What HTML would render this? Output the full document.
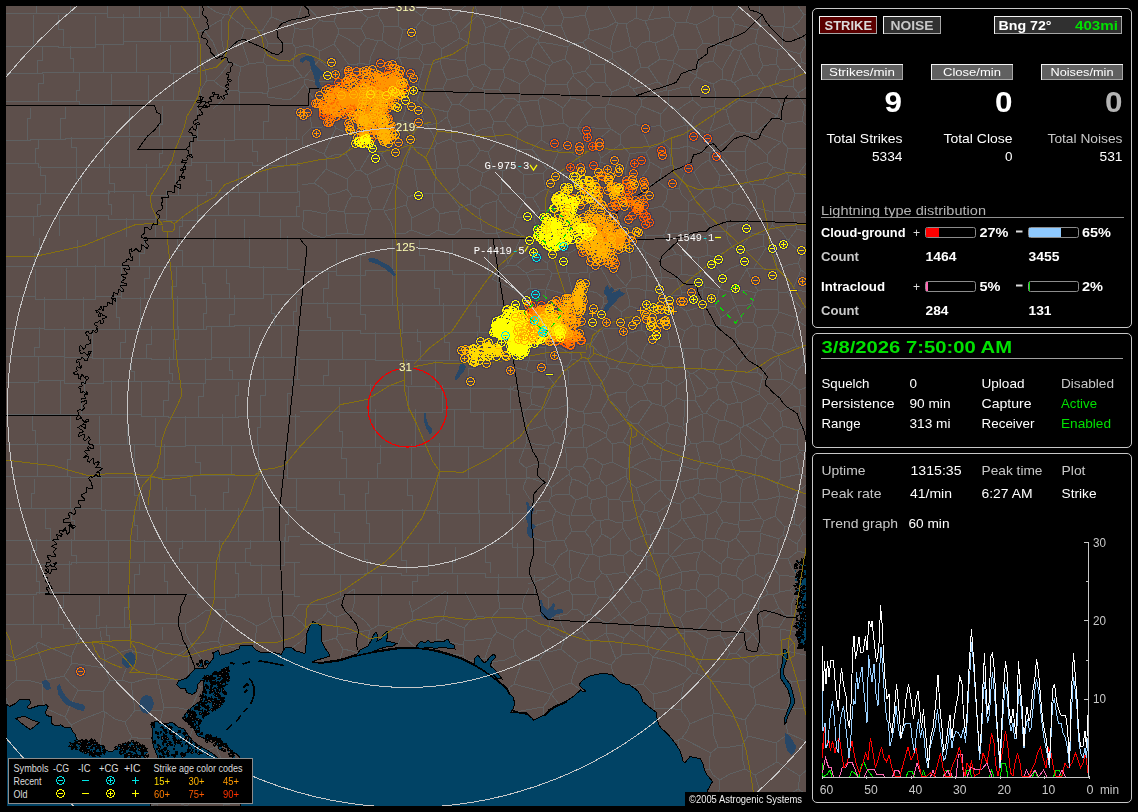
<!DOCTYPE html>
<html><head><meta charset="utf-8"><title>Lightning</title>
<style>html,body{margin:0;padding:0;background:#000;overflow:hidden}svg{display:block}text{font-family:"Liberation Sans",sans-serif}.sf{font-family:"Liberation Serif",serif}</style></head><body>
<svg width="1138" height="812" viewBox="0 0 1138 812">
<defs><clipPath id="mc"><rect x="6" y="6" width="800" height="800"/></clipPath>
<path id="n" d="M-1 -4h3v1h-3zM-3 -3h2v1h-2zM2 -3h2v1h-2zM-3 -2h1v1h-1zM3 -2h1v1h-1zM-4 -1h1v3h-1zM4 -1h1v3h-1zM-3 2h1v1h-1zM3 2h1v1h-1zM-3 3h2v1h-2zM2 3h2v1h-2zM-1 4h3v1h-3zM-2 0h5v1h-5z"/>
<path id="p" d="M-1 -4h3v1h-3zM-3 -3h2v1h-2zM2 -3h2v1h-2zM-3 -2h1v1h-1zM3 -2h1v1h-1zM-4 -1h1v3h-1zM4 -1h1v3h-1zM-3 2h1v1h-1zM3 2h1v1h-1zM-3 3h2v1h-2zM2 3h2v1h-2zM-1 4h3v1h-3zM-2 0h5v1h-5zM0 -2h1v5h-1z"/>
<path id="i" d="M-3 0h7v1h-7z"/>
<path id="j" d="M-3 0h7v1h-7zM0 -3h1v7h-1z"/>
<filter id="halo" filterUnits="userSpaceOnUse" x="0" y="0" width="812" height="812" color-interpolation-filters="sRGB"><feMorphology in="SourceAlpha" operator="dilate" radius="1" result="d"/><feFlood flood-color="#35325a" flood-opacity="0.6"/><feComposite in2="d" operator="in" result="h"/><feMerge><feMergeNode in="h"/><feMergeNode in="SourceGraphic"/></feMerge></filter>
</defs>
<rect width="1138" height="812" fill="#000"/>
<g clip-path="url(#mc)" shape-rendering="crispEdges">
<rect x="6" y="6" width="800" height="800" fill="#5d4f4b"/>
<path d="M33 -10L33 5L36 5L36 13M70 -9L70 13M107 -9L107 13M139 -10L139 17M171 -8L171 4L168 4L168 17M199 -10L199 17M6 13L33 13L70 13L107 13L107 17L139 17L171 17L171 17L199 17L199 14L200 14M33 15L33 46M58 15L58 29L63 29L63 46M95 16L95 47M123 14L123 44M160 12L160 41M187 14L187 41M6 46L33 46L58 46L58 47L95 47L95 44L123 44L123 41L160 41L187 41L200 41M42 46L42 60L37 60L37 73M70 46L70 58L73 58L73 72M103 45L103 72M136 44L136 72M170 45L170 72M197 43L197 73M6 73L42 73L42 72L70 72L103 72L136 72L170 72L170 73L197 73L197 71L200 71M43 74L43 83L38 83L38 101M79 72L79 90L76 90L76 101M111 74L111 104M148 75L148 100M173 74L173 100M6 101L43 101L79 101L79 104L111 104L111 100L148 100L173 100L200 100M30 108L30 118L27 118L27 140M65 107L65 118L60 118L60 139M104 105L104 138M129 105L129 136M162 106L162 124L159 124L159 136M197 104L197 136M234 105L234 140M268 105L268 121L263 121L263 139M296 108L296 139M6 140L30 140L30 139L65 139L65 138L104 138L104 136L129 136L162 136L197 136L197 140L234 140L234 139L268 139L296 139L300 139M38 139L38 148L35 148L35 163M71 137L71 147L76 147L76 167M104 140L104 167M129 138L129 167M162 136L162 153L159 153L159 167M191 139L191 165M224 138L224 162M252 140L252 151L257 151L257 162M286 137L286 165M6 163L38 163L38 167L71 167L104 167L129 167L162 167L162 165L191 165L191 162L224 162L252 162L252 165L286 165L300 165M40 166L40 175L45 175L45 193M76 162L76 178L81 178L81 193M109 164L109 183L114 183L114 193M146 164L146 191M175 163L175 182L178 182L178 195M206 164L206 180L211 180L211 195M238 163L238 192M267 165L267 192M297 162L297 192M6 193L40 193L76 193L109 193L109 191L146 191L146 195L175 195L206 195L206 192L238 192L267 192L297 192L297 191L300 191M40 194L40 204L37 204L37 216M78 193L78 215M108 190L108 204L111 204L111 215M133 194L133 219M166 190L166 219M197 193L197 220M228 194L228 215M259 192L259 215M299 192L299 206L296 206L296 216M6 216L40 216L40 215L78 215L108 215L108 219L133 219L166 219L166 220L197 220L197 215L228 215L259 215L259 216L299 216L300 216M33 217L33 236M59 216L59 236M96 216L96 237M126 218L126 237M155 216L155 237M182 217L182 226L179 226L179 240M215 219L215 240M244 219L244 240M280 219L280 240M39 238L39 253L34 253L34 266M77 240L77 266M104 239L104 266M144 239L144 253L139 253L139 266M177 238L177 250L182 250L182 266M213 238L213 266M249 237L249 266M287 236L287 267M6 266L39 266L77 266L104 266L144 266L177 266L213 266L213 266L249 266L249 267L287 267L287 269L300 269M35 269L35 296M66 268L66 299M95 265L95 299M121 267L121 296M149 266L149 278L144 278L144 298M176 267L176 286L171 286L171 298M202 266L202 283L205 283L205 298M226 269L226 283L229 283L229 298M263 266L263 298M6 296L35 296L35 299L66 299L95 299L95 296L121 296L121 298L149 298L176 298L202 298L226 298L263 298L263 294L300 294M44 297L44 328M83 297L83 329M116 296L116 317L119 317L119 329M140 297L140 329M177 296L177 329M206 296L206 313L203 313L203 329M234 295L234 314L229 314L229 326M271 295L271 313L274 313L274 325M296 297L296 311L293 311L293 325M6 328L44 328L44 329L83 329L116 329L116 329L140 329L177 329L177 329L206 329L206 326L234 326L234 325L271 325L271 325L296 325L296 329L300 329M39 327L39 347L34 347L34 356M64 327L64 356M92 329L92 357M125 329L125 342L120 342L120 358M151 326L151 344L146 344L146 358M178 326L178 339L173 339L173 359M211 326L211 359M249 327L249 357M281 326L281 357M6 356L39 356L64 356L64 357L92 357L92 358L125 358L151 358L151 359L178 359L211 359L211 357L249 357L281 357L300 357M38 356L38 382M64 356L64 380M103 359L103 383M131 359L131 371L134 371L134 381M169 357L169 373L172 373L172 381M205 358L205 383M229 358L229 370L232 370L232 379M263 356L263 379M297 356L297 379M6 382L38 382L38 380L64 380L64 383L103 383L103 381L131 381L169 381L169 383L205 383L205 379L229 379L263 379L297 379L300 379M34 383L34 414M60 380L60 414M84 380L84 398L81 398L81 414M111 380L111 414M141 382L141 414M168 380L168 400L163 400L163 416M203 383L203 396L198 396L198 417M238 382L238 395L235 395L235 417M265 379L265 395L260 395L260 416M292 381L292 393L287 393L287 416M6 414L34 414L60 414L84 414L111 414L111 414L141 414L141 416L168 416L168 417L203 417L238 417L238 416L265 416L292 416L300 416M32 415L32 430L35 430L35 444M70 414L70 444M99 416L99 444M127 415L127 444M155 418L155 444M185 416L185 446M222 414L222 445M260 414L260 427L257 427L257 445M295 414L295 445M6 444L32 444L70 444L99 444L127 444L155 444L155 446L185 446L185 445L222 445L260 445L295 445L300 445M37 443L37 476M70 444L70 459L67 459L67 476M100 446L100 477M134 444L134 477M164 444L164 477M195 445L195 462L200 462L200 475M231 446L231 475M258 444L258 475M287 445L287 475M6 476L37 476L37 476L70 476L70 477L100 477L134 477L164 477L164 475L195 475L231 475L258 475L287 475L287 478L300 478M34 479L34 493L31 493L31 508M70 477L70 508M101 476L101 508M134 478L134 495L139 495L139 510M162 479L162 510M190 477L190 495L195 495L195 510M228 478L228 492L223 492L223 510M262 477L262 510M296 478L296 507M6 508L34 508L70 508L101 508L101 510L134 510L134 510L162 510L190 510L190 510L228 510L262 510L262 507L296 507L296 510L300 510M45 509L45 528L50 528L50 540M71 509L71 520L74 520L74 540M105 509L105 540M134 509L134 525L137 525L137 540M166 507L166 541M205 508L205 541M238 508L238 541M263 507L263 541M288 509L288 524L285 524L285 541M6 540L45 540L71 540L105 540L105 540L134 540L134 541L166 541L205 541L238 541L263 541L288 541L288 536L300 536M36 539L36 550L31 550L31 564M71 539L71 555L76 555L76 564M108 540L108 562M144 540L144 562M182 540L182 548L179 548L179 562M219 540L219 562M250 540L250 548L245 548L245 562M284 537L284 565M6 564L36 564L71 564L71 562L108 562L108 562L144 562L144 562L182 562L219 562L250 562L250 565L284 565L284 562L300 562M36 564L36 581L39 581L39 594M69 561L69 592M108 563L108 594M139 564L139 574L134 574L134 594M164 564L164 581L167 581L167 594M197 564L197 594M235 563L235 573L238 573L238 597M261 564L261 594M294 562L294 594M6 594L36 594L36 592L69 592L69 594L108 594L139 594L164 594L197 594L197 597L235 597L235 594L261 594L294 594L294 596L300 596M336 238L336 271M365 239L365 255L360 255L360 275M392 238L392 270M419 240L419 255L424 255L424 270M452 240L452 252L449 252L449 270M488 238L488 274M300 271L336 271L336 275L365 275L365 270L392 270L419 270L452 270L452 274L488 274L516 274L516 274L545 274M328 273L328 288L323 288L323 303M360 272L360 303M392 271L392 305M434 270L434 288L439 288L439 305M464 272L464 305M497 272L497 305M300 303L328 303L328 303L360 303L360 305L392 305L434 305L464 305L497 305L526 305L545 305M327 302L327 317L330 317L330 330M360 305L360 314L365 314L365 330M402 303L402 333M443 303L443 332M476 302L476 316L479 316L479 332M300 330L327 330L327 330L360 330L360 333L402 333L402 332L443 332L476 332L506 332L545 332M342 332L342 359M375 332L375 359M417 329L417 341L420 341L420 360M444 332L444 342L449 342L449 360M477 331L477 360M300 359L342 359L375 359L375 360L417 360L444 360L444 360L477 360L477 356L512 356L512 360L545 360M328 360L328 375L323 375L323 385M365 361L365 385M406 359L406 371L411 371L411 385M435 360L435 386M473 357L473 368L468 368L468 388M300 385L328 385L365 385L406 385L406 386L435 386L435 388L473 388L513 388L513 386L545 386M339 387L339 411M370 384L370 412M408 386L408 412M442 385L442 412M470 384L470 409M510 386L510 412M300 411L339 411L339 412L370 412L370 412L408 412L442 412L442 409L470 409L470 412L510 412L510 409L541 409L541 407L545 407M339 408L339 431L342 431L342 447M375 409L375 447M415 409L415 447M454 410L454 446M483 411L483 446M513 409L513 448M300 447L339 447L339 447L375 447L415 447L415 446L454 446L483 446L483 448L513 448L513 448L545 448M341 447L341 458L346 458L346 478M380 445L380 463L377 463L377 478M411 444L411 478M439 443L439 478M468 447L468 478M505 447L505 478M300 478L341 478L380 478L411 478L439 478L468 478L505 478L542 478L545 478M339 481L339 494L344 494L344 510M368 481L368 493L365 493L365 510M407 479L407 495L412 495L412 510M437 480L437 510M478 478L478 513M506 479L506 494L509 494L509 513M300 510L339 510L368 510L368 510L407 510L407 510L437 510L437 513L478 513L506 513L536 513L536 510L545 510M334 513L334 532L339 532L339 544M366 510L366 523L369 523L369 543M402 509L402 543M439 511L439 543M479 510L479 543M512 511L512 543M300 544L334 544L334 543L366 543L402 543L439 543L479 543L512 543L512 547L544 547L545 547M334 545L334 574M364 543L364 559L367 559L367 574M401 546L401 560L406 560L406 573M428 543L428 575M455 547L455 562L452 562L452 573M485 546L485 562L490 562L490 573M517 543L517 577M300 574L334 574L364 574L364 573L401 573L401 575L428 575L428 573L455 573L485 573L485 577L517 577L517 577L543 577L543 577L545 577M340 574L340 596M381 576L381 596M417 574L417 581L412 581L412 596M457 575L457 595M498 574L498 596M534 575L534 596M33 596L33 624M63 595L63 607L58 607L58 624M99 596L99 615L96 615L96 628M129 597L129 607L124 607L124 627M154 595L154 624M6 624L33 624L63 624L63 628L99 628L99 627L129 627L129 624L154 624L154 623L186 623M41 624L41 638M79 625L79 633L76 633L76 638M106 625L106 635L109 635L109 641M131 626L131 639M162 627L162 640M684 683L667 691L653 694M684 683L681 696L681 710M653 694L655 708M655 708L669 708L681 710M696 673L709 679M696 673L693 673M693 673L684 683M681 710L687 718L690 724M709 679L711 681M711 681L710 695L714 713M690 724L699 720L712 715M714 713L712 715M546 834L542 831M542 831L524 831M524 831L502 880M188 828L179 831L168 837M188 828L192 830M224 835L219 828M219 828L204 828L192 830M248 832L239 834L224 835M224 804L223 814L219 828M224 804L218 798M218 798L209 799L192 800M188 828L187 806M187 806L192 800M224 804L230 804L240 803M248 832L252 829M241 806L246 815L252 829M252 829L265 829L275 828M837 269L836 256L833 249M753 688L756 704M753 688L749 685M749 685L731 683L711 681M714 713L731 716L745 720M756 704L745 720M742 745L730 747L718 747M742 745L748 736M718 747L714 736L712 715M748 736L745 720M742 745L742 757L745 769M745 769L755 775M777 762L755 775M777 762L776 743M748 736L776 743M678 740L682 738M678 740L680 751M682 738L711 753M704 770L710 769M711 753L709 760L710 769M655 708L654 710M690 724L687 731L682 738M673 740L678 740M718 747L711 753M745 769L730 774L720 780M720 780L713 775L710 769M720 780L718 800M755 775L761 795M761 795L759 797M718 800L759 797M820 803L809 796L798 789M820 803L852 788L896 764M896 764L870 760L823 755M823 755L800 776M800 776L798 789M777 762L800 776M761 795L776 797L784 801M784 801L790 794L798 789M771 832L776 825L786 818M786 818L800 829L814 838M732 832L743 827L750 824M750 824L763 830L771 832M784 801L784 811L786 818M750 824L754 814L759 797M821 830L820 803M821 830L814 838M271 17L271 6M271 17L293 25M271 6L282 -1M282 -1L302 5M293 25L298 18L302 5M241 -4L231 5M231 5L194 -41M524 831L514 824M502 880L492 858L488 840M514 824L502 830L488 840M458 841L465 837L473 830M488 840L473 830M614 897L621 880L630 851M614 897L572 834M630 851L610 815M572 834L576 824M576 824L583 819L593 809M593 809L610 815M546 834L572 834M593 806L593 809M618 806L610 815M91 870L93 852L93 836M91 870L72 849L61 836M61 836L71 824M93 836L71 824M168 837L167 836M164 798L172 801L187 806M164 798L157 804M167 836L157 804M167 836L133 835M93 836L99 830M99 830L116 830L130 828M133 835L130 828M157 671L156 678M157 671L174 658L188 648M188 648L189 660L188 676M184 679L158 680M158 680L156 678M164 708L175 707L188 710M164 708L158 680M191 708L201 687M201 687L198 685M194 762L194 766M158 760L155 771M190 772L162 779M190 772L194 766M155 771L162 779M193 728L190 737M220 742L216 747M216 747L207 750M220 778L194 766M220 778L227 771M227 771L222 761L216 747M164 798L162 787L162 779M192 800L189 787L190 772M218 798L220 787L220 778M163 710L160 722M163 710L152 710L135 710M152 738L143 739L132 737M132 737L128 730L125 722M135 710L130 717L125 722M164 708L163 710M131 683L135 710M131 683L146 679L156 678M204 686L201 687M696 673L704 654L708 639M708 639L720 635M709 679L723 664L730 653M720 635L723 639M730 653L723 639M720 635L722 623M723 639L734 636L748 631M748 631L742 626L736 616M722 623L736 616M708 639L696 632M696 632L706 621L711 613M722 623L716 619L711 613M446 591L412 612M409 601L412 612M275 828L277 826M275 806L277 807M277 826L277 818L277 807M299 829L333 830M339 850L333 830M384 880L377 858L369 827M369 827L358 836L339 850M277 826L290 830L298 830M314 806L304 821L299 829M14 658L24 652L36 645M14 658L16 666L17 680M36 645L42 662L47 680M47 680L43 684M43 684L27 680L17 680M6 654L14 658M6 689L12 683L17 680M131 683L122 680M152 656L133 651M152 656L157 671M122 680L128 663L133 651M132 737L127 743M125 722L115 719L105 712M105 712L100 745M105 750L114 750M838 146L834 144M834 144L835 136L833 128M833 128L853 109L863 97M805 106L824 103M805 106L802 121M809 128L802 121M809 128L823 122M823 122L827 104M824 103L827 104M798 93L798 95M798 93L807 87L814 82M798 95L805 106M814 82L816 83M816 83L822 95L824 103M834 144L823 146L813 146M833 128L823 122M813 146L809 128M863 97L827 104M833 234L832 240L832 248M824 187L825 178L825 171M824 187L846 187L864 183M825 171L832 167L838 163M864 183L838 163M831 211L828 199L822 189M822 189L824 187M838 146L838 163M795 194L791 185L788 180M795 194L789 211M789 211L774 212M774 212L774 202L776 189M788 180L776 189M773 212L757 208M763 184L776 189M763 184L752 185M757 208L756 196L752 185M777 290L777 270M777 290L765 289L758 291M758 291L750 277L747 269M747 269L754 268M754 268L777 270M779 292L777 290M779 292L787 292M801 270L798 263M801 270L793 289M798 263L788 265L777 270M787 292L793 289M718 588L706 598M718 588L718 577M718 577L710 574L700 575M700 575L697 582L696 589M706 598L700 592L696 589M706 608L711 613M706 608L706 598M711 613L729 598M729 598L725 592L718 588M706 608L698 609L686 612M686 612L685 591M685 591L696 589M625 572L630 578M625 572L624 566L623 556M633 578L630 578M633 578L646 569M646 569L647 557M647 557L637 555L630 550M623 556L630 550M735 -11L739 -2L744 1M744 1L756 3M759 6L756 3M759 6L772 2M790 -48L783 -30L772 2M804 15L810 14M804 15L798 6L792 2M810 14L819 4M792 2L793 -2M793 -2L815 -2M819 4L815 -2M785 27L792 27M785 27L784 13L783 6M792 27L798 23L804 15M783 6L792 2M849 6L817 30M849 6L819 4M817 30L810 14M790 -48L793 -19L793 -2M783 6L772 2M759 6L761 25M784 27L773 26L761 25M744 1L731 17M731 17L735 24M735 24L758 30M761 25L758 30M620 135L611 129M620 135L628 127L635 124M611 129L606 120L605 107M635 124L636 115M636 115L626 109L608 104M605 107L608 104M611 129L578 127M578 127L582 119L593 107M605 107L593 107M567 -12L588 7M598 2L588 7M601 2L598 2M601 2L610 -10L626 -28M535 -13L545 -10L560 -4M567 -12L560 -4M735 -11L722 -5L711 -2M710 -3L711 -2M661 114L641 106M661 114L669 105M641 106L641 100M669 105L668 91M641 100L655 93L667 90M641 106L636 115M608 104L612 92M641 100L633 89M633 89L628 85M628 85L612 92M263 -1L254 -4L241 -4M271 6L263 -1M482 -2L502 4M482 -2L475 2M475 2L477 16M486 28L482 19L477 16M486 28L495 24L500 21M500 21L500 13L502 4M510 1L502 4M620 135L621 144M611 129L594 143M621 144L601 158M601 158L594 143M577 127L582 135L588 141M594 143L588 141M787 710L787 712M787 718L786 724L788 733M791 709L817 707M788 733L816 746M816 746L819 729L819 711M819 711L817 707M756 704L773 708L787 710M776 743L784 737L788 733M784 676L792 682M779 672L753 688M792 682L791 686M789 695L789 702L787 710M792 682L805 680L814 676M826 688L814 676M826 688L817 707M823 755L816 746M651 830L650 806M651 830L630 851M716 836L727 830M716 836L686 839M727 830L722 816L717 801M686 839L681 834M681 834L687 816L691 806M707 802L717 801M732 832L727 830M651 830L663 832L681 834M667 443L679 446L686 447M667 443L666 435L670 424M682 427L670 424M682 427L691 443M691 443L686 447M806 636L812 641M820 619L818 636M820 619L810 614M812 641L818 636M806 616L810 614M839 632L835 642M835 642L837 651M837 651L867 667L897 684M833 616L820 619M833 616L839 632M818 636L825 640L835 642M835 614L833 616M815 663L825 658L837 651M815 663L810 656M810 656L810 647L812 641M826 688L866 685L897 684M814 676L815 663M860 587L840 594M840 594L834 599M835 614L833 606L834 599M798 638L792 644L786 651M799 633L792 631L780 629M780 629L782 652M810 656L800 654L787 651M779 672L777 666L778 656M778 656L782 652M791 615L801 617M791 615L786 616M786 616L779 628M293 25L295 28M302 5L305 4M295 28L303 30L312 28M312 28L320 20M320 20L305 4M412 218L411 230M412 218L406 205M406 205L397 208L384 211M384 211L391 223L394 233M411 230L404 234M394 233L404 234M369 827L371 822M336 806L333 818L333 830M363 806L371 822M542 831L542 806M514 824L507 806M576 824L569 816L566 806M498 806L490 816L473 829M473 829L468 820L463 808M464 806L463 808M448 592L447 602L443 619M412 619L412 612M412 619L436 624M436 624L443 619M643 684L653 694M643 684L631 686M3 777L6 773M71 657L80 637M71 657L38 642M36 645L38 642M154 650L160 643M152 656L154 650M131 649L133 651M188 648L189 646M189 646L160 643M189 646L191 644M207 667L191 644M272 617L268 597M257 626L267 621L272 617M257 626L241 617L227 614M227 614L225 609M225 609L226 599M218 641L201 643L191 644M218 641L220 644M220 655L220 644M686 612L680 618M664 592L679 588M664 592L665 601L664 613M685 591L679 588M680 618L672 614L664 613M696 632L685 631M680 618L685 631M693 673L686 667M686 667L684 633M684 633L685 631M749 664L736 653M749 664L756 658L765 652M736 653L753 634M765 652L753 634M749 685L749 664M730 653L736 653M778 656L765 652M748 631L753 634M753 634L762 626M762 626L779 628M729 598L735 600M735 600L734 609L736 616M100 631L105 660M131 649L121 652L105 660M370 630L338 635M370 630L368 639L368 645M358 653L352 651L343 649M343 649L336 638M338 635L336 638M660 588L664 592M660 588L643 591M643 591L640 601M661 614L664 613M661 614L649 613M649 613L645 606L640 601M643 591L633 578M630 578L622 588M640 601L632 603M622 588L627 596L632 603M292 648L300 642L307 635M343 649L340 660M322 642L336 638M322 659L324 662M370 630L372 629M336 617L338 635M336 617L352 611M372 629L365 621L352 611M374 651L376 651M402 629L391 627L379 625M402 629L403 633M403 633L399 642L397 648M372 629L379 625M227 771L240 768M110 681L107 673L104 668M110 681L103 692M104 668L72 663M103 692L78 690M78 690L70 683L64 676M64 676L72 663M122 680L110 681M105 660L104 668M104 711L105 712M104 711L103 692M71 657L72 663M104 711L83 719L71 725M65 717L71 725M65 717L72 702L78 690M47 680L64 676M43 684L42 696L44 705M47 709L65 717M99 830L98 819L96 806M71 824L69 807M69 807L70 806M136 806L137 808M137 808L131 814M131 814L124 811L118 806M155 771L150 772M157 804L150 806M148 806L137 808M130 828L131 814M730 292L736 305M730 292L734 290M734 290L744 290L756 293M736 305L745 306L752 303M752 303L756 293M758 291L756 293M747 269L734 290M779 292L778 309M756 310L778 309M756 310L752 303M825 274L814 279M825 274L834 276M834 276L838 283M814 279L811 285L809 292M838 283L837 287M837 287L822 290L811 296M809 292L811 296M801 270L814 279M798 263L802 254M802 254L810 251M810 251L820 265L825 274M837 269L834 276M832 248L821 250L811 250M793 289L802 291L809 292M839 305L838 296L837 287M815 305L839 305M815 305L812 303M812 303L811 296M802 309L787 292M802 309L812 303M802 254L788 241M788 241L797 229M811 250L810 240L812 231M797 229L804 231L812 231M773 212L772 225M789 211L793 213M797 229L794 219L793 213M788 241L782 232L772 225M777 270L776 262L774 252M788 241L782 247L774 252M754 268L766 248M774 252L766 248M736 131L749 134M736 131L730 123M730 123L726 110M726 110L733 104L740 100M751 103L740 100M751 103L751 132M751 132L749 134M772 225L768 232L763 235M766 248L764 246M763 235L764 246M757 208L751 212M752 233L763 235M752 233L745 222M751 212L745 222M642 387L634 384M642 387L648 400M626 392L634 384M626 392L626 400L630 408M630 408L640 401L648 400M705 539L715 538M705 539L703 541M729 542L720 540L715 538M729 542L728 548L727 557M727 557L721 564M721 564L712 558L702 550M703 541L702 550M696 570L700 575M696 570L697 561L700 552M718 577L722 573M721 564L722 573M702 550L700 552M681 571L677 564L672 557M681 572L659 579M672 557L671 556M671 556L664 564L659 577M659 579L659 577M696 570L689 571L681 571M679 588L682 582L681 572M700 552L686 554L672 557M660 588L659 579M646 569L653 572L659 577M841 556L839 547L836 541M836 541L872 523M815 305L816 315L818 326M839 305L837 317L836 324M818 326L833 326M836 324L833 326M818 326L814 328M833 326L830 337L829 349M829 349L810 347M814 328L810 339L810 347M533 387L530 394M533 387L544 388L552 388M530 394L532 404M532 404L544 408M544 408L550 396L552 388M547 425L529 430M547 425L544 416L545 409M532 404L523 413M529 430L526 422L523 413M504 388L530 394M612 462L626 469M612 462L603 465M603 465L599 478M626 469L626 476M626 476L617 481L606 486M599 478L606 486M608 396L608 399M608 396L618 392L626 392M630 408L626 418M608 399L618 408L626 418M586 448L588 458M586 448L606 437M588 458L594 459L603 465M612 462L613 451L612 444M612 444L606 437M586 448L584 447M584 424L582 427M584 424L598 429L606 434M584 447L583 437L582 427M606 437L606 434M584 414L584 424M584 414L601 412M601 412L606 421L609 426M606 434L609 426M608 399L601 412M609 426L616 424L626 419M677 398L664 407M677 398L676 386M676 386L667 380M662 406L664 407M662 406L661 395L662 383M662 383L667 380M642 387L647 383M647 383L656 383L662 383M652 403L648 400M652 403L662 406M667 422L667 414L664 407M667 422L670 424M677 398L685 401M683 426L684 417L685 401M295 28L292 43M312 28L313 38L313 47M313 47L306 45L296 48M292 43L296 48M571 332L565 320L562 312M571 332L549 335M549 335L548 323L548 311M562 312L548 311M647 383L650 374L653 365M666 369L667 380M666 369L661 363M661 363L653 365M533 387L532 373M532 373L526 370M506 367L517 368L526 370M522 316L520 318M522 316L523 308L522 294M510 318L520 318M492 279L522 294M454 235L448 234L438 230M428 236L438 230M411 230L428 236M485 233L482 231M482 231L470 229L462 228M462 228L454 235M462 228L458 211M440 214L438 230M440 214L449 212L458 211M434 207L440 214M434 207L420 214L412 218M822 39L817 64M817 30L817 36M822 39L817 36M792 27L800 37L806 41M817 36L806 41M814 82L811 66M811 66L817 64M731 81L736 65L741 53M731 81L734 83M734 83L742 78L753 75M741 53L753 75M593 107L586 101M586 101L587 89M605 83L612 92M605 83L595 82M595 82L587 89M571 98L586 101M571 98L567 84M567 84L573 76M587 89L573 76M560 -4L557 2M588 7L585 15M585 15L574 17L564 18M557 2L564 18M530 74L539 78L545 82M530 74L525 62M525 62L531 57M545 82L545 76L550 66M550 66L543 63L531 57M550 66L553 63M531 57L534 47L538 42M553 63L538 42M669 105L678 110M668 91L680 88L689 87M689 87L693 100M678 110L686 104L693 100M731 17L718 17M711 -2L712 5L714 15M718 17L714 15M633 89L658 82M667 90L666 88M666 88L658 82M641 67L631 76M641 67L636 49M631 76L620 66L612 58M636 49L631 46M631 46L623 50L613 53M613 53L612 58M628 85L631 76M658 82L648 67M648 67L641 67M649 41L655 43M649 41L642 43L636 49M655 43L658 53L660 59M648 67L660 59M605 83L605 73L604 65M604 65L612 58M661 114L660 125M635 124L640 126M660 125L647 128L640 126M678 110L686 125M686 125L665 132M660 125L665 132M475 2L470 2M470 2L461 -6M601 158L600 162M600 162L599 163M588 141L578 157M578 157L583 168M599 163L590 167L583 168M564 174L562 193M564 174L581 171M562 193L573 196M573 196L585 190M585 190L583 179L581 171M623 181L632 193L638 202M623 181L615 185L608 191M638 202L627 206M627 206L618 197L608 191M532 149L541 140M532 149L541 161L547 169M552 167L547 169M552 167L556 158L559 151M541 140L548 144L559 151M577 127L570 128M578 157L564 148M570 128L564 148M564 174L552 167M581 171L583 168M564 148L559 151M517 150L514 166M517 150L532 149M547 169L543 173M543 173L524 175M514 166L524 175M305 4L310 -6M367 198L372 209M367 198L352 196M372 209L369 213M369 213L361 213L345 214M345 214L344 212M344 212L348 201L352 196M344 212L330 210M352 196L347 189M347 189L340 192L328 195M328 195L328 204L330 210M347 179L326 169M347 179L347 189M326 169L321 175L314 183M328 195L323 189L314 183M303 145L324 154M326 169L327 158M327 158L324 154M314 183L302 185M326 236L326 214M326 236L340 233L348 233M345 214L346 224L348 233M326 214L330 210M320 51L313 47M320 51L319 60M319 60L304 78M293 65L295 54L296 48M293 65L302 77M302 77L304 78M312 127L302 137M312 127L308 108M308 108L294 110M268 97L289 100M314 100L309 91L305 84M314 100L308 108M289 100L296 95L305 84M369 213L364 234M348 233L352 234M352 234L364 234M326 236L324 238M372 209L383 210M464 628L464 641M464 628L470 621L477 616M464 641L476 640L492 638M477 616L491 618M491 618L497 632M497 632L492 638M443 619L464 628M465 592L477 616M497 590L500 608M500 608L491 618M585 690L582 691M543 707L548 701L551 694M543 707L532 709L515 712M515 712L514 707M510 694L509 688M509 688L514 684M514 684L551 694M544 715L543 707M551 694L559 704M61 836L42 842M69 807L64 806M42 842L38 821L38 806M33 893L36 873L42 842M185 624L196 618L205 611M227 614L222 624L218 641M225 609L215 609L205 611M191 644L186 634L185 624M257 626L254 648M272 617L286 648M220 644L239 649M669 639L658 627M669 639L653 657M658 627L647 642M647 642L649 653M649 653L653 657M684 633L677 634L669 639M661 614L658 627M686 667L675 662L653 657M643 684L649 673L653 657M762 626L762 620M786 616L779 608M762 620L771 612L779 608M736 616L758 608M762 620L758 608M328 611L322 618L315 622M309 627L307 629M328 611L326 604M326 604L310 605L299 604M307 629L302 623L292 615M299 604L292 615M336 617L328 611M308 631L307 629M352 611L355 601L354 589M354 589L341 598L326 604M272 617L292 615M649 613L646 616M647 642L644 639M644 639L646 616M611 665L614 676M611 665L616 659M649 653L632 654L622 655M616 659L622 655M625 572L606 575M622 588L614 591M614 591L611 583L606 575M600 557L610 554M600 557L599 568L602 573M623 556L610 554M602 573L606 575M600 557L592 554M578 577L581 569L589 555M578 577L586 581L594 582M594 582L602 573M592 554L589 555M578 577L572 580M572 580L570 568L569 550M589 555L580 553L569 550M610 554L611 539M630 550L631 541M631 541L627 536L623 528M611 539L616 535L623 528M552 431L555 442M552 431L561 426L564 421M564 421L572 429M572 429L562 444M555 442L562 444M584 447L574 448L565 447M572 429L582 427M562 444L565 447M545 562L553 566M557 574L553 566M557 574L528 584M572 580L569 582M560 577L569 582M560 577L557 574M568 550L560 555L553 566M534 503L529 498L523 488M534 503L523 522M379 625L378 596M402 629L412 619M71 728L71 725M6 689L5 696L9 706M76 736L79 740M813 230L804 212M813 230L826 225M828 215L818 212L806 211M828 215L826 225M806 211L804 212M793 213L804 212M833 234L826 225M831 211L828 215M822 189L820 189M812 194L820 189M812 194L808 200L806 211M812 194L805 193L795 194M751 103L755 102M751 132L755 132M755 102L777 116M755 132L777 116M798 95L793 100L781 105M802 121L786 124M781 105L777 116M786 124L777 116M755 132L781 142M786 124L783 133L782 141M749 140L749 134M749 140L761 149L767 155M781 142L772 149L767 155M763 184L773 167M752 185L748 182M745 171L748 182M745 171L756 165L767 162M773 167L767 162M736 306L721 318M730 292L720 289M715 306L721 318M715 306L719 290M711 190L715 206M711 190L718 185M718 185L733 193M715 206L724 210M724 210L732 203M733 193L732 203M726 231L712 231M726 231L728 227M728 227L724 210M702 215L712 231M702 215L715 206M751 212L745 206L732 203M745 222L739 223L728 227M748 182L733 193M671 212L670 222L665 234M671 212L679 211L688 212M665 234L679 233L687 230M687 230L689 213M702 215L689 213M712 231L705 237M690 236L699 236L705 237M690 236L687 230M729 542L736 538M715 538L718 530L723 522M723 522L738 525M736 538L740 531M738 525L740 531M647 534L644 523L640 516M647 534L631 541M622 523L623 528M622 523L624 521M624 521L631 520L640 516M647 534L650 535M647 557L654 553M654 553L650 535M657 513L644 510M657 513L660 522L664 528M644 510L640 516M650 535L664 528M680 504L682 518M680 504L672 502M682 518L677 524L668 529M657 513L672 502M664 528L668 529M780 496L768 499L759 499M780 496L777 484M759 499L754 475M777 484L767 479L755 475M860 587L834 570M840 594L833 582L831 573M831 573L834 570M834 495L831 487L831 480M834 495L817 498M831 480L811 483M817 498L814 489L811 483M814 511L795 503M814 511L817 498M811 482L801 489L792 499M792 499L795 503M867 449L887 446L899 444M867 449L846 461L833 470M833 470L833 477M837 447L854 450L867 449M837 447L832 455L829 464M829 464L833 470M836 498L834 495M831 480L833 477M841 556L837 559M834 570L837 559M832 352L868 341M832 352L832 364M832 364L838 372M836 324L852 331L868 341M829 349L832 352M802 309L797 318M778 309L779 312M779 312L797 318M814 328L804 325L797 320M797 318L797 320M832 364L820 367M810 347L820 367M564 421L568 412L568 407M584 414L583 412M583 412L577 411L568 407M552 431L547 425M545 409L559 408L566 405M568 407L566 405M527 442L526 438M527 442L524 449L519 462M529 430L526 438M555 442L549 446M549 446L535 444L527 442M526 468L533 465L544 463M526 468L519 462M544 463L546 456L549 446M526 468L527 477M523 488L527 477M588 458L583 466M599 478L591 481M583 466L589 474L591 481M571 515L582 515L593 516M571 515L576 500M576 500L587 496M593 516L590 507L592 500M587 496L592 500M606 486L606 496M591 481L587 486M587 486L587 496M606 496L600 498L592 500M628 468L628 460L632 448M628 468L626 469M612 444L623 442M632 448L623 442M626 419L632 423M623 442L627 435L632 423M667 422L646 432M652 403L646 412L638 424M646 432L638 424M638 424L632 423M567 367L558 364L546 364M567 367L569 374L568 385M556 386L567 386M556 386L547 375L542 369M542 369L546 364M568 385L567 386M552 388L556 386M566 405L567 386M532 373L542 369M572 359L584 362M572 359L567 367M568 385L578 384L591 385M584 362L587 372L591 385M608 396L600 385M616 368L628 373M616 368L610 368M628 373L634 384M610 368L606 377L600 385M583 412L590 399L593 386M600 385L593 386M593 386L591 385M736 306L743 322M756 310L753 322M743 322L753 322M772 326L779 312M772 326L766 325L758 328M753 322L758 328M200 91L206 108M588 272L586 256L581 246M588 272L579 273L568 273M569 253L573 251L581 246M569 253L566 261L566 272M566 272L568 273M616 368L623 358L628 348M628 373L640 358M628 348L640 358M653 365L641 358M524 328L521 343M524 328L538 332L547 337M521 343L530 349M530 349L536 347L545 348M547 337L546 345M545 348L546 345M520 318L524 328M501 355L510 351L521 343M549 335L547 337M522 316L546 310M548 311L546 310M526 370L529 360L530 349M546 364L546 358L545 348M571 354L575 344M571 354L560 348L546 345M571 332L575 344M571 354L572 359M546 189L540 192L533 198M546 189L556 195M556 195L552 211M533 198L540 210M540 210L552 211M543 173L544 180L546 189M526 197L523 193M526 197L533 198M524 175L523 193M562 193L556 195M573 196L572 206L572 212M559 221L572 212M559 221L552 211M551 234L558 228M551 234L542 235M542 235L536 226L534 217M534 217L540 210M558 228L559 221M533 240L522 235M533 240L533 253M522 235L515 251L508 264M533 253L522 260L516 265M516 265L508 265M547 263L533 253M547 263L552 258L555 249M551 234L553 239L555 249M542 235L533 240M734 83L739 90L740 100M753 75L757 76M755 102L765 86M757 76L765 86M781 105L770 86M770 86L765 86M585 190L598 197M574 213L594 210M594 210L598 197M599 163L604 179L608 191M608 191L601 196M601 196L598 197M627 206L618 220M601 196L609 208L618 220M585 71L573 74M585 71L591 64M573 74L571 66L565 59M591 64L588 51L583 42M565 59L568 47M583 42L570 45M570 45L568 47M595 82L585 71M573 76L573 74M604 65L591 64M567 84L546 84M546 84L545 82M553 63L565 59M610 49L613 53M610 49L588 38M588 38L583 42M539 42L553 44L568 47M590 31L585 15M590 31L588 38M564 18L561 25M561 25L566 37L570 45M538 40L539 42M538 40L542 33L545 26M545 26L561 25M548 6L541 18M548 6L532 -3M541 18L524 12M532 -3L522 5M524 12L522 5M557 2L548 6M545 26L541 18M535 -13L532 -3M538 40L529 36M529 36L520 27M520 27L520 21L524 12M510 1L522 5M500 21L510 30M520 27L510 30M654 -3L653 9L648 20M654 -3L667 -2M648 20L661 18L670 17M667 -2L670 17M673 34L665 39L655 43M673 34L676 23M648 20L645 21M645 21L649 31L649 41M670 17L676 23M636 18L637 9L635 -2M636 18L626 24M608 6L616 22M608 6L619 2L630 -8M630 -8L635 -2M626 24L618 23M618 23L616 22M654 -3L650 -4M650 -4L641 -5L635 -2M645 21L636 18M631 46L626 24M601 2L608 6M590 31L607 27L616 22M626 -28L628 -15L630 -8M610 49L613 36L618 23M735 24L730 46M758 30L755 43M755 43L749 45L740 51M740 51L734 49M730 46L734 49M718 17L718 28L720 44M730 46L720 44M696 25L700 35L703 43M696 25L708 19L714 15M703 43L717 45M720 44L717 45M734 49L726 62L722 70M717 45L713 61M713 61L722 70M731 81L722 79M741 53L740 51M722 79L722 70M679 49L673 61M679 49L696 50M696 50L698 58L698 68M674 63L673 61M674 63L696 75M696 75L698 68M673 34L679 49M660 59L673 61M696 25L686 22M703 43L696 50M686 22L676 23M713 61L704 63L698 68M666 88L669 75L674 63M689 87L696 77M696 77L696 75M696 77L713 84M713 84L722 79M709 132L713 123L716 108M709 132L708 134M708 134L701 130L691 125M691 125L694 116L702 108M702 108L714 106M714 106L716 108M730 123L709 132M726 110L716 108M736 131L728 140L715 150M714 150L708 134M686 125L688 126M693 100L702 108M688 126L691 125M713 84L716 95L714 106M671 212L662 206M688 212L689 202M662 206L666 200L668 190M668 190L679 188M679 188L682 195L689 202M711 190L705 189M689 202L697 196L705 189M720 176L716 170L709 160M720 176L718 185M705 189L700 184L694 172M709 160L702 164L694 172M679 188L682 180L685 172M694 172L685 172M621 144L630 154M600 162L625 171M630 154L625 171M623 181L626 176M625 171L626 176M461 -6L447 -5M447 -5L431 -27L419 -45M486 28L484 36L483 42M483 42L485 43M510 30L506 40L504 47M485 43L504 47M529 36L518 43L508 53M504 47L508 53M525 62L510 58M510 58L508 53M401 1L422 16M401 1L410 -18L418 -41M418 -41L430 4M422 16L427 9L430 4M447 -5L441 4M418 -41L419 -45M430 4L441 4M470 2L462 9L451 19M441 4L449 12L451 19M400 2L398 12L399 27M400 2L383 4M383 4L382 5M382 5L378 15M378 15L384 26M399 27L394 26L384 26M358 -3L382 5M358 -3L352 5M378 15L368 18M352 5L368 18M352 5L339 9M310 -6L339 9M320 20L325 22L334 21M339 9L334 21M314 100L336 104M312 127L322 127L333 124M336 104L333 124M303 145L302 137M324 154L336 128M336 128L333 124M497 142L488 152M497 142L492 127M492 127L482 129L476 132M488 152L480 150M480 150L473 140M476 132L473 140M467 165L476 157L480 150M467 165L460 165M473 140L456 143M460 165L456 143M571 98L563 108M570 128L564 123M563 108L562 114L564 123M546 84L542 97M563 108L554 102L542 97M534 217L516 218M522 235L513 227M513 227L516 218M508 264L504 249L497 233M513 227L497 233M526 197L516 216M516 218L516 216M485 233L496 233M492 279L498 272L508 265M496 233L497 233M467 165L483 173M488 152L493 168M493 168L483 173M516 148L517 150M516 148L505 145L497 142M514 166L503 171M493 168L503 171M523 193L512 193L501 193M503 171L502 182L501 193M781 478L800 474M781 478L777 484M811 482L809 478M780 496L792 499M809 478L800 474M781 478L780 462M780 462L796 456M800 474L798 463L796 456M837 447L830 442M834 421L827 431M834 421L899 444M830 442L827 431M834 421L832 413M837 405L832 413M837 405L837 391M838 372L833 387M837 391L833 387M691 443L696 444M683 426L689 420L702 414M702 414L704 441M696 444L704 441M755 475L756 466L757 459M757 459L761 455M779 461L772 460L761 455M693 497L698 493M693 497L705 514M698 493L706 496L721 499M716 511L708 515M716 511L722 501M722 501L721 499M705 514L708 515M680 504L686 499M683 519L682 518M683 519L705 514M686 499L693 497M705 539L708 515M723 522L716 511M683 519L695 537M695 537L703 541M302 228L304 217L303 210M324 238L313 235L302 228M326 214L312 211L303 210M403 633L406 639L415 647M522 608L524 598L529 588M522 608L527 617M527 617L551 614M541 592L548 598M551 614L549 608L548 598M500 608L522 608M497 632L513 640M513 640L519 633L526 629M526 629L527 617M560 577L541 592M569 590L548 598M569 590L569 582M548 629L550 621L553 616M548 629L555 634L565 638M567 635L565 638M567 635L562 626L559 616M559 616L553 616M526 629L531 633L540 637M540 637L548 629M551 614L553 616M571 683L562 686L554 690M571 683L573 675L578 663M554 690L539 660M578 663L561 649M561 649L553 651L546 651M546 651L539 660M582 691L571 683M551 694L554 690M611 665L590 658M590 658L578 663M514 684L522 661M522 661L539 660M540 637L542 645L546 651M565 638L561 649M516 655L513 646L513 640M516 655L522 661M6 827L19 806M6 827L-3 833M42 842L24 836L6 827M33 893L9 857L-3 833M3 777L6 785M644 639L631 630M646 616L630 624M631 630L630 624M622 655L621 646L624 638M631 630L624 638M632 603L620 615M630 624L620 615M594 582L596 594M569 590L572 595M596 594L572 595M559 616L567 614L572 609M572 609L572 595M592 547L590 538L585 532M592 547L602 534M585 532L590 525L596 520M602 534L600 521M596 520L600 521M592 554L592 547M572 531L585 532M572 531L564 541M564 541L568 550M611 539L602 534M570 516L569 522L572 531M593 516L596 520M622 523L615 522L608 519M608 519L600 521M606 496L609 499M609 499L608 519M544 463L550 467M565 447L567 459L566 468M550 467L556 467L566 468M527 477L548 484M550 467L548 475L548 484M583 466L574 467L569 471M566 468L569 471M529 528L534 538M529 528L552 520M534 538L545 542M552 520L554 532L557 540M557 540L545 542M556 511L549 501M556 511L552 520M549 501L534 503M545 562L546 555L545 542M556 511L562 514L570 516M564 541L557 540M788 148L786 158L784 170M788 148L811 149M811 157L811 149M811 157L799 173M799 173L789 176M789 176L784 170M782 141L788 148M773 167L784 170M767 162L767 155M813 146L811 149M825 171L811 157M820 189L810 181L799 173M788 180L789 176M745 151L735 152L718 151M745 151L745 170M718 151L729 164L738 170M745 170L738 170M749 140L745 151M715 150L718 151M720 176L732 174L738 170M714 150L710 153M709 160L710 153M747 269L742 264M720 289L723 281L722 274M722 274L731 268L742 264M764 246L739 253M742 264L739 253M726 231L728 240L732 247M752 233L738 251M732 247L738 251M739 253L738 251M708 255L698 258M708 255L713 257M713 257L715 265M715 265L708 272L702 278M698 258L699 270L701 277M684 255L687 248L690 236M684 255L691 256L698 258M705 237L707 244L708 255M732 247L725 252L713 257M722 274L715 265M705 287L702 278M705 287L719 290M660 460L651 458M660 460L663 447M651 458L642 443M663 447L652 438L646 432M646 432L642 443M628 468L632 467M632 467L643 461L651 458M632 448L642 443M667 443L663 447M686 447L684 452L679 460M660 460L662 462M662 462L679 460M739 521L750 520L761 518M739 521L740 514L739 502M740 502L752 503M752 503L761 518M738 525L739 521M740 531L752 531L760 532M760 532L764 521M764 521L761 518M722 501L732 503L739 502M720 483L721 493L721 499M720 483L728 479L737 475M737 475L743 480M743 480L740 490L740 502M743 480L754 475M759 499L752 503M764 521L775 516M780 496L777 506L775 516M736 538L750 555M760 533L760 542L758 553M758 553L754 556M750 555L754 556M727 557L736 560L744 559M750 555L744 559M722 573L736 576M744 559L738 568L736 576M672 502L666 497L661 490M644 510L644 505M644 505L654 495L661 490M686 499L681 489L680 482M680 482L678 480M678 480L668 480L660 481M661 490L660 481M632 467L646 473L657 480M662 462L660 480M657 480L660 480M679 460L683 466M683 466L678 480M670 556L685 540M670 556L668 554M668 554L668 531M685 540L678 536L668 531M695 537L685 540M654 553L668 554M668 529L668 531M824 518L819 536M824 518L831 516M831 516L840 521M840 521L840 528L835 540M835 540L827 539L819 536M836 498L834 510L831 516M814 511L815 513M815 513L824 518M872 523L854 521L840 521M816 552L830 556L837 559M816 552L819 536M815 513L805 518L799 526M819 536L811 535L803 534M803 534L799 526M795 503L794 524M775 516L785 527M785 527L794 524M794 524L799 526M666 369L673 368L684 366M684 366L690 374M676 386L683 382L689 375M689 375L690 374M582 325L571 332M582 325L589 328L599 332M575 344L585 343L591 344M591 344L599 332M319 60L339 76M304 79L318 82L337 81M337 81L339 76M305 84L304 79M336 104L338 98L338 88M337 81L338 88M320 51L334 44M334 44L349 65M339 76L341 70L349 65M293 65L275 65L266 65M302 77L287 83L269 89M266 65L267 77L269 89M268 97L267 94M267 94L269 89M239 111L240 93M267 94L258 92L240 93M231 5L228 14M204 4L216 12L225 15M228 14L225 15M562 312L564 310M582 325L584 315M564 310L571 312L582 312M584 315L582 312M564 310L564 302L569 295M571 294L569 295M571 294L584 295M582 312L582 304L584 295M548 269L534 270L526 273M548 269L552 273M552 273L550 280L546 289M530 288L530 281L526 273M530 288L537 289L545 290M547 263L548 269M516 265L526 273M555 249L569 253M566 272L558 273L552 273M568 273L571 286L571 294M569 295L546 289M522 294L530 288M546 310L545 290M584 295L590 291M590 273L589 284L590 291M642 248L646 236M642 248L629 254M629 254L616 253M616 253L617 234L620 223M620 223L635 228L643 230M643 230L646 236M638 202L644 203M644 203L648 208M648 208L643 230M618 220L618 222M618 222L620 223M665 234L663 235M662 206L654 208L648 208M663 235L646 236M663 235L676 254M682 256L676 254M701 277L681 274M682 256L681 274M606 248L606 236L603 227M606 248L581 244M581 244L580 239M580 239L587 229M587 229L595 224M595 224L603 227M618 222L611 226L603 227M612 254L616 253M612 254L606 248M581 246L581 244M590 273L601 268M601 268L608 262M612 254L608 262M558 228L580 239M574 213L587 229M594 210L595 224M798 93L793 87M770 86L775 84M793 87L783 86L775 84M755 43L758 45M757 76L763 66M758 45L760 58L763 66M676 -22L674 -14M676 -22L705 -3M674 -14L692 4M705 -3L699 2L692 4M667 -2L673 -8L674 -14M710 -3L705 -3M686 22L692 4M710 153L698 150L687 146M685 172L684 171M684 171L688 157L687 146M688 126L687 137L687 146M665 132L663 142M640 126L650 148M650 148L656 146L663 142M630 154L636 153L646 152M650 148L646 152M687 146L680 148L669 148M663 142L669 148M684 171L671 165M669 148L670 154L671 165M659 182L648 185M659 182L662 169M662 169L650 162M650 162L648 169L641 178M648 185L641 178M668 190L659 182M644 203L645 196L648 185M671 165L662 169M646 152L650 162M626 176L635 175L641 178M382 40L384 26M382 40L388 45L398 50M399 27L403 30M398 50L403 30M516 148L518 133M518 133L512 129L505 121M492 127L494 122M505 121L494 122M361 28L338 29M361 28L366 38M359 47L366 38M359 47L348 39L338 34M338 34L338 29M334 21L338 29M368 18L361 28M382 40L378 41M378 41L366 38M334 44L338 34M406 205L408 197M383 210L394 184M394 184L401 190L408 197M367 198L372 188M372 188L394 183M541 140L542 127M564 123L552 125L544 126M542 127L544 126M518 133L528 125M542 127L528 125M542 97L538 100M544 126L541 115L538 100M505 121L512 109L519 104M528 125L524 115L519 104M471 191L470 204M471 191L480 185M480 185L491 190L498 196M479 209L470 204M479 209L485 204L496 201M496 201L498 199M498 199L498 196M460 208L470 204M460 208L449 193M449 193L456 187L460 182M460 182L471 191M460 182L457 169M460 165L457 169M483 173L480 185M501 193L498 196M482 231L479 209M460 208L458 211M496 233L496 216L496 201M516 216L507 210L498 199M829 464L821 461M809 478L814 466M821 461L814 466M830 442L822 446L818 451M821 461L818 451M796 456L800 452M814 466L800 452M767 439L773 436M767 439L761 452M779 461L781 445M761 455L761 452M781 445L773 436M832 413L824 412L817 409M833 387L819 387M819 387L817 409M716 479L709 478L700 480M716 479L717 473L717 464M717 464L711 462L701 464M701 464L697 470M697 470L698 478M700 480L698 478M720 483L716 479M698 493L700 480M696 444L698 452L701 464M683 466L689 468L697 470M680 482L698 478M719 445L722 458M719 445L729 441L739 433M739 433L742 455M742 455L731 461M731 461L722 458M713 442L704 441M713 442L719 445M717 464L722 458M757 459L742 455M740 432L739 433M740 432L752 444L761 452M737 475L731 461M740 432L741 428M767 439L746 425M746 425L744 426M741 428L744 426M438 807L434 817L432 827M432 827L420 834M402 806L400 827M420 834L413 835L406 834M406 834L400 827M463 808L453 808L438 807M458 841L441 833L432 827M371 822L387 825L400 827M384 880L406 834M463 645L449 642M445 641L437 639M463 645L464 656M464 656L454 654L448 654M437 639L436 641M433 648L432 650M436 624L437 639M464 641L463 645M467 661L475 660M481 659L485 658M488 660L485 658M492 662L494 669M464 656L466 660M492 638L485 658M516 655L505 660L492 662M509 688L507 688M616 659L612 649L606 633M624 638L614 634L606 633M590 658L591 642M606 633L591 642M567 635L576 634L582 631M572 609L578 610L585 616M585 616L582 625L582 631M591 642L582 631M551 497L551 488M551 497L557 494L569 494M551 488L569 474M569 494L570 486L572 479M572 479L569 474M549 501L551 497M548 484L551 488M576 500L569 494M569 471L569 474M587 486L579 481L572 479M703 308L704 316L706 324M703 308L701 307M701 307L686 311M686 311L693 325M693 325L698 327M698 327L706 324M715 306L703 308M705 287L702 290M702 290L703 296L701 307M683 349L692 348L698 348M683 349L680 346M698 348L699 338L698 327M680 346L685 331M685 331L693 325M661 363L664 355L666 348M641 358L645 347L650 341M650 341L660 345L666 348M683 349L684 356L684 366M680 346L670 346M666 348L670 346M735 600L743 593M758 608L760 599M743 593L760 599M736 576L742 581M743 593L742 581M754 556L756 574M742 581L756 574M640 500L636 488M640 500L622 502M619 499L623 491L628 481M619 499L622 502M628 481L636 488M644 505L640 500M657 480L636 488M624 521L622 502M626 476L628 481M609 499L619 499M760 533L779 539M758 553L777 556M777 556L777 547L779 539M785 527L783 535M779 539L783 535M803 534L797 544M783 535L797 544M834 599L818 591M831 573L817 580M817 580L818 591M791 615L791 606L795 595M810 614L810 600M795 595L800 597M806 599L810 600M818 591L810 600M772 326L776 332M797 320L792 336M792 336L784 333L776 332M810 347L803 349M803 349L797 346M792 336L797 346M753 348L757 340L758 328M776 332L772 350M754 349L764 348L772 350M797 346L790 349L778 354M772 350L778 354M685 401L695 400M695 400L703 413M689 375L692 384L696 397M695 400L696 397M690 374L693 373M693 373L703 382L708 389M696 397L703 395L708 389M743 322L735 329M753 348L739 343M739 343L736 338L735 329M721 318L720 325M735 329L720 325M706 324L717 327M720 325L717 327M588 361L606 361M588 361L590 354L591 344M591 344L599 353L606 358M606 361L606 358M584 362L588 361M610 368L606 361M609 352L602 331M609 352L619 347L626 341M619 328L605 328M619 328L626 334M605 328L602 331M626 341L626 334M599 332L602 331M606 358L609 352M628 348L626 341M600 312L591 313L584 315M600 312L605 328M263 62L249 64M263 62L268 43M249 64L241 40M268 43L262 31M262 31L245 28M245 28L241 40M292 43L268 43M266 65L263 62M271 17L262 31M228 14L235 20L245 28M240 93L238 90M249 64L241 67M241 67L238 81L238 90M213 109L223 100L230 91M230 91L238 90M225 15L221 20M241 40L224 52M224 52L221 36L221 20M197 32L204 30M204 30L212 25L221 20M600 312L604 303M590 291L597 293L603 298M604 303L603 298M619 328L621 322L622 312M604 303L614 306L622 312M601 268L613 290M603 298L613 290M702 290L682 293M681 274L677 279M677 279L682 293M780 69L788 70L795 68M780 69L776 64M776 64L778 50M795 68L802 62M782 48L778 50M782 48L790 51L800 54M802 62L800 54M793 87L794 78L795 68M775 84L777 76L780 69M763 66L776 64M758 45L768 47L778 50M811 66L802 62M784 27L782 37L782 48M806 41L805 46L800 54M477 16L459 33M451 19L451 21M459 33L456 25L451 21M422 16L422 20M451 21L433 26M422 20L433 26M403 30L416 27M422 20L416 27M505 77L499 89M505 77L520 84M499 89L505 98M505 98L513 98L520 103M520 84L519 92L520 102M530 74L520 84M510 58L503 69M503 69L505 77M494 122L489 112M489 112L505 98M538 100L520 102M485 43L484 64M503 69L491 69M484 64L491 69M437 144L445 141L451 139M437 144L434 148M457 169L447 168L437 169M456 143L451 139M434 148L436 161L437 169M396 170L406 165M396 170L388 165M388 165L381 154M381 154L388 149L400 142M406 165L407 158L411 147M400 142L410 146M372 188L367 175M367 175L388 165M394 183L396 170M427 125L424 124M427 125L432 133L437 144M434 148L422 148L411 147M410 146L415 130M424 124L415 130M389 128L402 120M389 128L381 127M381 127L379 120L375 111M375 111L391 107L400 103M402 120L405 112L405 105M400 103L405 105M400 142L395 137L389 128M415 130L409 123L402 120M421 106L424 124M421 106L417 100M417 100L405 105M347 179L356 170M327 158L336 154L346 154M346 154L356 170M367 175L360 170M356 170L360 170M818 451L812 449M800 451L812 449M781 445L797 444M800 451L797 444M827 431L815 430M812 449L812 438L815 430M820 367L815 372M803 349L804 359L802 365M815 372L802 365M815 372L817 386M753 348L736 366M754 349L756 360L758 373M758 373L746 372L737 371M736 366L737 371M590 614L607 623M590 614L593 607L599 597M609 598L599 597M609 598L615 607L620 614M620 614L612 620L607 623M606 633L607 623M585 616L590 614M596 594L599 597M614 591L609 598M685 331L677 327L666 320M670 346L668 333L666 321M650 341L645 332M666 321L654 328L645 332M626 334L641 330M641 330L645 332M756 574L764 579M760 599L768 594M764 579L766 589L768 594M779 608L773 595M768 594L773 595M795 595L790 590M790 590L780 592M773 595L780 592M777 556L778 558M764 579L767 574L774 569M778 558L774 569M780 592L779 575M774 569L779 575M790 590L795 585L797 577M779 575L789 576L797 577M778 354L778 358M758 373L762 376M778 358L766 369L762 376M737 371L732 381M759 392L749 387L732 381M759 392L762 379M762 379L762 376M713 442L716 428L719 420M703 413L706 413M706 413L711 416L719 420M741 428L734 424L724 420M719 420L724 420M440 61L442 69L447 80M440 61L430 65L424 64M424 64L418 85M443 88L447 80M443 88L433 89L421 90M421 90L418 85M416 27L417 40M433 26L434 36L435 42M435 42L422 45M422 45L417 40M417 40L405 46L398 50M408 80L399 57M408 80L400 84L390 86M380 71L382 78L387 84M380 71L388 64L399 57M390 86L387 84M424 64L419 59M418 85L408 80M419 59L407 58L399 57M417 100L421 90M400 103L390 86M419 59L422 51L422 45M398 50L399 57M371 107L383 94L387 84M371 107L375 111M379 71L370 81L363 91M379 71L369 65M369 65L360 63M359 88L357 74L357 64M359 88L363 91M357 64L360 63M371 107L367 106M367 106L363 91M378 41L371 56L369 65M359 47L359 53L360 63M338 88L348 89L359 88M349 65L357 64M336 104L349 105L362 108M362 108L367 106M230 62L221 74L214 81M230 62L224 54M224 54L218 54M218 54L212 58L201 62M201 62L205 69L207 80M207 80L214 81M241 67L230 62M230 91L220 86L214 81M224 52L224 54M204 30L213 42L218 54M200 91L207 80M622 312L630 306M641 330L641 310M630 306L641 310M679 306L681 295M679 306L667 314M681 295L672 296L658 292M667 314L658 307M658 292L658 307M686 311L679 306M682 293L681 295M666 320L667 314M677 279L669 278L662 277M662 277L657 292M641 310L643 309M643 309L650 308L658 307M441 58L465 61M441 58L442 49M442 49L450 44L460 38M465 61L466 52L468 43M468 43L460 38M468 70L467 75M468 70L465 61M467 75L447 80M440 61L441 58M435 42L442 49M459 33L460 38M483 42L474 45L468 43M484 64L468 70M476 132L469 123M451 139L452 128M469 123L461 126L452 128M421 106L448 112M443 88L447 96L452 104M452 104L448 112M427 125L439 123L447 117M448 112L447 117M447 117L452 128M474 86L482 89M474 86L459 104M485 109L484 101L484 90M485 109L470 111M484 90L482 89M470 111L459 104M491 69L482 89M467 75L474 86M452 104L459 104M489 112L485 109M499 89L484 90M469 123L470 111M436 170L414 169M436 170L434 193M414 169L418 193M418 193L432 194M432 194L434 193M406 165L414 169M449 193L434 193M408 197L418 193M434 207L432 194M378 131L368 131L353 130M378 131L374 149M374 149L372 150M372 150L360 147L352 144M352 144L349 134M349 134L353 130M362 108L353 130M381 127L378 131M381 154L374 149M360 170L372 150M346 154L352 144M336 128L349 134M800 405L816 409M799 406L801 418L801 428M816 409L810 428M810 428L801 428M817 386L810 386L799 390M799 390L801 397L800 405M815 430L810 428M797 444L797 430M797 430L801 428M774 433L783 426M774 433L760 418M783 426L780 412M780 412L772 404M760 418L768 403M772 404L768 403M773 436L774 433M797 430L790 428L783 426M746 425L751 423L760 418M799 406L788 408L780 412M799 390L792 384M792 384L772 404M744 426L743 416L741 403M741 403L759 394M759 394L768 403M702 368L714 374M702 368L701 359L705 351M714 374L724 355M705 351L715 348M715 348L723 353M723 353L724 355M698 348L705 351M693 373L702 368M717 327L715 335L715 348M739 343L723 353M736 366L732 362L724 355M798 551L788 559M798 551L812 555M788 559L793 570L798 576M812 555L811 575M811 575L806 576M804 576L798 576M797 544L798 551M778 558L788 559M816 552L812 555M817 580L811 575M797 371L792 384M797 371L787 366L779 358M779 358L782 379M792 384L782 379M802 365L797 371M762 379L782 379M759 394L759 392M719 399L728 405M719 399L716 387M731 382L738 402M731 382L719 383M738 402L728 405M716 387L719 383M706 413L712 404L719 399M724 420L728 405M708 389L716 387M741 403L738 402M732 381L731 382M714 374L719 383M676 254L667 257L661 260M662 277L660 268L661 260M642 248L645 252M645 252L661 260M632 278L626 286M632 278L646 275M646 275L647 290M645 291L638 288L626 288M645 291L647 290M626 286L626 287M608 262L618 277L626 286M629 254L632 278M645 252L647 264L646 275M662 277L656 278L646 275M657 292L647 290M630 306L629 299L626 288M643 309L645 302L645 291M613 290L626 287" stroke="#5f6162" fill="none"/>
<polygon points="6.0,704.0 9.6,706.5 16.0,703.3 19.2,700.0 24.0,699.3 29.6,699.3 30.4,703.3 27.2,707.3 28.8,708.9 38.4,705.7 46.4,704.9 48.0,706.5 45.6,712.0 46.4,715.3 51.2,716.9 51.2,723.3 55.3,725.7 60.9,724.9 65.7,728.0 70.5,727.3 72.9,732.0 75.3,734.5 76.9,739.3 83.3,742.5 89.7,740.9 96.0,744.0 102.5,745.7 105.7,750.5 112.0,752.0 115.3,748.9 125.0,744.0 128.0,742.5 133.0,741.7 137.7,745.7 144.0,747.3 147.3,752.0 144.0,757.0 150.0,760.0 150.0,806.0 6.0,806.0" fill="#014365" stroke="#000" stroke-width="1" />
<polygon points="151.0,723.0 158.0,721.0 166.0,724.0 172.0,722.0 178.0,727.0 184.0,729.0 188.0,735.0 193.0,741.0 198.0,745.0 205.0,749.0 212.0,753.0 218.0,758.0 218.0,762.0 158.0,762.0 157.0,755.0 154.0,748.0 152.0,740.0 153.0,732.0" fill="#014365" stroke="#000" stroke-width="1" />
<polygon points="240.0,760.0 239.3,757.0 236.0,753.7 229.7,750.5 226.5,744.0 220.0,742.5 216.9,737.7 207.3,739.3 197.7,736.0 194.5,729.7 188.0,723.3 183.2,716.9 188.0,710.5 196.0,704.0 200.9,700.9 203.0,692.0 204.0,680.0 200.8,680.8 197.6,684.8 196.8,691.2 192.8,694.4 187.2,692.8 184.8,688.0 180.0,688.0 176.8,684.8 178.4,680.8 186.4,678.4 191.2,672.8 196.0,668.0 205.7,668.8 208.9,664.0 213.7,657.6 212.9,652.8 218.5,650.4 220.0,655.2 229.7,652.8 239.3,648.8 240.0,645.6 252.0,645.6 255.3,649.6 261.7,652.8 273.0,652.0 281.0,654.4 284.0,649.6 285.7,647.2 292.0,648.0 296.0,651.0 300.0,652.0 305.0,653.5 306.0,645.0 306.6,634.0 309.0,628.0 311.0,624.0 313.0,621.5 316.0,623.0 321.0,626.0 321.5,634.0 322.0,642.0 325.0,648.0 328.0,652.0 330.0,656.0 324.0,658.0 317.0,660.0 312.0,662.0 318.0,663.0 330.0,661.0 340.0,659.5 351.0,656.0 357.4,654.0 360.0,650.0 364.0,648.0 368.0,646.0 371.0,641.0 373.0,636.0 376.0,632.0 378.0,636.0 377.0,641.0 381.0,639.0 384.0,634.0 387.0,631.0 388.0,636.0 386.0,641.0 391.0,642.0 397.0,643.5 393.0,646.0 386.0,647.0 379.0,649.0 372.0,652.0 385.0,649.5 398.0,647.5 406.0,647.0 416.0,647.0 418.0,644.0 421.0,641.0 425.0,643.0 428.0,640.0 431.0,643.0 437.0,641.0 443.0,642.0 448.0,639.0 450.0,643.0 454.0,645.0 455.0,649.0 449.0,648.5 442.0,647.0 436.0,648.5 430.0,647.5 424.0,648.0 439.7,651.0 450.0,654.0 460.5,657.4 468.0,661.0 474.0,664.0 475.0,658.0 478.0,655.0 481.0,659.0 484.0,663.0 487.0,661.0 490.0,657.0 494.0,654.0 496.0,657.0 492.0,661.0 490.0,666.0 494.0,669.0 497.0,672.0 500.0,676.0 502.0,679.0 497.0,678.0 493.0,675.0 499.0,681.0 507.5,688.8 510.0,694.0 513.0,697.0 514.0,700.5 514.0,706.0 512.8,709.7 510.5,712.5 516.0,712.0 523.0,712.0 527.0,713.0 530.0,716.0 533.5,720.0 538.0,718.0 544.0,715.0 549.0,709.7 555.0,706.0 562.0,703.0 567.4,700.5 574.0,696.0 580.5,690.0 583.0,692.0 585.7,691.0 582.0,688.0 579.0,685.0 582.0,681.0 585.7,678.0 590.0,676.0 596.0,674.4 604.0,673.5 611.8,674.4 616.0,678.0 619.7,682.0 625.0,684.0 630.0,685.0 634.0,688.0 638.0,691.0 641.0,696.0 643.0,701.8 649.0,707.0 656.0,712.0 657.0,718.0 658.8,725.0 662.0,729.0 666.7,733.0 672.0,739.0 677.0,746.0 680.0,751.0 682.0,756.7 683.0,761.0 685.0,763.0 687.0,760.0 690.0,756.7 695.0,757.5 700.6,759.0 703.0,764.0 704.5,770.0 707.0,775.0 712.7,781.5 710.0,786.0 707.4,790.6 708.0,797.0 706.0,806.0 240.0,806.0" fill="#014365" stroke="#000" stroke-width="1" />
<polygon points="806.0,560.0 803.0,566.0 804.0,575.0 801.0,582.0 803.0,590.0 800.0,597.0 802.0,604.0 799.0,611.0 801.0,618.0 798.0,624.0 800.0,630.0 797.0,636.0 799.0,643.0 806.0,650.0" fill="#014365" stroke="#000" stroke-width="1" />
<polygon points="786.0,649.6 788.0,655.0 786.0,662.0 784.0,668.0 783.0,673.0 786.0,679.0 790.0,684.0 792.0,690.0 794.0,698.0 794.0,704.0 791.0,710.0 788.0,716.0 786.0,722.7 784.0,725.0 784.0,720.0 787.0,712.0 790.0,704.0 790.0,697.0 788.0,690.0 785.0,685.0 781.0,679.0 780.0,672.0 782.0,664.0 783.0,656.0 783.0,650.0" fill="#014365" stroke="#000" stroke-width="1" />
<polygon points="16.0,718.5 24.0,716.0 32.0,720.0 39.2,722.5 34.4,726.5 30.4,729.7 22.4,724.0" fill="#5d4f4b" stroke="#000" stroke-width="1" />
<polyline points="318.0,663.5 330.0,662.0 340.0,660.5 351.0,657.0 360.0,655.0 369.0,653.0 385.0,650.5 398.0,648.5 406.0,648.0 416.0,648.0 428.0,649.5 439.7,652.0 450.0,655.0 460.5,658.4 468.0,662.0 476.0,666.0 484.0,671.0 492.0,676.7 499.0,682.0 507.5,689.8 510.0,695.0" fill="none" stroke="#000" stroke-width="1.6" />
<polyline points="512.8,710.7 520.0,713.0 527.0,714.0 531.0,717.5" fill="none" stroke="#000" stroke-width="1.6" />
<polyline points="544.0,716.0 549.0,711.0 555.0,707.0 562.0,704.0 567.4,701.5" fill="none" stroke="#000" stroke-width="1.6" />
<polyline points="248.9,678.4 252.0,682.0 253.7,686.4 254.2,691.0 253.7,696.0 252.5,700.0 250.5,704.0" fill="none" stroke="#000" stroke-width="1.6" />
<polyline points="247.0,708.0 244.0,712.0" fill="none" stroke="#000" stroke-width="1.6" />
<polyline points="241.0,715.5 236.0,721.7" fill="none" stroke="#000" stroke-width="1.6" />
<polyline points="232.0,725.0 226.5,729.7" fill="none" stroke="#000" stroke-width="1.6" />
<polyline points="229.7,662.4 234.5,664.0" fill="none" stroke="#000" stroke-width="1.6" />
<polyline points="242.5,664.0 250.5,661.6" fill="none" stroke="#000" stroke-width="1.6" />
<polyline points="258.5,660.8 266.0,662.0 274.0,663.5 284.0,665.6" fill="none" stroke="#000" stroke-width="1.6" />
<polyline points="243.0,688.0 247.0,684.0 249.0,686.0" fill="none" stroke="#000" stroke-width="1.6" />
<polyline points="244.0,693.0 247.0,690.0" fill="none" stroke="#000" stroke-width="1.6" />
<polygon points="223.8,676.3 223.1,675.2 224.5,674.2 225.4,675.5 224.6,676.8" fill="#000" stroke="#000" stroke-width="1" />
<polygon points="228.5,666.9 229.1,669.1 227.6,670.4 226.0,668.7 226.8,667.3" fill="#000" stroke="#000" stroke-width="1" />
<polygon points="196.7,709.2 196.2,709.5 195.7,709.3 195.7,708.7 196.1,708.5 196.6,708.6" fill="#000" stroke="#000" stroke-width="1" />
<polygon points="222.3,700.0 221.0,700.1 219.7,698.7 221.3,697.3 223.1,698.2" fill="#000" stroke="#000" stroke-width="1" />
<polygon points="206.8,692.4 206.7,693.0 206.1,693.2 205.3,693.2 205.6,692.4 206.2,691.8" fill="#000" stroke="#000" stroke-width="1" />
<polygon points="203.6,696.2 204.4,696.9 203.3,697.6 202.8,696.5" fill="#000" stroke="#000" stroke-width="1" />
<polygon points="207.7,681.7 206.0,681.6 206.0,680.0 206.4,678.6 207.5,679.1 208.7,680.4" fill="#000" stroke="#000" stroke-width="1" />
<polygon points="222.7,685.7 222.8,687.2 220.7,687.4 220.0,686.4 220.0,684.6 221.6,684.7" fill="#000" stroke="#000" stroke-width="1" />
<polygon points="199.1,730.6 199.6,732.2 198.1,732.5 196.9,732.0 197.7,730.7" fill="#000" stroke="#000" stroke-width="1" />
<polygon points="189.6,722.6 189.1,721.7 189.3,720.4 189.9,720.2 191.2,720.4 191.6,721.3 191.0,721.8" fill="#000" stroke="#000" stroke-width="1" />
<polygon points="224.3,677.1 223.1,677.1 222.1,675.7 222.3,674.9 224.1,674.2 225.2,674.9 226.0,676.0" fill="#000" stroke="#000" stroke-width="1" />
<polygon points="196.1,708.4 196.9,706.7 198.7,705.9 200.3,707.8 198.3,708.9" fill="#000" stroke="#000" stroke-width="1" />
<polygon points="209.2,678.1 209.8,676.9 210.7,675.9 211.5,676.5 212.5,677.6 211.5,678.2 210.5,678.6" fill="#000" stroke="#000" stroke-width="1" />
<polygon points="225.7,678.2 225.2,678.2 225.0,677.6 225.4,677.4 226.0,677.0 226.4,677.6 226.2,678.3" fill="#000" stroke="#000" stroke-width="1" />
<polygon points="194.2,716.5 195.0,715.4 196.3,715.9 195.7,717.8" fill="#000" stroke="#000" stroke-width="1" />
<polygon points="219.6,696.1 220.0,697.1 219.6,698.0 218.2,698.1 218.0,697.8 217.4,696.5 218.3,696.1" fill="#000" stroke="#000" stroke-width="1" />
<polygon points="188.3,714.9 189.5,713.4 190.6,714.5 190.7,715.8 190.2,716.7 189.1,716.3" fill="#000" stroke="#000" stroke-width="1" />
<polygon points="220.3,674.5 221.5,674.1 221.7,675.8 221.2,677.3 219.4,676.5 219.1,675.3" fill="#000" stroke="#000" stroke-width="1" />
<polygon points="200.5,711.0 199.9,710.2 200.9,709.7 201.1,710.7" fill="#000" stroke="#000" stroke-width="1" />
<polygon points="208.1,711.1 207.5,710.4 207.6,709.3 208.5,709.4 209.1,710.4" fill="#000" stroke="#000" stroke-width="1" />
<polygon points="213.5,674.9 212.9,674.9 213.0,674.1 213.2,673.7 213.8,673.4 213.9,674.1 214.3,674.7" fill="#000" stroke="#000" stroke-width="1" />
<polygon points="221.1,676.0 222.1,677.5 221.1,678.9 220.0,678.4 219.1,677.5 220.0,676.8" fill="#000" stroke="#000" stroke-width="1" />
<polygon points="195.1,731.8 195.4,730.5 196.6,729.5 197.2,731.3 197.0,732.4 195.7,732.7" fill="#000" stroke="#000" stroke-width="1" />
<polygon points="224.7,691.1 226.4,692.2 226.1,694.8 223.7,693.6" fill="#000" stroke="#000" stroke-width="1" />
<polygon points="201.2,734.8 200.0,735.0 199.6,734.1 200.5,733.6 201.5,733.2 201.7,734.3" fill="#000" stroke="#000" stroke-width="1" />
<polygon points="202.2,714.1 203.5,713.8 203.8,714.7 203.1,715.4" fill="#000" stroke="#000" stroke-width="1" />
<polygon points="228.0,681.7 226.9,680.9 226.0,680.3 227.1,679.2 227.7,679.1 228.5,679.6 229.1,680.5" fill="#000" stroke="#000" stroke-width="1" />
<polygon points="208.5,676.7 208.8,677.4 208.5,678.3 207.5,678.2 207.4,677.6 207.7,676.7" fill="#000" stroke="#000" stroke-width="1" />
<polygon points="195.9,718.1 197.3,717.7 198.2,719.0 197.6,720.4 196.3,720.6 195.7,719.2" fill="#000" stroke="#000" stroke-width="1" />
<polygon points="193.2,713.8 194.5,712.7 195.5,714.2 194.1,715.2" fill="#000" stroke="#000" stroke-width="1" />
<polygon points="209.9,678.7 210.6,676.9 212.5,678.2 212.5,679.5 211.6,680.6 210.1,680.7" fill="#000" stroke="#000" stroke-width="1" />
<polygon points="227.7,669.1 228.5,668.9 229.0,670.2 229.0,671.4 227.8,671.8 226.6,670.9 226.4,669.9" fill="#000" stroke="#000" stroke-width="1" />
<polygon points="204.8,691.8 205.0,690.9 206.1,691.4 206.1,692.1 205.0,692.7" fill="#000" stroke="#000" stroke-width="1" />
<polygon points="207.0,708.0 206.5,708.6 205.7,708.8 205.3,708.2 205.3,707.3 206.0,707.4 206.5,707.4" fill="#000" stroke="#000" stroke-width="1" />
<polygon points="226.8,670.3 225.8,669.5 226.3,667.8 227.9,668.0 228.1,670.2" fill="#000" stroke="#000" stroke-width="1" />
<polygon points="186.6,718.2 186.9,719.8 185.5,720.6 183.9,719.9 183.6,718.7 185.2,718.5" fill="#000" stroke="#000" stroke-width="1" />
<polygon points="214.4,706.8 212.8,706.5 213.6,704.7 214.4,704.3 215.2,704.8 215.7,706.4" fill="#000" stroke="#000" stroke-width="1" />
<polygon points="211.1,705.8 211.5,704.5 212.6,703.8 212.8,705.2 212.2,706.2" fill="#000" stroke="#000" stroke-width="1" />
<polygon points="209.8,679.7 210.8,680.0 211.0,681.4 209.8,681.2" fill="#000" stroke="#000" stroke-width="1" />
<polygon points="193.2,713.9 193.8,715.2 193.7,716.7 192.6,716.8 191.7,716.4 191.7,714.7 192.2,713.8" fill="#000" stroke="#000" stroke-width="1" />
<polygon points="198.6,724.1 198.2,723.2 199.0,722.5 199.7,723.0 200.1,723.6 199.4,724.2" fill="#000" stroke="#000" stroke-width="1" />
<polygon points="187.2,719.9 186.1,720.6 184.7,720.4 183.5,719.5 184.7,718.9 185.9,718.6" fill="#000" stroke="#000" stroke-width="1" />
<polygon points="225.6,672.9 225.8,671.7 226.6,671.3 227.9,672.4 226.5,673.8" fill="#000" stroke="#000" stroke-width="1" />
<polygon points="217.2,692.2 217.9,691.6 218.4,692.0 218.3,692.8 218.1,693.2 217.3,692.9" fill="#000" stroke="#000" stroke-width="1" />
<polygon points="218.5,703.8 216.3,702.4 217.9,700.0 219.1,701.6" fill="#000" stroke="#000" stroke-width="1" />
<polygon points="220.5,673.7 220.4,672.8 221.0,672.5 221.8,672.7 222.1,673.2 222.1,673.8 221.1,674.5" fill="#000" stroke="#000" stroke-width="1" />
<polygon points="216.9,695.3 215.9,693.4 217.1,692.1 218.4,692.1 218.7,694.1" fill="#000" stroke="#000" stroke-width="1" />
<polygon points="193.2,712.5 193.9,713.3 193.1,713.9 192.8,713.1" fill="#000" stroke="#000" stroke-width="1" />
<polygon points="200.6,704.0 200.7,704.7 199.2,705.7 198.2,704.7 197.6,703.6 199.0,702.3 199.9,703.0" fill="#000" stroke="#000" stroke-width="1" />
<polygon points="206.2,706.6 205.7,707.2 204.9,707.4 204.4,706.6 204.8,706.0 205.3,705.8 205.7,705.8" fill="#000" stroke="#000" stroke-width="1" />
<polygon points="213.6,707.1 215.4,707.2 216.5,708.2 215.6,710.0 213.6,708.8" fill="#000" stroke="#000" stroke-width="1" />
<polygon points="200.6,695.0 201.4,695.3 202.5,695.6 202.1,696.3 201.9,697.5 200.7,696.7 200.0,696.4" fill="#000" stroke="#000" stroke-width="1" />
<polygon points="187.3,720.0 186.7,719.5 187.1,718.5 188.0,718.6 188.6,719.1 188.1,720.3" fill="#000" stroke="#000" stroke-width="1" />
<polygon points="212.4,698.8 211.5,698.8 210.8,698.2 211.4,697.2 212.0,696.5 213.3,697.0 213.4,698.0" fill="#000" stroke="#000" stroke-width="1" />
<polygon points="224.6,685.5 224.1,686.8 222.4,686.5 223.4,685.2" fill="#000" stroke="#000" stroke-width="1" />
<polygon points="185.8,717.0 185.4,718.0 184.2,717.6 184.3,716.8 184.5,716.3 185.2,715.9 185.6,716.2" fill="#000" stroke="#000" stroke-width="1" />
<polygon points="217.3,674.9 218.8,675.2 218.8,677.1 217.5,676.7" fill="#000" stroke="#000" stroke-width="1" />
<polygon points="229.1,676.3 229.1,677.7 227.8,678.8 226.8,676.9 227.8,675.7" fill="#000" stroke="#000" stroke-width="1" />
<polygon points="204.2,687.8 204.8,686.2 205.8,685.4 207.2,687.0 206.3,688.1 205.1,689.0" fill="#000" stroke="#000" stroke-width="1" />
<polygon points="204.1,686.7 205.4,687.6 206.3,688.6 205.3,690.3 203.6,689.6 202.9,688.1" fill="#000" stroke="#000" stroke-width="1" />
<polygon points="219.5,687.7 218.3,688.7 217.6,687.7 218.3,687.0" fill="#000" stroke="#000" stroke-width="1" />
<polygon points="217.1,703.0 214.9,703.3 215.4,701.7 217.6,701.6" fill="#000" stroke="#000" stroke-width="1" />
<polygon points="191.7,725.1 191.5,724.0 192.9,723.6 194.2,723.4 194.6,724.3 193.8,725.4 193.0,726.1" fill="#000" stroke="#000" stroke-width="1" />
<polygon points="203.0,681.2 203.3,680.2 204.1,680.1 204.8,681.2 203.7,681.8" fill="#000" stroke="#000" stroke-width="1" />
<polygon points="217.0,694.1 216.7,695.0 215.7,694.7 215.8,693.6" fill="#000" stroke="#000" stroke-width="1" />
<polygon points="219.2,694.9 220.4,695.0 220.1,696.5 220.3,697.1 218.8,697.8 218.1,696.9 218.0,695.8" fill="#000" stroke="#000" stroke-width="1" />
<polygon points="214.6,698.2 216.0,698.4 216.6,700.2 215.3,700.9 213.7,701.0 213.7,698.9" fill="#000" stroke="#000" stroke-width="1" />
<polygon points="219.2,701.3 218.5,701.9 217.7,701.2 217.8,700.6 218.5,700.5 219.2,700.5" fill="#000" stroke="#000" stroke-width="1" />
<polygon points="205.0,700.5 205.0,699.1 206.8,698.6 207.3,700.0 206.3,700.9" fill="#000" stroke="#000" stroke-width="1" />
<polygon points="190.2,710.0 190.4,710.9 189.8,711.2 188.5,711.5 188.0,710.3 189.1,709.7" fill="#000" stroke="#000" stroke-width="1" />
<polygon points="206.3,703.4 205.8,702.7 206.6,702.3 207.0,702.1 207.4,702.8 207.1,703.2 206.7,703.5" fill="#000" stroke="#000" stroke-width="1" />
<polygon points="209.5,708.7 208.2,709.5 207.9,707.6 209.1,707.0" fill="#000" stroke="#000" stroke-width="1" />
<polygon points="213.1,701.9 214.7,701.4 216.0,702.1 216.6,703.1 215.3,704.7 213.5,703.9 212.6,703.0" fill="#000" stroke="#000" stroke-width="1" />
<polygon points="187.5,720.4 187.3,718.8 187.4,718.0 188.3,716.9 189.4,718.4 189.3,719.3 188.3,720.1" fill="#000" stroke="#000" stroke-width="1" />
<polygon points="197.8,725.6 198.2,725.1 199.1,725.1 198.7,726.0 198.2,726.0" fill="#000" stroke="#000" stroke-width="1" />
<polygon points="218.5,685.9 217.7,685.5 218.1,684.7 219.0,684.9 219.8,685.2 219.5,685.8" fill="#000" stroke="#000" stroke-width="1" />
<polygon points="214.1,674.6 214.0,675.4 212.8,675.7 212.6,674.6 213.0,673.2 213.9,673.7" fill="#000" stroke="#000" stroke-width="1" />
<polygon points="203.4,715.7 202.4,715.0 202.3,713.6 203.8,713.3 204.2,714.9" fill="#000" stroke="#000" stroke-width="1" />
<polygon points="203.0,704.6 203.8,704.7 204.3,704.8 204.7,705.3 204.0,706.0 203.2,705.4" fill="#000" stroke="#000" stroke-width="1" />
<polygon points="224.8,681.4 223.3,680.4 224.4,679.0 225.9,679.8 225.8,680.7" fill="#000" stroke="#000" stroke-width="1" />
<polygon points="223.0,698.6 222.9,697.8 223.5,697.6 224.6,697.3 225.0,697.9 224.9,698.5 224.1,698.7" fill="#000" stroke="#000" stroke-width="1" />
<polygon points="212.6,678.6 213.9,677.6 214.8,678.8 214.5,679.7 212.9,679.8" fill="#000" stroke="#000" stroke-width="1" />
<polygon points="204.6,712.0 204.5,710.8 204.9,710.0 206.0,710.4 205.5,711.5" fill="#000" stroke="#000" stroke-width="1" />
<polygon points="222.2,672.1 221.8,673.3 220.2,673.4 219.6,672.0 220.9,671.3" fill="#000" stroke="#000" stroke-width="1" />
<polygon points="205.4,712.0 207.0,712.8 205.0,713.7 203.5,712.6" fill="#000" stroke="#000" stroke-width="1" />
<polygon points="214.0,697.8 214.0,698.3 213.6,698.6 213.2,698.7 212.6,698.4 213.0,697.8 213.5,697.4" fill="#000" stroke="#000" stroke-width="1" />
<polygon points="207.1,686.6 206.0,686.8 206.1,686.0 207.1,685.6" fill="#000" stroke="#000" stroke-width="1" />
<polygon points="221.4,702.9 222.2,704.3 220.7,704.4 219.8,703.3" fill="#000" stroke="#000" stroke-width="1" />
<polygon points="201.9,702.7 203.0,703.0 203.5,703.7 202.1,704.7 201.1,704.0 201.3,702.8" fill="#000" stroke="#000" stroke-width="1" />
<polygon points="205.2,703.5 204.1,704.2 203.4,703.3 204.4,702.8" fill="#000" stroke="#000" stroke-width="1" />
<polygon points="202.0,712.8 203.6,713.0 202.8,714.4 201.7,714.3" fill="#000" stroke="#000" stroke-width="1" />
<polygon points="224.1,701.6 222.8,702.6 220.8,701.5 221.2,700.0 222.6,699.5 224.0,699.7" fill="#000" stroke="#000" stroke-width="1" />
<polygon points="198.1,721.3 198.7,719.6 200.0,719.6 201.5,721.1 201.2,721.9 199.6,723.3 198.1,722.6" fill="#000" stroke="#000" stroke-width="1" />
<polygon points="218.8,701.0 219.5,701.5 218.7,702.0 218.0,701.4" fill="#000" stroke="#000" stroke-width="1" />
<polygon points="217.0,679.7 217.1,678.8 217.8,678.3 218.3,678.7 218.5,679.3 218.5,679.9 217.7,679.8" fill="#000" stroke="#000" stroke-width="1" />
<polygon points="214.1,681.6 216.5,682.1 216.2,683.5 214.5,684.5 212.5,683.0" fill="#000" stroke="#000" stroke-width="1" />
<polygon points="204.4,716.7 203.5,717.9 202.6,716.9 203.3,715.8" fill="#000" stroke="#000" stroke-width="1" />
<polygon points="202.9,700.8 201.5,701.1 200.7,700.3 201.3,699.6 202.1,699.2 202.5,699.7" fill="#000" stroke="#000" stroke-width="1" />
<polygon points="217.6,684.1 216.0,682.4 218.0,681.6 219.3,682.8" fill="#000" stroke="#000" stroke-width="1" />
<polygon points="208.3,688.0 209.3,687.6 210.0,688.0 210.0,688.8 209.6,689.0 209.0,689.2 208.3,688.8" fill="#000" stroke="#000" stroke-width="1" />
<polygon points="190.4,724.1 189.4,722.7 190.9,722.1 192.3,722.6 192.2,723.5" fill="#000" stroke="#000" stroke-width="1" />
<polygon points="194.8,719.9 193.4,718.5 193.3,717.6 193.9,717.0 194.9,716.5 196.0,717.3 196.0,718.5" fill="#000" stroke="#000" stroke-width="1" />
<polygon points="196.1,706.4 197.5,707.0 197.9,708.7 196.4,708.6" fill="#000" stroke="#000" stroke-width="1" />
<polygon points="214.8,693.0 215.6,693.3 215.1,694.1 213.9,693.9" fill="#000" stroke="#000" stroke-width="1" />
<polygon points="217.3,694.0 216.8,695.1 216.2,695.1 215.4,694.9 215.6,693.6 216.4,693.4" fill="#000" stroke="#000" stroke-width="1" />
<polygon points="191.9,713.0 190.9,713.1 190.6,712.1 191.0,711.3 192.0,711.6 192.2,712.4" fill="#000" stroke="#000" stroke-width="1" />
<polygon points="195.2,720.3 195.1,721.0 194.2,721.4 193.3,721.0 192.9,720.4 193.3,719.6 194.3,720.0" fill="#000" stroke="#000" stroke-width="1" />
<polygon points="199.3,707.1 199.9,707.0 199.8,707.7 199.8,708.3 199.2,708.4 199.0,707.9 198.7,707.3" fill="#000" stroke="#000" stroke-width="1" />
<polygon points="221.4,682.3 221.5,683.4 220.5,683.3 220.1,682.7 220.2,682.0 221.1,681.7" fill="#000" stroke="#000" stroke-width="1" />
<polygon points="189.7,709.5 190.4,709.7 190.5,710.5 190.0,711.1 189.2,710.5 189.3,709.9" fill="#000" stroke="#000" stroke-width="1" />
<polygon points="219.5,684.8 218.8,684.4 218.1,684.0 218.5,683.3 219.0,682.8 219.8,683.2 220.3,684.0" fill="#000" stroke="#000" stroke-width="1" />
<polygon points="213.1,702.2 213.2,702.6 213.2,703.1 212.7,703.3 212.1,703.2 212.2,702.5 212.5,702.0" fill="#000" stroke="#000" stroke-width="1" />
<polygon points="224.0,678.7 223.7,677.2 225.4,676.1 226.2,677.1 226.6,678.3 225.3,679.8" fill="#000" stroke="#000" stroke-width="1" />
<polygon points="195.6,724.8 195.7,726.2 194.5,727.1 193.1,726.7 191.8,725.3 193.3,724.5 194.4,723.4" fill="#000" stroke="#000" stroke-width="1" />
<polygon points="225.3,678.3 225.2,677.5 226.0,677.4 226.6,677.8 226.6,678.4 225.9,679.1" fill="#000" stroke="#000" stroke-width="1" />
<polygon points="218.7,678.8 218.8,677.1 219.1,676.0 220.5,675.7 221.2,677.3 220.1,678.7" fill="#000" stroke="#000" stroke-width="1" />
<polygon points="204.1,712.1 205.5,712.6 207.1,713.6 206.1,715.7 204.5,715.0 204.1,714.0" fill="#000" stroke="#000" stroke-width="1" />
<polygon points="214.7,707.4 213.9,708.6 211.7,708.0 212.3,706.5 214.0,705.3" fill="#000" stroke="#000" stroke-width="1" />
<polygon points="205.3,695.7 206.9,696.3 206.5,698.6 204.4,697.9" fill="#000" stroke="#000" stroke-width="1" />
<polygon points="216.6,691.6 216.3,690.9 217.3,690.8 218.0,691.0 217.8,691.6 217.5,692.1" fill="#000" stroke="#000" stroke-width="1" />
<polygon points="195.4,707.0 195.8,708.6 194.6,709.1 194.6,708.0" fill="#000" stroke="#000" stroke-width="1" />
<polygon points="195.3,718.8 195.0,720.7 194.6,721.6 193.6,722.1 192.9,720.3 193.4,718.9" fill="#000" stroke="#000" stroke-width="1" />
<polygon points="193.7,710.2 194.2,710.9 195.0,712.4 193.5,713.2 192.3,712.9 192.3,711.6 192.3,710.6" fill="#000" stroke="#000" stroke-width="1" />
<polygon points="222.3,680.5 222.7,679.3 224.3,678.9 225.1,680.3 224.3,681.2 222.9,681.3" fill="#000" stroke="#000" stroke-width="1" />
<polygon points="191.6,723.7 192.0,722.4 192.8,722.0 194.0,722.7 194.5,723.9 193.5,725.4 192.2,724.5" fill="#000" stroke="#000" stroke-width="1" />
<polygon points="213.7,681.4 215.9,680.5 215.8,682.9 214.9,683.9 213.0,683.0" fill="#000" stroke="#000" stroke-width="1" />
<polygon points="215.5,705.7 217.3,705.0 217.8,706.2 216.7,707.8" fill="#000" stroke="#000" stroke-width="1" />
<polygon points="225.4,683.2 224.9,682.8 224.7,682.3 225.8,682.1 225.8,682.8" fill="#000" stroke="#000" stroke-width="1" />
<polygon points="197.2,715.5 197.0,717.5 195.2,718.2 195.0,716.1 195.8,714.3" fill="#000" stroke="#000" stroke-width="1" />
<polygon points="207.4,685.3 207.1,686.2 206.0,686.7 205.3,685.9 205.1,685.1 205.8,684.5 206.8,684.4" fill="#000" stroke="#000" stroke-width="1" />
<polygon points="213.8,702.0 214.5,700.8 215.8,701.2 216.0,702.4 215.0,703.0 214.0,703.3" fill="#000" stroke="#000" stroke-width="1" />
<polygon points="208.8,689.5 209.0,688.7 209.9,688.5 210.2,689.4 209.7,690.0" fill="#000" stroke="#000" stroke-width="1" />
<polygon points="213.9,694.4 215.9,694.1 216.3,695.3 214.8,695.9" fill="#000" stroke="#000" stroke-width="1" />
<polygon points="221.9,674.3 222.6,673.2 224.2,674.1 223.6,675.5 222.3,676.0" fill="#000" stroke="#000" stroke-width="1" />
<polygon points="225.3,669.9 225.9,670.0 225.7,670.5 225.4,670.8 224.8,670.9 224.4,670.5 224.8,669.8" fill="#000" stroke="#000" stroke-width="1" />
<polygon points="215.5,671.6 217.3,672.4 215.9,673.6 214.2,672.9" fill="#000" stroke="#000" stroke-width="1" />
<polygon points="183.2,716.7 184.8,717.6 183.5,719.1 182.4,717.9" fill="#000" stroke="#000" stroke-width="1" />
<polygon points="207.3,689.2 206.5,687.6 206.9,686.4 207.8,686.1 208.9,686.7 209.3,687.5 208.7,688.5" fill="#000" stroke="#000" stroke-width="1" />
<polygon points="190.4,715.9 191.3,716.6 190.5,717.3 189.5,717.7 188.8,716.6 189.3,715.9 189.9,715.8" fill="#000" stroke="#000" stroke-width="1" />
<polygon points="191.2,721.3 189.4,721.6 189.2,719.7 190.6,719.3" fill="#000" stroke="#000" stroke-width="1" />
<polygon points="217.4,672.0 218.6,672.0 220.1,672.7 218.9,673.6 217.2,673.8" fill="#000" stroke="#000" stroke-width="1" />
<polygon points="221.9,682.1 222.6,680.8 224.4,681.3 224.4,682.6 222.8,683.1" fill="#000" stroke="#000" stroke-width="1" />
<polygon points="219.6,681.3 218.7,681.8 218.4,680.8 219.1,679.7" fill="#000" stroke="#000" stroke-width="1" />
<polygon points="222.5,672.4 223.0,671.5 224.2,672.1 223.8,673.2 223.4,674.1 222.2,673.7" fill="#000" stroke="#000" stroke-width="1" />
<polygon points="214.9,684.6 213.2,684.3 213.2,682.5 214.1,681.8 215.8,681.8 215.6,683.2" fill="#000" stroke="#000" stroke-width="1" />
<polygon points="219.3,691.6 218.8,690.5 218.9,689.9 220.0,689.1 220.5,690.4 220.4,691.3" fill="#000" stroke="#000" stroke-width="1" />
<polygon points="206.1,676.9 206.7,678.7 204.8,679.4 203.1,678.3 204.7,676.0" fill="#000" stroke="#000" stroke-width="1" />
<polygon points="225.1,685.2 226.0,683.9 227.3,684.6 227.7,686.1 225.7,687.0" fill="#000" stroke="#000" stroke-width="1" />
<polygon points="188.6,715.0 189.2,712.9 191.1,713.6 191.8,715.2 189.8,715.9" fill="#000" stroke="#000" stroke-width="1" />
<polygon points="191.2,726.1 192.2,725.6 192.7,727.4 191.0,727.5" fill="#000" stroke="#000" stroke-width="1" />
<polygon points="233.2,754.0 233.0,754.9 232.0,754.2 231.6,753.6 232.2,752.4 233.3,753.3" fill="#000" stroke="#000" stroke-width="1" />
<polygon points="224.9,750.1 225.6,751.7 223.6,751.4 223.5,750.0" fill="#000" stroke="#000" stroke-width="1" />
<polygon points="221.9,748.6 223.3,748.9 223.3,750.5 221.9,750.3" fill="#000" stroke="#000" stroke-width="1" />
<polygon points="218.0,740.5 216.6,739.8 217.2,738.4 218.7,739.0" fill="#000" stroke="#000" stroke-width="1" />
<polygon points="217.8,745.7 218.4,744.8 219.4,744.9 220.5,745.1 220.4,746.0 219.5,747.2 218.4,746.3" fill="#000" stroke="#000" stroke-width="1" />
<polygon points="224.9,749.8 225.8,750.3 225.1,751.3 224.3,751.3 223.7,750.6 223.8,750.1 224.3,749.4" fill="#000" stroke="#000" stroke-width="1" />
<polygon points="207.4,735.9 208.3,735.6 209.1,736.6 208.2,737.3 207.1,737.8 206.4,736.8 206.4,735.8" fill="#000" stroke="#000" stroke-width="1" />
<polygon points="221.1,743.2 222.2,743.9 222.8,744.5 222.2,745.2 220.9,745.5 219.9,744.8 220.6,744.0" fill="#000" stroke="#000" stroke-width="1" />
<polygon points="226.8,747.6 226.2,746.7 226.9,746.2 227.8,746.7 227.5,747.3" fill="#000" stroke="#000" stroke-width="1" />
<polygon points="232.0,757.2 232.0,755.8 233.3,755.5 233.5,756.8 232.9,757.8" fill="#000" stroke="#000" stroke-width="1" />
<polygon points="223.7,750.7 222.5,750.2 223.2,749.5 224.0,749.2 225.1,749.4 224.9,750.7" fill="#000" stroke="#000" stroke-width="1" />
<polygon points="206.7,740.0 206.1,740.7 205.3,740.0 205.2,739.0 206.2,738.8 207.3,738.8" fill="#000" stroke="#000" stroke-width="1" />
<polygon points="213.1,740.9 211.7,739.8 212.4,738.0 214.0,738.7 214.4,740.2" fill="#000" stroke="#000" stroke-width="1" />
<polygon points="221.5,746.0 220.9,745.7 220.3,744.8 221.4,744.0 222.4,744.7 222.1,745.3" fill="#000" stroke="#000" stroke-width="1" />
<polygon points="209.4,736.5 210.5,734.8 211.8,736.7 210.2,737.9" fill="#000" stroke="#000" stroke-width="1" />
<polygon points="235.0,755.1 234.9,755.6 234.7,756.4 234.1,756.0 233.7,755.8 233.6,755.1 234.2,755.1" fill="#000" stroke="#000" stroke-width="1" />
<polygon points="222.7,741.4 222.5,742.8 222.1,744.0 221.1,743.7 220.2,743.1 220.1,741.9 221.4,740.7" fill="#000" stroke="#000" stroke-width="1" />
<polygon points="230.3,756.8 229.3,756.4 229.6,755.6 230.7,755.5 230.9,756.1" fill="#000" stroke="#000" stroke-width="1" />
<polygon points="216.7,740.6 215.7,740.9 215.6,740.0 216.1,739.4" fill="#000" stroke="#000" stroke-width="1" />
<polygon points="232.4,752.3 230.8,753.5 230.0,751.8 231.2,751.0 232.7,750.9" fill="#000" stroke="#000" stroke-width="1" />
<polygon points="219.4,740.9 218.7,740.5 218.8,739.4 220.0,738.7 221.2,739.9 220.7,740.9" fill="#000" stroke="#000" stroke-width="1" />
<polygon points="214.2,741.5 213.6,741.3 213.3,740.3 213.9,739.4 214.5,740.0 214.9,740.8" fill="#000" stroke="#000" stroke-width="1" />
<polygon points="219.3,749.6 218.5,748.7 218.1,747.7 219.2,746.5 220.0,747.1 220.5,747.9 220.3,749.1" fill="#000" stroke="#000" stroke-width="1" />
<polygon points="210.5,740.0 211.2,740.6 210.5,741.3 209.3,741.6 209.1,740.8 209.3,739.8" fill="#000" stroke="#000" stroke-width="1" />
<polygon points="229.2,754.8 228.4,753.9 229.4,753.6 230.0,754.2" fill="#000" stroke="#000" stroke-width="1" />
<polygon points="214.5,737.6 214.7,738.8 213.5,738.8 213.4,737.6" fill="#000" stroke="#000" stroke-width="1" />
<polygon points="224.0,744.7 225.2,743.7 226.2,744.7 226.3,745.6 225.1,746.9 224.2,745.7" fill="#000" stroke="#000" stroke-width="1" />
<polygon points="216.9,742.0 217.6,741.7 218.8,742.2 218.6,743.3 217.6,743.8 216.1,743.4" fill="#000" stroke="#000" stroke-width="1" />
<polygon points="207.1,734.5 208.7,735.0 208.5,736.6 207.2,735.9" fill="#000" stroke="#000" stroke-width="1" />
<polygon points="226.6,745.5 226.8,746.9 226.6,748.0 225.3,747.5 224.7,746.9 225.2,745.4" fill="#000" stroke="#000" stroke-width="1" />
<polygon points="219.5,742.7 218.3,742.4 217.5,741.1 219.4,740.7 220.1,741.9" fill="#000" stroke="#000" stroke-width="1" />
<polygon points="223.8,745.6 225.2,745.6 224.4,746.5 223.4,746.5" fill="#000" stroke="#000" stroke-width="1" />
<polygon points="221.7,743.5 220.8,742.6 220.1,741.9 220.9,741.2 221.6,740.4 222.5,741.3 222.5,742.4" fill="#000" stroke="#000" stroke-width="1" />
<polygon points="231.8,756.0 231.6,756.6 230.7,756.7 230.7,756.0 231.0,755.6" fill="#000" stroke="#000" stroke-width="1" />
<polygon points="216.1,743.4 217.1,743.0 217.5,743.8 217.1,744.4 216.3,744.3" fill="#000" stroke="#000" stroke-width="1" />
<polygon points="171.1,726.2 172.3,727.8 170.4,728.5 169.9,726.9" fill="#000" stroke="#000" stroke-width="1" />
<polygon points="153.3,741.3 155.0,740.5 155.7,742.9 154.1,743.5" fill="#000" stroke="#000" stroke-width="1" />
<polygon points="185.5,744.6 186.9,743.9 187.4,745.5 186.1,745.7" fill="#000" stroke="#000" stroke-width="1" />
<polygon points="161.0,749.9 161.8,749.1 162.3,749.6 162.8,750.2 162.2,750.5 161.5,750.8" fill="#000" stroke="#000" stroke-width="1" />
<polygon points="185.1,753.0 186.0,752.2 186.8,753.0 186.4,754.1 185.9,754.9 184.9,753.9" fill="#000" stroke="#000" stroke-width="1" />
<polygon points="174.1,746.6 174.0,746.1 174.0,745.6 174.7,745.4 174.9,745.8 175.0,746.3 174.7,746.7" fill="#000" stroke="#000" stroke-width="1" />
<polygon points="166.1,725.0 165.2,725.5 164.4,725.4 164.6,724.7 165.5,724.0" fill="#000" stroke="#000" stroke-width="1" />
<polygon points="190.2,749.3 190.0,748.4 190.3,747.7 191.3,747.6 191.6,748.4 191.8,749.6 190.9,749.3" fill="#000" stroke="#000" stroke-width="1" />
<polygon points="162.7,735.0 163.8,733.8 164.8,735.1 164.4,736.5 163.5,736.8 162.3,736.0" fill="#000" stroke="#000" stroke-width="1" />
<polygon points="163.6,755.2 164.1,756.3 163.5,757.6 162.7,756.2" fill="#000" stroke="#000" stroke-width="1" />
<polygon points="184.6,738.7 185.0,740.1 184.3,740.8 183.4,740.7 183.3,739.2" fill="#000" stroke="#000" stroke-width="1" />
<polygon points="163.3,730.3 164.3,729.1 165.0,729.5 165.4,730.4 164.3,731.1" fill="#000" stroke="#000" stroke-width="1" />
<polygon points="164.4,754.7 163.1,755.3 162.6,754.4 161.9,753.7 163.2,753.0 164.2,753.4" fill="#000" stroke="#000" stroke-width="1" />
<polygon points="186.3,738.8 187.3,737.3 188.9,738.4 188.2,740.7 186.2,740.0" fill="#000" stroke="#000" stroke-width="1" />
<polygon points="166.3,733.1 165.3,732.9 165.7,732.0 166.4,731.7 167.4,732.2 167.1,733.0" fill="#000" stroke="#000" stroke-width="1" />
<polygon points="152.2,737.3 153.0,737.9 152.1,738.8 151.3,737.7" fill="#000" stroke="#000" stroke-width="1" />
<polygon points="198.2,754.5 197.6,753.9 197.9,753.2 198.9,753.3 199.0,754.2" fill="#000" stroke="#000" stroke-width="1" />
<polygon points="178.1,739.7 179.3,740.5 179.8,742.0 178.4,741.9 177.5,741.2" fill="#000" stroke="#000" stroke-width="1" />
<polygon points="166.4,723.7 166.6,725.3 164.3,725.7 165.1,723.2" fill="#000" stroke="#000" stroke-width="1" />
<polygon points="176.1,740.9 174.4,740.4 174.0,738.8 175.4,737.9 176.8,739.3" fill="#000" stroke="#000" stroke-width="1" />
<polygon points="172.4,745.0 170.2,745.0 170.5,743.5 171.8,743.4" fill="#000" stroke="#000" stroke-width="1" />
<polygon points="199.9,753.3 199.8,752.1 200.9,750.9 201.8,751.6 201.9,752.9 201.1,753.6" fill="#000" stroke="#000" stroke-width="1" />
<polygon points="167.6,726.2 167.7,726.6 167.2,726.8 166.9,726.8 166.6,726.4 166.6,726.0 167.3,725.9" fill="#000" stroke="#000" stroke-width="1" />
<polygon points="161.6,737.6 163.9,737.9 163.8,740.2 161.6,739.7" fill="#000" stroke="#000" stroke-width="1" />
<polygon points="162.2,754.2 162.4,753.2 163.7,752.8 164.1,753.8 163.6,755.5" fill="#000" stroke="#000" stroke-width="1" />
<polygon points="165.7,733.5 164.9,732.9 165.3,732.0 166.8,732.0 166.5,732.9" fill="#000" stroke="#000" stroke-width="1" />
<polygon points="155.4,732.0 155.9,730.9 156.7,731.6 157.0,732.6 155.7,733.3" fill="#000" stroke="#000" stroke-width="1" />
<polygon points="196.9,744.3 197.7,744.9 197.7,746.2 197.3,746.9 196.1,747.0 195.5,745.9 195.6,744.7" fill="#000" stroke="#000" stroke-width="1" />
<polygon points="193.6,751.5 192.5,751.9 191.6,750.8 192.6,749.5 193.6,750.0" fill="#000" stroke="#000" stroke-width="1" />
<polygon points="207.9,753.4 208.8,754.3 207.9,754.9 207.1,754.3" fill="#000" stroke="#000" stroke-width="1" />
<polygon points="162.6,742.9 163.3,742.3 163.7,743.4 163.8,744.4 162.9,744.5 162.0,744.0" fill="#000" stroke="#000" stroke-width="1" />
<polygon points="185.2,733.3 185.0,733.8 184.3,733.7 183.6,733.4 183.8,733.0 184.4,732.2 184.8,732.6" fill="#000" stroke="#000" stroke-width="1" />
<polygon points="180.3,753.9 181.7,752.2 183.3,753.2 183.3,754.6 181.7,754.8" fill="#000" stroke="#000" stroke-width="1" />
<polygon points="172.2,734.5 171.1,734.5 170.5,734.2 169.9,733.4 170.9,732.8 171.6,733.2 171.8,733.5" fill="#000" stroke="#000" stroke-width="1" />
<polygon points="167.7,756.1 167.5,755.2 168.5,754.6 169.2,755.2 169.2,756.1 168.4,756.9" fill="#000" stroke="#000" stroke-width="1" />
<polygon points="175.0,744.2 175.8,743.6 176.3,743.6 177.0,744.1 176.5,744.6 175.7,744.9" fill="#000" stroke="#000" stroke-width="1" />
<polygon points="157.7,745.0 158.0,744.5 158.7,744.7 158.8,745.1 158.7,745.6 158.2,745.7 158.0,745.7" fill="#000" stroke="#000" stroke-width="1" />
<polygon points="174.1,749.4 173.2,748.8 174.0,748.0 174.9,748.3 175.0,748.9 174.7,749.6" fill="#000" stroke="#000" stroke-width="1" />
<polygon points="176.0,755.2 175.6,756.3 174.8,757.4 173.5,756.3 173.2,755.0 174.3,754.6 175.7,754.4" fill="#000" stroke="#000" stroke-width="1" />
<polygon points="169.3,726.1 170.0,725.8 170.3,726.5 170.2,727.0 169.4,727.4 168.5,727.1 168.4,726.3" fill="#000" stroke="#000" stroke-width="1" />
<polygon points="166.4,731.6 165.6,731.9 164.4,731.8 164.0,730.4 165.0,729.0 166.4,730.0" fill="#000" stroke="#000" stroke-width="1" />
<polygon points="180.8,731.2 179.7,732.9 177.7,732.2 179.1,730.2" fill="#000" stroke="#000" stroke-width="1" />
<polygon points="163.9,756.4 164.9,756.9 164.1,757.5 163.5,757.2" fill="#000" stroke="#000" stroke-width="1" />
<polygon points="190.3,740.1 191.3,740.2 191.4,740.9 191.3,742.2 190.4,742.2 190.0,740.9" fill="#000" stroke="#000" stroke-width="1" />
<polygon points="200.9,750.5 202.1,751.3 201.5,752.6 200.0,751.8" fill="#000" stroke="#000" stroke-width="1" />
<polygon points="173.8,740.6 172.7,738.7 174.0,737.1 175.0,738.8" fill="#000" stroke="#000" stroke-width="1" />
<polygon points="170.8,732.0 170.2,732.8 169.7,731.8 170.4,731.3" fill="#000" stroke="#000" stroke-width="1" />
<polygon points="199.0,747.8 200.4,746.9 200.9,748.6 200.4,749.7 199.2,749.1" fill="#000" stroke="#000" stroke-width="1" />
<polygon points="186.0,733.6 184.8,735.3 182.8,733.8 184.6,732.2" fill="#000" stroke="#000" stroke-width="1" />
<polygon points="189.0,745.2 189.9,746.5 188.6,747.5 187.9,746.1" fill="#000" stroke="#000" stroke-width="1" />
<polygon points="167.2,755.2 167.8,753.8 168.9,754.0 168.5,755.3" fill="#000" stroke="#000" stroke-width="1" />
<polygon points="201.8,751.6 202.1,753.7 200.2,752.9 199.9,751.5" fill="#000" stroke="#000" stroke-width="1" />
<polygon points="188.9,750.8 187.2,750.8 187.1,749.3 188.4,748.8" fill="#000" stroke="#000" stroke-width="1" />
<polygon points="170.9,729.8 170.4,730.9 169.5,730.1 168.4,729.4 169.3,728.4 170.4,728.2 171.4,728.7" fill="#000" stroke="#000" stroke-width="1" />
<polygon points="175.5,751.9 177.2,751.7 177.5,753.0 177.0,754.5 175.9,755.0 175.3,753.3" fill="#000" stroke="#000" stroke-width="1" />
<polygon points="159.6,750.2 160.3,750.6 160.3,751.4 159.8,752.3 158.6,751.5 158.5,750.8" fill="#000" stroke="#000" stroke-width="1" />
<polygon points="187.5,744.3 188.5,744.5 188.7,745.1 188.1,745.9 187.6,745.1" fill="#000" stroke="#000" stroke-width="1" />
<polygon points="161.6,757.4 160.2,758.8 159.2,757.5 159.2,755.7 160.8,755.8" fill="#000" stroke="#000" stroke-width="1" />
<polygon points="185.6,737.3 185.4,736.3 186.8,736.0 188.0,736.6 188.0,737.9 186.7,738.4 185.8,738.6" fill="#000" stroke="#000" stroke-width="1" />
<polygon points="182.5,746.1 181.6,746.1 181.1,745.7 181.4,745.2 182.4,745.0" fill="#000" stroke="#000" stroke-width="1" />
<polygon points="195.4,752.3 194.8,751.8 195.1,750.9 195.5,750.7 196.1,750.6 196.8,751.3 196.1,752.3" fill="#000" stroke="#000" stroke-width="1" />
<polygon points="180.0,744.1 179.4,743.1 180.0,741.7 181.1,742.6 180.9,744.2" fill="#000" stroke="#000" stroke-width="1" />
<polygon points="186.3,753.1 186.9,753.4 187.0,753.8 186.7,754.5 186.0,754.3 185.7,754.0 185.5,753.2" fill="#000" stroke="#000" stroke-width="1" />
<polygon points="207.8,755.7 206.4,754.5 207.5,752.9 209.1,754.1" fill="#000" stroke="#000" stroke-width="1" />
<polygon points="153.5,742.3 154.1,741.6 155.1,741.9 154.8,742.7 154.7,743.3 153.9,742.9" fill="#000" stroke="#000" stroke-width="1" />
<polygon points="186.3,744.3 185.4,744.3 185.4,743.5 185.7,743.1 186.8,742.2 187.0,743.5 187.3,744.4" fill="#000" stroke="#000" stroke-width="1" />
<polygon points="191.0,751.7 190.3,752.1 189.5,751.7 189.4,750.9 190.1,750.4 190.6,750.6" fill="#000" stroke="#000" stroke-width="1" />
<polygon points="166.8,744.4 167.5,744.5 167.7,745.3 167.2,746.2 166.5,745.9 166.5,745.0" fill="#000" stroke="#000" stroke-width="1" />
<polygon points="165.9,750.4 164.5,750.4 163.3,748.4 164.7,747.3 166.4,747.5 166.3,748.9" fill="#000" stroke="#000" stroke-width="1" />
<polygon points="175.3,743.7 174.0,743.9 174.1,742.9 174.9,741.7 176.1,742.6" fill="#000" stroke="#000" stroke-width="1" />
<polygon points="84.1,746.4 84.0,745.2 85.0,744.9 85.0,746.3" fill="#000" stroke="#000" stroke-width="1" />
<polygon points="104.7,747.3 103.5,747.4 103.5,746.0 104.4,746.1" fill="#000" stroke="#000" stroke-width="1" />
<polygon points="93.2,751.1 93.9,752.1 92.8,752.6 92.0,751.9" fill="#000" stroke="#000" stroke-width="1" />
<polygon points="100.4,756.1 100.4,756.7 99.9,756.7 99.4,756.4 99.8,755.8" fill="#000" stroke="#000" stroke-width="1" />
<polygon points="92.9,740.4 92.2,741.8 90.7,741.9 90.1,740.4 91.5,739.1" fill="#000" stroke="#000" stroke-width="1" />
<polygon points="73.1,746.7 73.4,748.8 71.8,749.5 71.2,747.3" fill="#000" stroke="#000" stroke-width="1" />
<polygon points="70.2,743.8 70.0,742.7 70.8,742.2 71.2,743.4" fill="#000" stroke="#000" stroke-width="1" />
<polygon points="93.3,740.5 92.7,741.8 91.5,741.5 90.1,741.2 91.1,740.1 92.1,739.8" fill="#000" stroke="#000" stroke-width="1" />
<polygon points="97.3,744.8 96.6,744.5 97.1,744.0 97.6,743.9 98.1,744.1 98.0,744.8" fill="#000" stroke="#000" stroke-width="1" />
<polygon points="91.6,744.7 91.7,744.0 91.5,743.3 92.8,742.3 93.3,743.4 93.7,744.4 92.7,745.2" fill="#000" stroke="#000" stroke-width="1" />
<polygon points="89.1,743.4 90.0,743.1 90.4,744.2 89.3,744.4" fill="#000" stroke="#000" stroke-width="1" />
<polygon points="74.3,741.7 74.6,741.0 74.9,740.5 75.4,740.8 75.8,741.6 75.5,741.8 74.7,742.2" fill="#000" stroke="#000" stroke-width="1" />
<polygon points="94.0,746.4 93.2,747.1 92.5,746.6 92.6,746.0 93.3,745.8" fill="#000" stroke="#000" stroke-width="1" />
<polygon points="85.6,747.0 85.0,747.5 84.4,747.6 84.1,747.3 84.1,746.7 84.2,746.4 85.1,746.5" fill="#000" stroke="#000" stroke-width="1" />
<polygon points="88.4,745.7 87.1,746.6 85.7,746.6 85.9,744.9 87.5,744.5" fill="#000" stroke="#000" stroke-width="1" />
<polygon points="91.9,750.4 92.5,751.6 91.2,752.3 90.5,751.1" fill="#000" stroke="#000" stroke-width="1" />
<polygon points="77.2,742.8 78.4,742.7 79.3,742.5 80.4,743.4 79.4,744.2 78.6,744.2 77.8,743.8" fill="#000" stroke="#000" stroke-width="1" />
<polygon points="73.7,747.0 72.8,744.5 75.4,744.6 75.8,746.2" fill="#000" stroke="#000" stroke-width="1" />
<polygon points="87.4,740.3 88.2,741.3 86.6,741.9 85.2,741.5 85.1,740.2 86.6,739.6" fill="#000" stroke="#000" stroke-width="1" />
<polygon points="85.7,746.5 84.6,745.2 86.0,744.6 87.9,745.0 87.5,746.9" fill="#000" stroke="#000" stroke-width="1" />
<polygon points="92.8,756.7 91.2,755.6 92.4,754.3 93.4,754.5 94.1,755.0 94.2,756.3" fill="#000" stroke="#000" stroke-width="1" />
<polygon points="104.3,754.1 103.4,753.3 102.8,752.4 103.7,751.2 105.1,751.8 105.1,752.9" fill="#000" stroke="#000" stroke-width="1" />
<polygon points="96.9,745.6 98.3,745.2 99.7,745.8 99.2,746.8 97.6,747.4" fill="#000" stroke="#000" stroke-width="1" />
<polygon points="89.5,751.4 87.9,752.9 86.4,751.9 86.7,750.0 88.1,749.3" fill="#000" stroke="#000" stroke-width="1" />
<polygon points="76.2,748.6 75.3,748.6 74.5,747.3 75.0,745.9 76.8,746.6 77.0,747.4" fill="#000" stroke="#000" stroke-width="1" />
<polygon points="82.5,743.1 83.0,744.4 82.0,745.1 80.6,744.7 81.1,742.9" fill="#000" stroke="#000" stroke-width="1" />
<polygon points="95.7,751.7 94.8,750.9 95.3,749.9 96.7,750.2" fill="#000" stroke="#000" stroke-width="1" />
<polygon points="80.3,750.1 80.8,749.9 81.3,750.1 81.5,751.2 80.2,751.4" fill="#000" stroke="#000" stroke-width="1" />
<polygon points="93.5,755.9 94.1,755.1 94.8,755.6 95.1,756.2 94.0,756.5" fill="#000" stroke="#000" stroke-width="1" />
<polygon points="84.3,742.3 85.7,743.1 85.3,744.4 84.9,745.0 83.5,745.4 82.4,744.4 83.0,743.1" fill="#000" stroke="#000" stroke-width="1" />
<polygon points="92.2,746.8 91.9,747.5 91.4,747.2 91.3,746.6 91.4,746.0 91.9,746.0 92.2,746.4" fill="#000" stroke="#000" stroke-width="1" />
<polygon points="91.8,754.8 94.0,752.9 94.8,755.2 93.3,756.5" fill="#000" stroke="#000" stroke-width="1" />
<polygon points="97.0,751.0 96.4,751.2 95.4,751.6 95.3,750.7 95.6,749.6 96.2,749.3 96.9,750.2" fill="#000" stroke="#000" stroke-width="1" />
<polygon points="84.8,741.7 84.9,740.5 86.0,740.2 87.2,740.7 87.0,742.0 85.7,742.7" fill="#000" stroke="#000" stroke-width="1" />
<polygon points="78.6,740.9 80.1,741.3 80.5,742.5 79.6,743.1 77.9,743.3 77.3,742.0" fill="#000" stroke="#000" stroke-width="1" />
<polygon points="80.5,747.1 81.6,746.3 82.8,746.2 84.0,746.4 83.2,748.1 82.8,748.5 81.8,748.5" fill="#000" stroke="#000" stroke-width="1" />
<polygon points="75.0,742.7 75.8,741.6 77.2,741.6 77.3,743.6 76.0,743.5" fill="#000" stroke="#000" stroke-width="1" />
<polygon points="90.6,754.5 89.7,754.9 89.4,753.7 89.4,752.8 90.3,752.8 91.0,753.3" fill="#000" stroke="#000" stroke-width="1" />
<polygon points="103.8,751.2 103.2,750.8 102.4,750.3 103.1,749.8 104.0,749.4 104.1,750.2" fill="#000" stroke="#000" stroke-width="1" />
<polygon points="95.3,751.8 94.8,752.2 93.8,751.9 92.9,751.4 93.8,750.6 94.8,750.5 95.7,750.9" fill="#000" stroke="#000" stroke-width="1" />
<polygon points="132.3,748.1 132.6,747.3 134.2,747.3 135.0,748.4 133.3,749.0" fill="#000" stroke="#000" stroke-width="1" />
<polygon points="117.5,747.0 118.2,745.8 119.1,745.2 119.8,746.5 119.1,747.2 118.4,747.5" fill="#000" stroke="#000" stroke-width="1" />
<polygon points="125.9,755.8 125.4,755.1 126.3,754.5 126.8,754.7 127.7,755.4 127.0,756.4 126.3,756.3" fill="#000" stroke="#000" stroke-width="1" />
<polygon points="125.7,750.8 126.5,749.6 127.4,750.3 126.9,751.3" fill="#000" stroke="#000" stroke-width="1" />
<polygon points="124.5,750.2 125.7,751.4 125.1,752.8 123.3,752.3 123.0,750.8" fill="#000" stroke="#000" stroke-width="1" />
<polygon points="127.1,753.9 128.5,754.4 127.9,756.0 126.4,755.7 126.0,754.7" fill="#000" stroke="#000" stroke-width="1" />
<polygon points="128.3,752.1 127.3,753.4 126.5,752.4 127.0,751.1" fill="#000" stroke="#000" stroke-width="1" />
<polygon points="129.1,749.2 128.5,748.1 128.8,747.2 129.8,747.0 130.2,747.6 131.0,748.4 130.0,748.6" fill="#000" stroke="#000" stroke-width="1" />
<polygon points="135.6,749.6 134.4,751.5 132.1,750.0 134.1,748.8" fill="#000" stroke="#000" stroke-width="1" />
<polygon points="142.6,748.7 142.9,747.9 144.0,747.7 145.1,747.5 145.4,748.6 144.7,749.9 143.6,750.1" fill="#000" stroke="#000" stroke-width="1" />
<polygon points="125.2,745.9 126.3,745.8 126.6,746.9 126.0,748.0 124.9,747.2" fill="#000" stroke="#000" stroke-width="1" />
<polygon points="130.6,747.1 132.0,748.3 131.3,749.3 129.7,750.3 129.5,748.9 129.5,747.5" fill="#000" stroke="#000" stroke-width="1" />
<polygon points="134.4,746.5 134.3,745.5 134.6,744.8 135.5,744.9 135.6,746.2" fill="#000" stroke="#000" stroke-width="1" />
<polygon points="133.0,747.1 133.9,746.5 134.7,746.8 134.6,748.0 133.6,748.1" fill="#000" stroke="#000" stroke-width="1" />
<polygon points="134.9,743.7 134.8,744.3 134.1,744.5 133.8,743.7 133.9,742.9 134.9,742.9" fill="#000" stroke="#000" stroke-width="1" />
<polygon points="141.5,754.9 141.5,753.9 141.5,753.5 142.4,752.9 143.3,753.9 143.1,754.8 142.0,755.5" fill="#000" stroke="#000" stroke-width="1" />
<polygon points="121.9,749.5 122.3,750.3 121.8,751.1 121.2,750.7 120.7,750.3 121.1,749.7" fill="#000" stroke="#000" stroke-width="1" />
<polygon points="120.7,752.1 120.4,752.8 120.0,753.2 119.3,752.9 119.5,752.0 119.7,751.6 120.3,751.7" fill="#000" stroke="#000" stroke-width="1" />
<polygon points="137.5,757.0 136.3,757.3 135.9,756.4 136.1,755.7 137.7,755.8" fill="#000" stroke="#000" stroke-width="1" />
<polygon points="124.9,757.2 124.7,755.7 124.5,754.9 126.3,754.6 126.9,755.6 126.5,757.1" fill="#000" stroke="#000" stroke-width="1" />
<polygon points="143.4,752.5 141.9,753.4 141.0,751.7 142.3,751.1 143.6,751.4" fill="#000" stroke="#000" stroke-width="1" />
<polygon points="134.9,747.9 135.8,748.2 136.4,748.8 135.9,750.2 134.7,749.8 133.9,748.8" fill="#000" stroke="#000" stroke-width="1" />
<polygon points="145.3,747.7 147.2,748.5 146.6,750.1 145.1,750.6 143.8,749.2" fill="#000" stroke="#000" stroke-width="1" />
<polygon points="137.2,743.3 136.3,743.7 135.5,743.1 135.8,742.4 136.7,742.2 137.5,742.3 137.6,743.0" fill="#000" stroke="#000" stroke-width="1" />
<polygon points="122.0,750.2 120.7,750.1 120.1,749.9 119.6,748.7 121.0,747.8 122.2,748.0 122.7,749.4" fill="#000" stroke="#000" stroke-width="1" />
<polygon points="148.4,754.8 148.4,755.8 148.4,756.6 147.6,757.2 146.6,756.4 146.5,755.7 147.2,755.1" fill="#000" stroke="#000" stroke-width="1" />
<polygon points="118.6,745.9 120.3,745.2 120.8,746.8 120.8,748.2 119.3,748.8 118.2,748.3 118.3,746.9" fill="#000" stroke="#000" stroke-width="1" />
<polygon points="127.6,745.0 126.8,745.3 126.1,744.4 126.3,743.8 127.6,743.5 128.3,744.3" fill="#000" stroke="#000" stroke-width="1" />
<polygon points="143.0,748.7 142.3,748.8 141.8,748.2 142.0,747.5 142.4,747.2 142.9,747.4 143.2,747.9" fill="#000" stroke="#000" stroke-width="1" />
<polygon points="144.2,746.9 145.0,747.4 145.6,748.0 145.1,749.0 144.3,749.3 144.0,748.7 143.3,747.7" fill="#000" stroke="#000" stroke-width="1" />
<polygon points="123.0,744.6 124.2,743.4 124.9,744.4 125.2,745.3 124.0,745.4" fill="#000" stroke="#000" stroke-width="1" />
<polygon points="124.4,748.5 125.1,748.5 125.1,749.3 124.6,749.8 123.9,749.1" fill="#000" stroke="#000" stroke-width="1" />
<polygon points="130.8,757.6 130.2,756.4 131.2,755.9 132.2,755.4 132.5,756.7 132.0,757.1" fill="#000" stroke="#000" stroke-width="1" />
<polygon points="134.9,749.8 134.1,750.9 133.2,750.5 133.1,749.4 134.0,748.5" fill="#000" stroke="#000" stroke-width="1" />
<polygon points="143.8,750.0 145.0,749.4 145.5,750.5 144.5,750.7" fill="#000" stroke="#000" stroke-width="1" />
<polygon points="135.5,742.8 136.6,742.9 137.2,744.2 135.7,744.4 134.6,743.8" fill="#000" stroke="#000" stroke-width="1" />
<polygon points="133.7,755.3 132.9,755.1 132.6,754.2 133.6,753.7 134.3,754.6" fill="#000" stroke="#000" stroke-width="1" />
<polygon points="143.6,754.2 144.4,755.2 143.7,756.6 142.5,755.6 142.7,754.6" fill="#000" stroke="#000" stroke-width="1" />
<polygon points="138.8,745.3 139.5,746.3 139.1,747.3 137.9,747.5 137.6,746.5 138.0,745.6" fill="#000" stroke="#000" stroke-width="1" />
<polygon points="127.4,749.3 127.2,748.1 128.2,747.9 128.5,748.8" fill="#000" stroke="#000" stroke-width="1" />
<polygon points="144.2,748.5 145.3,748.9 145.1,749.8 144.3,751.2 143.4,750.0 142.8,749.1" fill="#000" stroke="#000" stroke-width="1" />
<polygon points="123.0,748.3 122.2,748.4 121.6,747.4 121.4,746.5 122.5,746.1 123.2,746.2 123.3,747.1" fill="#000" stroke="#000" stroke-width="1" />
<polygon points="135.1,750.8 133.8,751.3 131.7,750.3 132.9,748.4 135.2,748.7" fill="#000" stroke="#000" stroke-width="1" />
<polygon points="138.1,744.2 139.3,743.5 140.7,744.7 139.8,745.7 138.3,745.9" fill="#000" stroke="#000" stroke-width="1" />
<polygon points="142.1,751.3 140.3,750.6 140.4,749.0 142.2,747.8 143.0,749.1 143.0,750.2" fill="#000" stroke="#000" stroke-width="1" />
<polygon points="120.9,749.7 122.0,747.8 124.0,749.7 122.0,750.9" fill="#000" stroke="#000" stroke-width="1" />
<polygon points="125.0,748.1 125.3,747.2 126.3,748.0 126.8,748.6 126.6,749.3 125.4,749.2 124.3,748.9" fill="#000" stroke="#000" stroke-width="1" />
<polygon points="135.2,753.9 136.2,753.2 137.1,753.7 137.5,754.9 136.7,755.8 135.7,755.5 135.1,754.9" fill="#000" stroke="#000" stroke-width="1" />
<polygon points="134.2,757.7 132.4,757.6 132.1,755.5 134.0,755.7" fill="#000" stroke="#000" stroke-width="1" />
<polygon points="135.5,750.3 135.3,751.2 134.5,751.0 134.2,750.0 134.6,749.4 135.6,749.7" fill="#000" stroke="#000" stroke-width="1" />
<polygon points="200.4,666.4 200.5,664.5 202.6,664.0 203.1,665.0 203.2,666.6" fill="#000" stroke="#000" stroke-width="1" />
<polygon points="202.0,662.3 200.2,663.7 199.5,661.8 199.4,660.3 201.1,660.1" fill="#000" stroke="#000" stroke-width="1" />
<polygon points="203.1,660.9 202.0,661.7 200.6,662.0 200.5,660.5 201.7,659.8" fill="#000" stroke="#000" stroke-width="1" />
<polygon points="205.6,660.7 207.0,660.2 208.8,661.6 207.2,663.7 206.3,664.2 205.0,663.4 204.4,661.6" fill="#000" stroke="#000" stroke-width="1" />
<polygon points="198.1,664.6 197.6,665.0 196.7,664.9 196.6,664.2 196.9,663.5 198.3,663.9" fill="#000" stroke="#000" stroke-width="1" />
<polygon points="208.5,662.5 209.0,663.5 207.7,663.4 207.4,662.8 207.7,661.5" fill="#000" stroke="#000" stroke-width="1" />
<polygon points="796.2,618.7 798.0,619.3 797.9,620.6 797.1,620.9 796.3,620.6" fill="#000" stroke="#000" stroke-width="1" />
<polygon points="807.3,648.0 807.3,650.6 804.6,650.7 805.1,648.0" fill="#000" stroke="#000" stroke-width="1" />
<polygon points="799.1,625.6 800.4,625.8 801.1,626.4 800.6,627.4 799.9,628.4 799.0,627.7 798.6,626.6" fill="#000" stroke="#000" stroke-width="1" />
<polygon points="795.4,588.4 796.3,588.1 796.9,588.6 796.8,589.2 796.0,590.2 795.3,589.3" fill="#000" stroke="#000" stroke-width="1" />
<polygon points="804.8,558.6 805.4,558.1 806.1,558.8 806.1,559.4 805.4,559.6 804.5,559.8 804.3,559.1" fill="#000" stroke="#000" stroke-width="1" />
<polygon points="800.3,609.7 801.4,608.7 802.5,609.4 802.1,610.7 801.4,611.7 800.2,611.1" fill="#000" stroke="#000" stroke-width="1" />
<polygon points="804.7,616.3 804.2,617.5 803.3,617.0 803.1,615.4 804.1,615.3" fill="#000" stroke="#000" stroke-width="1" />
<polygon points="800.1,648.6 799.3,648.1 799.2,647.1 799.3,645.9 800.2,646.1 800.8,646.6 801.0,647.6" fill="#000" stroke="#000" stroke-width="1" />
<polygon points="802.7,595.9 801.8,596.6 801.2,596.1 800.7,595.3 801.3,594.7 801.9,594.2 802.3,595.0" fill="#000" stroke="#000" stroke-width="1" />
<polygon points="796.2,584.6 795.7,583.2 797.2,583.1 797.3,584.6" fill="#000" stroke="#000" stroke-width="1" />
<polygon points="806.2,624.8 806.3,625.9 804.2,627.1 803.7,625.2 804.2,624.1" fill="#000" stroke="#000" stroke-width="1" />
<polygon points="802.7,626.8 803.5,627.0 804.1,626.9 804.2,627.7 803.9,628.2 803.2,628.0 803.0,627.7" fill="#000" stroke="#000" stroke-width="1" />
<polygon points="804.4,594.9 804.7,595.9 803.7,596.2 803.0,595.8 802.6,594.7 803.7,594.4" fill="#000" stroke="#000" stroke-width="1" />
<polygon points="804.0,646.6 804.6,645.0 805.9,643.5 807.3,645.1 807.1,646.4 805.9,647.3" fill="#000" stroke="#000" stroke-width="1" />
<polygon points="797.6,565.4 796.2,565.5 794.9,565.6 794.9,564.4 796.1,563.3 797.4,564.3" fill="#000" stroke="#000" stroke-width="1" />
<polygon points="802.4,616.2 802.8,617.2 801.8,617.5 800.6,618.1 800.3,616.8 800.9,615.6 801.7,615.0" fill="#000" stroke="#000" stroke-width="1" />
<polygon points="803.7,562.9 804.7,564.1 804.2,565.3 802.9,566.4 801.6,565.1 801.2,564.2 802.2,562.8" fill="#000" stroke="#000" stroke-width="1" />
<polygon points="805.0,590.4 806.3,590.7 805.5,591.9 804.6,592.3 803.7,592.3 802.8,591.0 803.9,589.5" fill="#000" stroke="#000" stroke-width="1" />
<polygon points="799.7,601.2 798.1,601.8 796.8,600.2 799.7,599.7" fill="#000" stroke="#000" stroke-width="1" />
<polygon points="798.9,575.6 798.0,575.8 798.3,574.4 799.3,574.9" fill="#000" stroke="#000" stroke-width="1" />
<polygon points="799.3,603.2 800.1,603.2 800.7,603.6 800.3,604.2 799.7,604.5 799.1,604.0" fill="#000" stroke="#000" stroke-width="1" />
<polygon points="797.9,623.9 796.9,623.5 797.1,622.5 797.8,622.6" fill="#000" stroke="#000" stroke-width="1" />
<polygon points="799.2,595.0 800.2,593.7 802.0,593.8 802.5,595.4 800.8,596.7" fill="#000" stroke="#000" stroke-width="1" />
<polygon points="803.1,615.4 802.2,615.9 801.5,615.1 801.9,614.4 802.8,614.1 803.4,615.0" fill="#000" stroke="#000" stroke-width="1" />
<polygon points="802.5,601.3 803.9,600.8 804.3,601.8 803.5,602.8 801.9,602.3" fill="#000" stroke="#000" stroke-width="1" />
<polygon points="800.6,628.3 801.5,628.9 801.5,629.6 801.2,630.7 800.5,630.2 799.5,629.7 799.6,628.9" fill="#000" stroke="#000" stroke-width="1" />
<polygon points="802.6,596.8 802.7,594.7 803.9,595.5 803.7,596.9" fill="#000" stroke="#000" stroke-width="1" />
<polygon points="803.2,591.2 803.6,593.0 802.1,593.9 800.5,592.5 801.3,591.0" fill="#000" stroke="#000" stroke-width="1" />
<polygon points="795.7,623.9 795.9,623.1 796.6,623.0 796.5,624.1 796.1,624.1" fill="#000" stroke="#000" stroke-width="1" />
<polygon points="800.1,581.8 801.5,582.1 801.6,583.6 800.7,584.4 799.9,583.3" fill="#000" stroke="#000" stroke-width="1" />
<polygon points="802.5,624.7 801.1,624.3 800.4,623.6 800.3,622.0 802.1,622.5 803.3,623.1" fill="#000" stroke="#000" stroke-width="1" />
<polygon points="797.7,584.8 796.2,585.4 796.3,583.5 797.6,583.7" fill="#000" stroke="#000" stroke-width="1" />
<polygon points="796.3,605.3 798.3,605.0 797.7,607.2 796.5,606.5" fill="#000" stroke="#000" stroke-width="1" />
<polygon points="802.8,560.7 804.9,561.0 805.7,563.2 802.9,563.3" fill="#000" stroke="#000" stroke-width="1" />
<polygon points="803.4,646.4 802.6,646.6 802.0,646.4 802.0,645.7 802.6,645.2 803.4,645.4" fill="#000" stroke="#000" stroke-width="1" />
<polygon points="801.1,632.2 802.5,631.1 803.0,633.1 801.5,633.1" fill="#000" stroke="#000" stroke-width="1" />
<polygon points="802.4,575.0 801.6,575.5 800.8,575.7 800.4,574.9 800.9,574.5 801.9,574.6" fill="#000" stroke="#000" stroke-width="1" />
<polygon points="795.9,627.7 795.0,626.9 793.9,626.2 795.4,625.2 796.6,624.7 797.6,626.0 796.5,627.4" fill="#000" stroke="#000" stroke-width="1" />
<polygon points="806.5,562.2 804.7,562.2 804.6,560.9 805.6,560.2 806.8,560.8" fill="#000" stroke="#000" stroke-width="1" />
<polygon points="797.2,562.1 796.5,561.7 796.3,561.1 797.0,560.3 797.7,561.2" fill="#000" stroke="#000" stroke-width="1" />
<polygon points="798.7,590.7 797.7,590.1 798.0,589.3 799.5,588.9 799.3,590.2" fill="#000" stroke="#000" stroke-width="1" />
<polygon points="799.8,638.6 800.6,639.9 799.2,640.7 798.4,640.1 798.1,638.7 798.3,637.8 799.5,638.0" fill="#000" stroke="#000" stroke-width="1" />
<polygon points="802.2,637.0 801.4,637.6 800.6,638.1 799.6,637.5 799.6,636.3 800.7,635.4 801.7,635.8" fill="#000" stroke="#000" stroke-width="1" />
<polygon points="803.9,636.1 804.1,637.5 803.5,639.3 802.4,638.8 800.9,636.8 802.4,635.3" fill="#000" stroke="#000" stroke-width="1" />
<polygon points="800.2,626.0 799.4,626.3 798.4,625.8 799.1,624.8 799.5,624.6 800.1,625.2" fill="#000" stroke="#000" stroke-width="1" />
<polygon points="797.7,615.0 798.4,615.4 798.2,616.1 797.7,616.4 796.9,616.5 797.0,615.9 797.0,615.1" fill="#000" stroke="#000" stroke-width="1" />
<polygon points="803.8,626.5 804.3,626.0 805.0,626.4 805.2,627.3 804.7,627.8 803.7,627.8 803.3,627.3" fill="#000" stroke="#000" stroke-width="1" />
<polygon points="802.7,619.8 802.2,620.1 801.7,620.6 801.3,619.9 801.5,619.2 801.9,619.0 802.6,619.4" fill="#000" stroke="#000" stroke-width="1" />
<polygon points="798.4,639.9 797.7,639.0 797.8,637.7 798.2,637.6 799.4,637.6 800.0,638.3 799.6,639.3" fill="#000" stroke="#000" stroke-width="1" />
<polygon points="797.6,577.5 797.1,577.6 796.4,576.7 796.7,575.9 797.4,575.3 798.3,575.7 798.7,576.5" fill="#000" stroke="#000" stroke-width="1" />
<polygon points="800.1,622.2 801.1,620.2 802.2,620.6 802.9,621.6 802.8,622.7 801.4,623.7" fill="#000" stroke="#000" stroke-width="1" />
<polygon points="797.6,604.5 796.9,605.4 795.6,604.6 796.3,603.4 797.5,603.7" fill="#000" stroke="#000" stroke-width="1" />
<polygon points="799.9,583.2 799.1,583.8 798.6,583.3 799.0,582.3" fill="#000" stroke="#000" stroke-width="1" />
<polygon points="801.0,636.3 801.8,635.6 802.8,636.2 803.0,636.7 803.0,637.6 801.7,637.4 801.1,636.9" fill="#000" stroke="#000" stroke-width="1" />
<polygon points="798.1,632.6 799.1,631.3 800.6,631.8 802.0,632.8 800.7,634.4 799.1,633.6" fill="#000" stroke="#000" stroke-width="1" />
<polygon points="799.5,600.4 798.7,599.1 799.8,597.9 801.1,598.7 802.1,599.2 801.4,600.2 800.4,600.4" fill="#000" stroke="#000" stroke-width="1" />
<polygon points="800.5,599.6 799.3,599.7 798.9,598.8 798.6,597.5 799.8,597.7 800.6,598.2" fill="#000" stroke="#000" stroke-width="1" />
<polygon points="801.0,633.5 800.0,633.1 799.6,631.9 800.7,631.4 801.2,632.3" fill="#000" stroke="#000" stroke-width="1" />
<polygon points="797.9,619.2 797.1,620.1 796.6,619.3 796.6,618.8 797.5,618.6" fill="#000" stroke="#000" stroke-width="1" />
<polygon points="801.4,646.3 801.0,644.9 801.5,644.0 802.3,643.1 803.0,643.8 802.8,645.3 802.4,646.0" fill="#000" stroke="#000" stroke-width="1" />
<polygon points="801.1,562.3 801.0,561.4 801.9,561.2 802.6,561.6 802.3,562.5 802.0,562.9 801.5,562.9" fill="#000" stroke="#000" stroke-width="1" />
<polygon points="805.0,647.8 803.9,646.5 804.9,645.3 805.6,646.4" fill="#000" stroke="#000" stroke-width="1" />
<polygon points="799.8,634.4 798.8,636.1 796.3,635.6 796.7,634.1 797.9,633.1" fill="#000" stroke="#000" stroke-width="1" />
<polygon points="798.8,574.4 800.8,573.6 802.0,575.2 800.1,575.7" fill="#000" stroke="#000" stroke-width="1" />
<polygon points="797.6,579.5 798.0,579.1 798.5,579.2 798.5,580.0 798.3,580.4 797.7,580.5 797.4,580.0" fill="#000" stroke="#000" stroke-width="1" />
<polygon points="797.5,632.6 796.7,632.9 796.5,631.8 797.2,631.7 797.6,631.9" fill="#000" stroke="#000" stroke-width="1" />
<polygon points="803.0,569.5 802.5,569.1 802.1,567.9 803.6,566.7 804.5,568.2 804.6,569.6" fill="#000" stroke="#000" stroke-width="1" />
<polygon points="802.8,589.9 802.7,589.1 803.3,588.4 803.7,589.1 804.1,589.8 803.3,590.2" fill="#000" stroke="#000" stroke-width="1" />
<polygon points="803.3,611.3 804.6,611.1 805.5,611.9 804.3,613.0 803.0,612.6" fill="#000" stroke="#000" stroke-width="1" />
<polygon points="797.6,637.6 797.6,637.0 798.6,636.9 799.1,637.3 798.6,637.9" fill="#000" stroke="#000" stroke-width="1" />
<polygon points="798.5,611.9 797.6,611.2 798.3,610.4 798.8,610.4 799.3,610.5 799.6,611.2 799.0,611.8" fill="#000" stroke="#000" stroke-width="1" />
<polygon points="804.3,637.8 803.7,638.8 802.9,638.6 802.0,638.7 801.7,637.5 802.5,636.8 803.6,637.4" fill="#000" stroke="#000" stroke-width="1" />
<polygon points="802.7,592.3 802.4,593.7 800.3,593.1 801.5,591.8" fill="#000" stroke="#000" stroke-width="1" />
<polygon points="802.7,610.1 804.2,608.9 806.4,608.5 806.1,610.8 804.5,611.3" fill="#000" stroke="#000" stroke-width="1" />
<polygon points="804.9,569.6 803.9,568.3 804.4,566.7 806.1,567.2 805.7,568.5" fill="#000" stroke="#000" stroke-width="1" />
<polygon points="800.2,608.7 800.8,609.2 800.5,610.4 799.3,610.2 798.5,609.3 799.4,608.3" fill="#000" stroke="#000" stroke-width="1" />
<polygon points="799.6,628.9 800.5,629.8 801.1,630.9 799.4,631.7 798.1,630.8 798.2,629.9" fill="#000" stroke="#000" stroke-width="1" />
<polygon points="804.6,562.3 806.1,561.5 806.8,563.3 805.1,564.2" fill="#000" stroke="#000" stroke-width="1" />
<polygon points="802.7,633.5 801.6,634.7 800.2,634.6 799.7,633.4 801.2,632.7" fill="#000" stroke="#000" stroke-width="1" />
<polygon points="803.8,611.5 803.5,610.8 803.8,610.1 804.3,610.3 805.1,610.4 804.6,611.0 804.4,611.5" fill="#000" stroke="#000" stroke-width="1" />
<polygon points="801.0,640.8 800.3,641.0 800.2,640.1 800.9,639.8" fill="#000" stroke="#000" stroke-width="1" />
<polygon points="804.2,556.4 805.7,556.4 806.8,557.5 805.7,558.7 805.3,558.9 803.9,558.7 804.3,557.7" fill="#000" stroke="#000" stroke-width="1" />
<polygon points="801.9,572.6 800.8,570.9 803.0,570.5 803.1,572.2" fill="#000" stroke="#000" stroke-width="1" />
<polygon points="799.1,640.5 799.5,641.4 799.2,642.2 798.6,641.9 798.2,641.3" fill="#000" stroke="#000" stroke-width="1" />
<polygon points="798.4,583.1 798.7,581.8 800.3,581.6 800.9,583.0 799.5,583.5" fill="#000" stroke="#000" stroke-width="1" />
<polygon points="801.1,603.1 801.2,604.0 800.4,604.7 799.6,604.6 799.2,603.4 799.8,602.9" fill="#000" stroke="#000" stroke-width="1" />
<polygon points="802.2,593.6 801.6,594.9 800.2,595.9 798.5,594.6 799.2,593.2 800.7,592.0" fill="#000" stroke="#000" stroke-width="1" />
<polygon points="796.1,626.9 797.0,625.7 798.0,626.2 798.2,627.0 797.7,628.1 797.2,628.4 796.1,627.9" fill="#000" stroke="#000" stroke-width="1" />
<polygon points="806.2,559.9 807.3,560.9 806.6,562.2 805.2,562.1 804.8,561.5 805.0,560.1 805.5,559.4" fill="#000" stroke="#000" stroke-width="1" />
<polygon points="796.5,577.7 795.5,577.3 796.0,576.5 797.0,576.6 797.4,577.4" fill="#000" stroke="#000" stroke-width="1" />
<polygon points="801.7,560.6 800.8,560.0 801.7,558.8 803.0,559.4 802.7,560.5" fill="#000" stroke="#000" stroke-width="1" />
<polygon points="802.0,561.7 802.5,560.9 803.7,561.2 803.1,562.4" fill="#000" stroke="#000" stroke-width="1" />
<polygon points="803.8,587.9 804.6,588.4 804.8,589.5 803.8,590.3 803.1,589.2" fill="#000" stroke="#000" stroke-width="1" />
<polygon points="803.5,629.1 803.1,630.8 801.5,630.6 801.5,629.3 802.2,628.0" fill="#000" stroke="#000" stroke-width="1" />
<polygon points="805.8,613.9 804.2,614.6 803.3,615.3 801.8,614.4 802.2,613.3 803.2,612.6 804.3,613.2" fill="#000" stroke="#000" stroke-width="1" />
<polygon points="799.2,643.7 800.6,643.7 801.2,645.5 800.5,646.2 798.6,645.6" fill="#000" stroke="#000" stroke-width="1" />
<polygon points="802.0,626.4 802.4,626.9 801.9,627.1 801.3,627.4 800.8,626.8 801.0,626.3 801.7,625.8" fill="#000" stroke="#000" stroke-width="1" />
<polygon points="798.1,606.0 796.8,605.7 796.6,605.0 796.7,603.9 798.0,603.6 799.4,603.6 799.7,605.5" fill="#000" stroke="#000" stroke-width="1" />
<polygon points="795.6,567.4 796.9,567.0 797.6,568.5 796.1,569.0" fill="#000" stroke="#000" stroke-width="1" />
<polygon points="799.7,611.0 799.3,610.0 800.4,609.6 801.6,609.5 801.8,610.6 801.4,611.5 800.3,611.9" fill="#000" stroke="#000" stroke-width="1" />
<polygon points="801.5,634.6 800.6,635.2 800.1,633.5 801.0,632.3 801.7,633.5" fill="#000" stroke="#000" stroke-width="1" />
<polygon points="799.3,593.7 800.5,593.1 801.4,593.5 802.1,595.1 800.9,596.0 799.8,595.5 798.9,595.0" fill="#000" stroke="#000" stroke-width="1" />
<polygon points="799.9,639.6 800.5,640.5 801.0,641.0 800.4,641.4 799.6,641.4 799.3,641.4 799.5,640.3" fill="#000" stroke="#000" stroke-width="1" />
<polygon points="802.3,588.0 802.2,589.7 801.3,589.9 800.4,589.1 801.0,587.6" fill="#000" stroke="#000" stroke-width="1" />
<polygon points="803.9,575.4 804.8,575.2 806.1,576.0 805.4,577.1 804.9,577.7 803.8,577.7 803.9,576.7" fill="#000" stroke="#000" stroke-width="1" />
<polygon points="799.3,584.5 800.1,584.2 800.2,585.0 800.9,585.6 799.8,586.4 799.1,585.8 798.8,585.2" fill="#000" stroke="#000" stroke-width="1" />
<polygon points="801.2,635.2 799.6,635.9 798.5,634.7 799.6,633.9 800.7,633.6" fill="#000" stroke="#000" stroke-width="1" />
<polygon points="801.1,648.2 799.3,649.0 797.5,648.2 798.5,646.5 800.3,645.8" fill="#000" stroke="#000" stroke-width="1" />
<polygon points="804.8,620.1 805.8,621.4 804.6,622.4 803.4,621.5 803.8,620.3" fill="#000" stroke="#000" stroke-width="1" />
<polygon points="794.6,593.2 796.1,592.3 797.7,594.2 795.1,595.1" fill="#000" stroke="#000" stroke-width="1" />
<polygon points="196.6,717.3 196.8,717.7 196.5,718.0 195.9,718.4 195.5,717.9 195.7,717.3 196.0,717.0" fill="#014365" stroke="none" stroke-width="0" />
<polygon points="209.8,701.6 209.5,702.7 208.6,703.6 208.0,702.5 207.6,701.5 208.9,701.1" fill="#014365" stroke="none" stroke-width="0" />
<polygon points="215.2,674.0 215.4,672.6 216.8,673.4 216.4,674.3" fill="#014365" stroke="none" stroke-width="0" />
<polygon points="193.4,721.0 194.8,720.9 196.0,720.3 196.7,721.7 196.2,723.1 194.8,722.9 193.6,722.1" fill="#014365" stroke="none" stroke-width="0" />
<polygon points="192.9,710.5 193.7,708.8 195.4,710.3 193.9,711.9" fill="#014365" stroke="none" stroke-width="0" />
<polygon points="202.1,714.3 202.9,714.3 203.5,714.8 202.8,715.6 202.2,715.6 201.6,714.9" fill="#014365" stroke="none" stroke-width="0" />
<polygon points="213.2,683.4 212.8,683.7 212.0,683.4 211.8,682.3 212.8,682.2 213.8,682.7" fill="#014365" stroke="none" stroke-width="0" />
<polygon points="210.1,688.6 209.5,688.6 209.0,687.9 209.3,686.8 210.4,687.3 210.7,688.0" fill="#014365" stroke="none" stroke-width="0" />
<polygon points="218.6,678.3 218.1,677.6 218.4,676.6 219.5,676.9 220.2,677.4 219.4,678.0" fill="#014365" stroke="none" stroke-width="0" />
<polygon points="212.5,700.3 213.0,699.8 213.8,700.3 213.0,701.3" fill="#014365" stroke="none" stroke-width="0" />
<polygon points="223.6,670.6 224.4,671.2 224.6,672.2 223.6,672.9 222.6,671.7" fill="#014365" stroke="none" stroke-width="0" />
<polygon points="225.8,673.9 226.3,672.4 227.6,673.0 227.5,674.0 226.9,674.8" fill="#014365" stroke="none" stroke-width="0" />
<polygon points="211.9,709.5 210.3,710.0 209.0,709.5 209.6,707.8 211.0,707.8" fill="#014365" stroke="none" stroke-width="0" />
<polygon points="194.6,720.7 195.6,720.1 196.3,721.4 195.3,722.4 194.4,721.5" fill="#014365" stroke="none" stroke-width="0" />
<polygon points="218.4,696.5 218.2,697.4 217.3,698.0 216.3,697.0 216.9,695.9 218.0,695.7" fill="#014365" stroke="none" stroke-width="0" />
<polygon points="195.8,726.4 193.8,726.7 194.3,724.2 196.0,724.5" fill="#014365" stroke="none" stroke-width="0" />
<polygon points="211.3,706.0 209.7,706.0 210.1,704.3 210.7,703.2 211.8,703.5 212.2,705.3" fill="#014365" stroke="none" stroke-width="0" />
<polygon points="199.3,729.2 199.9,727.6 201.1,728.7 200.2,729.8" fill="#014365" stroke="none" stroke-width="0" />
<polygon points="197.6,719.0 199.8,718.5 200.1,720.2 198.7,720.6 198.0,720.4" fill="#014365" stroke="none" stroke-width="0" />
<polygon points="200.0,709.4 199.8,708.5 201.6,708.2 201.2,709.9" fill="#014365" stroke="none" stroke-width="0" />
<polygon points="191.8,714.7 191.1,714.6 190.5,714.0 191.2,713.2 192.3,713.6" fill="#014365" stroke="none" stroke-width="0" />
<polygon points="183.0,716.7 182.7,715.9 183.5,716.0 183.7,716.7" fill="#014365" stroke="none" stroke-width="0" />
<polygon points="199.2,704.3 198.8,703.7 198.8,703.2 199.4,703.2 199.5,703.7" fill="#014365" stroke="none" stroke-width="0" />
<polygon points="212.7,689.0 212.1,688.8 212.2,687.8 213.0,688.3" fill="#014365" stroke="none" stroke-width="0" />
<polygon points="217.0,678.8 216.2,678.4 216.0,677.2 217.3,677.0 218.2,678.3" fill="#014365" stroke="none" stroke-width="0" />
<polygon points="194.3,724.6 193.5,724.4 193.2,723.9 194.0,723.3 194.6,723.1 194.8,723.7 194.8,724.5" fill="#014365" stroke="none" stroke-width="0" />
<polygon points="196.6,705.4 197.6,704.6 198.4,705.4 198.1,706.5 197.0,706.1" fill="#014365" stroke="none" stroke-width="0" />
<polygon points="189.5,709.2 189.7,710.1 189.1,710.7 188.4,709.6" fill="#014365" stroke="none" stroke-width="0" />
<polygon points="208.5,680.9 208.0,680.2 208.4,679.7 209.6,679.5 209.3,680.5" fill="#014365" stroke="none" stroke-width="0" />
<polygon points="211.8,697.8 212.5,696.0 214.0,696.0 214.6,697.7 213.2,698.9" fill="#014365" stroke="none" stroke-width="0" />
<polygon points="228.5,673.7 226.6,675.4 225.0,674.2 225.8,672.8 227.3,672.5" fill="#014365" stroke="none" stroke-width="0" />
<polygon points="202.6,711.0 201.3,709.8 202.3,708.8 203.2,709.5" fill="#014365" stroke="none" stroke-width="0" />
<polygon points="198.5,716.9 197.4,718.0 197.0,715.5 198.4,715.3" fill="#014365" stroke="none" stroke-width="0" />
<polygon points="201.0,711.7 200.7,712.4 199.6,712.0 200.1,710.9 200.8,711.2" fill="#014365" stroke="none" stroke-width="0" />
<polygon points="209.3,704.6 208.8,705.2 208.1,704.7 208.0,704.3 208.3,703.6 208.9,703.7 209.2,704.0" fill="#014365" stroke="none" stroke-width="0" />
<polygon points="213.6,685.1 215.4,686.1 214.2,687.5 212.6,686.4" fill="#014365" stroke="none" stroke-width="0" />
<polygon points="200.6,703.3 201.4,702.4 201.8,703.1 202.1,703.7 201.6,704.6 201.1,704.2 200.3,703.6" fill="#014365" stroke="none" stroke-width="0" />
<polygon points="211.0,683.3 211.3,685.2 209.7,686.0 208.7,684.7 209.5,683.8" fill="#014365" stroke="none" stroke-width="0" />
<polygon points="215.7,680.4 215.2,679.6 215.5,678.5 216.1,679.4" fill="#014365" stroke="none" stroke-width="0" />
<polygon points="221.4,676.2 222.2,676.2 223.4,677.5 222.3,678.6 221.5,679.2 221.1,678.2 220.6,677.0" fill="#014365" stroke="none" stroke-width="0" />
<polygon points="217.5,692.1 217.5,692.7 216.8,692.7 216.1,692.6 216.1,691.9 216.8,691.7" fill="#014365" stroke="none" stroke-width="0" />
<polygon points="186.3,720.8 185.1,720.5 185.0,719.5 186.3,719.5" fill="#014365" stroke="none" stroke-width="0" />
<polygon points="216.1,693.8 216.7,694.6 215.2,695.2 214.3,694.8 214.6,693.8 215.5,692.6" fill="#014365" stroke="none" stroke-width="0" />
<polygon points="205.6,713.4 207.3,713.4 207.1,714.8 205.9,715.0 204.6,714.3" fill="#014365" stroke="none" stroke-width="0" />
<polygon points="199.0,707.1 199.4,708.5 198.7,709.2 198.1,707.9" fill="#014365" stroke="none" stroke-width="0" />
<polygon points="218.5,691.0 217.8,690.1 218.4,689.0 219.8,689.4 220.1,690.5" fill="#014365" stroke="none" stroke-width="0" />
<polygon points="225.0,690.7 224.7,689.7 224.8,688.6 225.6,688.4 226.2,689.4 226.1,690.2" fill="#014365" stroke="none" stroke-width="0" />
<polygon points="198.1,717.5 196.0,717.4 196.8,715.9 198.6,716.2" fill="#014365" stroke="none" stroke-width="0" />
<polygon points="227.3,687.8 225.6,686.8 226.5,685.0 227.8,684.6 229.0,686.5" fill="#014365" stroke="none" stroke-width="0" />
<polygon points="205.8,686.4 206.7,686.6 207.6,687.9 206.6,689.0 205.2,689.0 204.7,687.4" fill="#014365" stroke="none" stroke-width="0" />
<polygon points="216.3,674.1 215.2,674.5 214.7,673.4 215.8,673.0" fill="#014365" stroke="none" stroke-width="0" />
<polygon points="211.4,709.0 210.2,708.6 210.1,706.9 211.2,705.9 212.6,706.9 212.0,708.2" fill="#014365" stroke="none" stroke-width="0" />
<polygon points="212.8,707.0 212.2,708.8 210.8,708.8 210.4,706.8 211.7,705.5" fill="#014365" stroke="none" stroke-width="0" />
<polygon points="229.1,671.5 230.0,673.3 227.9,674.1 227.6,672.3" fill="#014365" stroke="none" stroke-width="0" />
<polygon points="208.4,690.4 207.2,690.2 207.1,689.0 208.0,688.3 209.2,688.9 209.6,690.3" fill="#014365" stroke="none" stroke-width="0" />
<polygon points="215.9,687.1 214.2,687.3 213.6,685.2 215.9,684.8" fill="#014365" stroke="none" stroke-width="0" />
<polygon points="213.5,676.2 213.3,674.7 214.6,674.7 215.1,676.5" fill="#014365" stroke="none" stroke-width="0" />
<polygon points="224.4,688.0 224.5,687.2 224.7,686.5 225.3,686.2 226.1,687.1 226.1,687.9 225.2,688.4" fill="#014365" stroke="none" stroke-width="0" />
<polygon points="219.4,679.8 220.2,680.2 220.8,681.0 220.0,682.1 219.0,681.9 217.9,681.0 218.7,680.1" fill="#014365" stroke="none" stroke-width="0" />
<polygon points="213.3,693.3 214.1,693.2 215.0,693.4 214.6,694.0 214.2,694.1 213.6,694.0" fill="#014365" stroke="none" stroke-width="0" />
<polygon points="224.6,746.5 223.9,746.2 223.4,745.8 223.8,745.4 224.5,745.1 225.2,745.6" fill="#014365" stroke="none" stroke-width="0" />
<polygon points="214.4,740.0 214.6,738.6 214.5,737.6 215.9,737.9 216.3,738.6 216.3,739.4 215.5,739.7" fill="#014365" stroke="none" stroke-width="0" />
<polygon points="216.5,744.2 216.4,743.1 217.9,742.8 218.7,743.8 217.7,745.0" fill="#014365" stroke="none" stroke-width="0" />
<polygon points="220.9,749.0 219.9,749.4 218.5,747.9 219.9,746.4 221.6,747.4" fill="#014365" stroke="none" stroke-width="0" />
<polygon points="229.2,751.6 227.6,751.4 228.4,750.0 229.8,750.6" fill="#014365" stroke="none" stroke-width="0" />
<polygon points="208.0,738.7 208.7,739.8 209.0,740.8 207.7,740.9 206.9,740.7 207.3,739.6" fill="#014365" stroke="none" stroke-width="0" />
<polygon points="235.4,757.9 233.5,758.6 233.2,757.1 234.3,755.9" fill="#014365" stroke="none" stroke-width="0" />
<polygon points="207.2,737.9 208.3,738.1 208.5,739.0 208.4,739.8 207.2,740.5 206.9,739.3" fill="#014365" stroke="none" stroke-width="0" />
<polygon points="202.1,750.4 201.7,752.3 200.2,752.0 199.6,750.2" fill="#014365" stroke="none" stroke-width="0" />
<polygon points="168.9,735.0 168.4,734.4 168.0,733.7 169.0,733.3 169.4,733.8 169.6,734.6" fill="#014365" stroke="none" stroke-width="0" />
<polygon points="171.9,746.3 172.9,746.9 172.9,747.9 171.7,747.9 171.3,747.3" fill="#014365" stroke="none" stroke-width="0" />
<polygon points="194.8,751.3 194.1,753.0 192.9,752.8 192.5,752.2 192.2,750.7 193.9,750.3" fill="#014365" stroke="none" stroke-width="0" />
<polygon points="158.0,733.4 158.1,733.9 157.6,734.3 157.1,734.2 156.5,733.9 156.7,733.5 157.4,733.0" fill="#014365" stroke="none" stroke-width="0" />
<polygon points="185.6,740.0 186.9,739.2 187.8,740.5 187.6,741.7 186.6,741.7 185.7,741.9 184.8,740.7" fill="#014365" stroke="none" stroke-width="0" />
<polygon points="160.9,731.4 160.0,731.8 160.0,731.0 160.2,730.3 161.1,730.0 161.5,730.9" fill="#014365" stroke="none" stroke-width="0" />
<polygon points="163.4,744.7 163.7,745.3 162.9,745.9 162.4,745.0 162.8,744.3" fill="#014365" stroke="none" stroke-width="0" />
<polygon points="186.2,744.2 187.6,744.3 187.6,745.9 186.5,746.8 185.4,745.4" fill="#014365" stroke="none" stroke-width="0" />
<polygon points="175.6,738.2 176.0,737.6 177.0,737.0 178.3,738.2 177.6,738.8 177.0,739.9 176.3,739.1" fill="#014365" stroke="none" stroke-width="0" />
<polygon points="163.0,739.0 163.3,738.5 163.8,738.6 163.9,739.2 163.7,739.4 163.2,739.5" fill="#014365" stroke="none" stroke-width="0" />
<polygon points="177.2,747.6 176.5,748.3 175.5,747.6 176.0,746.8 176.8,746.6 177.7,746.9" fill="#014365" stroke="none" stroke-width="0" />
<polygon points="189.3,749.2 188.6,747.5 190.2,746.6 191.0,747.5 190.8,749.3" fill="#014365" stroke="none" stroke-width="0" />
<polygon points="167.0,734.7 167.7,734.9 168.2,735.4 167.9,736.1 167.3,736.6 166.9,735.9 166.6,735.4" fill="#014365" stroke="none" stroke-width="0" />
<polygon points="173.3,742.7 172.5,743.6 171.5,744.1 171.1,742.7 172.1,741.5" fill="#014365" stroke="none" stroke-width="0" />
<polygon points="160.5,752.9 162.5,753.7 161.9,755.1 160.1,754.6" fill="#014365" stroke="none" stroke-width="0" />
<polygon points="166.5,730.1 166.9,729.9 167.4,729.8 167.9,730.4 167.5,731.0 167.0,731.0 166.6,730.7" fill="#014365" stroke="none" stroke-width="0" />
<polygon points="161.0,734.0 162.6,733.7 162.9,735.7 161.0,735.5" fill="#014365" stroke="none" stroke-width="0" />
<polygon points="194.2,745.3 193.7,744.5 194.5,743.9 195.1,743.9 195.5,744.6 195.1,745.6" fill="#014365" stroke="none" stroke-width="0" />
<polygon points="163.2,740.4 162.7,739.6 163.3,739.0 164.2,739.4 163.7,740.1" fill="#014365" stroke="none" stroke-width="0" />
<polygon points="190.0,749.3 191.2,748.8 192.0,749.5 192.4,750.9 191.5,751.3 190.8,751.9 189.3,750.7" fill="#014365" stroke="none" stroke-width="0" />
<polygon points="174.1,751.1 174.2,751.9 174.0,753.2 172.7,752.6 171.9,751.3 173.1,750.2" fill="#014365" stroke="none" stroke-width="0" />
<polygon points="191.2,743.5 191.7,742.4 193.2,742.8 193.2,744.1 192.3,745.4" fill="#014365" stroke="none" stroke-width="0" />
<polygon points="157.5,723.1 158.3,721.5 159.7,722.0 160.3,722.9 158.9,723.8" fill="#014365" stroke="none" stroke-width="0" />
<polygon points="191.7,753.3 193.4,753.7 192.0,755.1 190.2,754.2" fill="#014365" stroke="none" stroke-width="0" />
<polygon points="153.9,735.5 154.1,734.3 154.7,733.9 155.5,734.4 155.6,735.4 155.2,736.1 154.3,736.3" fill="#014365" stroke="none" stroke-width="0" />
<polygon points="191.3,750.1 191.6,751.6 190.2,752.0 189.7,750.2" fill="#014365" stroke="none" stroke-width="0" />
<polygon points="176.6,744.8 175.0,742.9 177.2,741.6 178.1,743.5" fill="#014365" stroke="none" stroke-width="0" />
<polygon points="181.7,740.0 182.8,741.0 182.5,741.8 181.7,742.0 181.0,742.2 180.2,741.2 181.1,740.2" fill="#014365" stroke="none" stroke-width="0" />
<polygon points="184.9,754.4 185.8,753.5 186.9,753.2 187.8,754.1 187.2,755.0 186.1,756.1" fill="#014365" stroke="none" stroke-width="0" />
<polygon points="93.8,752.4 92.9,754.0 91.3,752.8 91.4,751.8 93.2,751.0" fill="#014365" stroke="none" stroke-width="0" />
<polygon points="87.1,746.0 88.4,746.0 89.0,747.6 87.5,748.5 86.3,747.0" fill="#014365" stroke="none" stroke-width="0" />
<polygon points="102.7,756.1 101.6,756.4 100.8,755.3 101.1,754.0 102.5,753.8 103.3,754.8" fill="#014365" stroke="none" stroke-width="0" />
<polygon points="72.8,741.3 73.2,740.5 74.1,740.0 74.8,741.3 74.4,742.3 73.8,742.7 72.6,742.2" fill="#014365" stroke="none" stroke-width="0" />
<polygon points="91.4,751.4 91.0,751.6 90.4,751.6 90.1,750.9 90.9,750.2 91.5,750.7" fill="#014365" stroke="none" stroke-width="0" />
<polygon points="71.7,741.0 71.5,740.0 72.5,739.7 72.7,740.6" fill="#014365" stroke="none" stroke-width="0" />
<polygon points="96.5,755.5 97.5,756.1 96.3,756.6 95.8,755.8" fill="#014365" stroke="none" stroke-width="0" />
<polygon points="100.2,746.7 100.1,746.1 100.7,745.7 101.1,746.1 100.9,746.7 100.6,747.0" fill="#014365" stroke="none" stroke-width="0" />
<polygon points="79.0,746.7 79.5,745.2 80.2,745.1 81.2,745.5 81.4,746.8 80.1,747.2" fill="#014365" stroke="none" stroke-width="0" />
<polygon points="77.8,749.2 78.2,748.8 78.7,748.8 79.1,749.6 78.2,749.7" fill="#014365" stroke="none" stroke-width="0" />
<polygon points="89.6,748.6 91.2,748.5 91.8,749.3 91.3,751.0 89.6,750.4" fill="#014365" stroke="none" stroke-width="0" />
<polygon points="96.5,752.4 95.7,751.9 95.5,750.9 95.7,750.0 96.6,750.0 97.7,750.7 97.2,751.3" fill="#014365" stroke="none" stroke-width="0" />
<polygon points="101.3,751.0 100.0,750.7 100.1,748.4 101.8,748.9" fill="#014365" stroke="none" stroke-width="0" />
<polygon points="74.7,748.1 76.2,747.2 77.0,748.4 75.5,748.9" fill="#014365" stroke="none" stroke-width="0" />
<polygon points="69.2,739.4 69.0,741.1 67.3,741.7 65.9,739.5 67.7,738.8" fill="#014365" stroke="none" stroke-width="0" />
<polygon points="73.5,742.1 73.1,742.7 72.5,742.9 72.6,742.0" fill="#014365" stroke="none" stroke-width="0" />
<polygon points="88.7,745.3 89.2,746.8 87.9,746.7 87.6,745.5" fill="#014365" stroke="none" stroke-width="0" />
<polygon points="92.6,749.7 92.9,750.5 91.9,751.0 91.8,749.8" fill="#014365" stroke="none" stroke-width="0" />
<polygon points="103.0,756.1 102.0,754.1 104.4,754.0 104.3,755.5" fill="#014365" stroke="none" stroke-width="0" />
<polygon points="79.7,744.8 78.9,742.7 79.9,741.6 81.3,743.0" fill="#014365" stroke="none" stroke-width="0" />
<polygon points="144.6,748.8 143.7,749.2 143.3,748.2 144.5,747.9" fill="#014365" stroke="none" stroke-width="0" />
<polygon points="119.8,754.4 117.6,754.6 117.5,753.0 118.9,752.3" fill="#014365" stroke="none" stroke-width="0" />
<polygon points="133.0,747.3 133.6,748.4 133.1,749.4 132.3,749.3 131.8,749.3 131.8,748.2 132.1,747.4" fill="#014365" stroke="none" stroke-width="0" />
<polygon points="146.3,753.6 144.8,754.8 143.2,753.2 144.1,752.3 145.2,750.9 146.5,752.2" fill="#014365" stroke="none" stroke-width="0" />
<polygon points="139.2,749.7 139.8,751.1 139.5,752.0 138.1,752.6 137.1,752.1 137.2,750.5 137.9,750.2" fill="#014365" stroke="none" stroke-width="0" />
<polygon points="133.2,751.6 133.0,752.1 132.2,752.3 131.7,752.4 131.2,751.6 131.8,750.8 132.7,751.3" fill="#014365" stroke="none" stroke-width="0" />
<polygon points="128.4,750.9 129.1,751.9 128.6,753.1 128.1,752.9 127.0,753.1 127.1,752.1 127.7,751.2" fill="#014365" stroke="none" stroke-width="0" />
<polygon points="123.0,744.9 123.9,744.2 124.6,743.8 124.7,745.1 124.0,746.1" fill="#014365" stroke="none" stroke-width="0" />
<polygon points="141.4,753.0 141.4,754.1 141.1,755.2 140.2,755.2 139.6,754.1 139.3,753.5 140.4,752.6" fill="#014365" stroke="none" stroke-width="0" />
<polygon points="137.5,753.5 137.2,752.9 138.2,752.7 138.7,753.4 138.0,753.7" fill="#014365" stroke="none" stroke-width="0" />
<polygon points="134.2,751.6 135.1,751.7 135.9,753.0 135.5,754.4 134.2,754.2 132.7,753.1" fill="#014365" stroke="none" stroke-width="0" />
<polygon points="120.9,749.7 121.2,749.4 121.7,749.2 122.2,749.2 122.5,749.7 122.0,750.0 121.5,750.1" fill="#014365" stroke="none" stroke-width="0" />
<polygon points="137.7,748.5 137.8,748.1 138.4,748.1 138.4,748.9 138.0,749.1" fill="#014365" stroke="none" stroke-width="0" />
<polygon points="130.3,747.1 131.2,747.6 131.4,749.4 129.2,748.9 129.2,747.7" fill="#014365" stroke="none" stroke-width="0" />
<polygon points="132.7,755.5 133.2,756.1 132.8,756.7 132.4,757.3 131.8,756.7 131.9,756.2 132.0,755.9" fill="#014365" stroke="none" stroke-width="0" />
<polygon points="118.2,746.6 118.5,747.5 117.6,747.8 116.9,746.9 117.7,746.0" fill="#014365" stroke="none" stroke-width="0" />
<polygon points="128.7,750.6 128.5,751.7 127.8,752.2 126.8,752.0 125.6,751.0 126.9,749.6" fill="#014365" stroke="none" stroke-width="0" />
<polygon points="147.5,753.0 146.7,753.4 145.7,752.7 146.0,751.8 146.9,751.1 147.6,751.9" fill="#014365" stroke="none" stroke-width="0" />
<polygon points="116.7,747.5 116.2,748.7 115.4,748.8 114.9,748.0 115.3,746.9" fill="#014365" stroke="none" stroke-width="0" />
<polygon points="129.9,754.8 129.8,755.6 129.1,756.4 128.3,756.2 127.5,755.2 127.9,754.4 128.8,754.2" fill="#014365" stroke="none" stroke-width="0" />
<polygon points="132.3,753.9 133.0,752.9 134.3,752.8 134.4,753.8 134.4,755.1 133.4,754.9 132.5,755.1" fill="#014365" stroke="none" stroke-width="0" />
<polygon points="125.4,745.6 127.3,746.3 126.0,748.2 124.2,747.4" fill="#014365" stroke="none" stroke-width="0" />
<polygon points="118.4,747.1 119.9,747.1 119.9,748.8 118.8,750.1 117.9,749.3 117.0,747.8" fill="#014365" stroke="none" stroke-width="0" />
<polygon points="121.8,747.3 121.3,747.8 121.1,746.9 121.5,746.7" fill="#014365" stroke="none" stroke-width="0" />
<polygon points="125.7,753.3 125.5,752.3 126.5,751.2 127.8,751.7 128.1,752.8 127.3,753.4 126.6,753.6" fill="#014365" stroke="none" stroke-width="0" />
<polygon points="200.4,667.6 198.8,666.4 200.0,664.6 201.1,666.2" fill="#014365" stroke="none" stroke-width="0" />
<polygon points="207.1,661.1 208.0,660.9 209.0,662.2 208.6,663.2 207.2,663.5 205.6,662.9 205.9,661.5" fill="#014365" stroke="none" stroke-width="0" />
<polygon points="200.4,664.1 201.7,663.3 202.2,664.5 202.2,666.3 200.1,666.0" fill="#014365" stroke="none" stroke-width="0" />
<polygon points="799.1,637.2 799.9,637.1 799.8,638.0 799.2,638.6 798.7,638.1 798.3,637.4" fill="#014365" stroke="none" stroke-width="0" />
<polygon points="795.9,599.7 795.5,600.2 794.8,599.7 795.2,598.9 795.4,598.5 796.0,598.5 796.6,599.2" fill="#014365" stroke="none" stroke-width="0" />
<polygon points="799.8,577.4 799.4,578.4 799.2,578.9 797.8,579.3 797.5,578.4 797.0,577.3 798.4,577.0" fill="#014365" stroke="none" stroke-width="0" />
<polygon points="797.3,591.9 796.8,590.0 798.5,589.0 799.6,590.9" fill="#014365" stroke="none" stroke-width="0" />
<polygon points="801.4,642.2 800.7,640.7 801.6,639.7 803.6,640.6 802.6,642.2" fill="#014365" stroke="none" stroke-width="0" />
<polygon points="805.3,588.7 805.9,589.7 803.5,590.1 802.8,588.8" fill="#014365" stroke="none" stroke-width="0" />
<polygon points="794.6,571.5 794.5,570.7 795.2,570.5 796.0,570.3 796.2,571.0 796.2,571.7 795.2,572.4" fill="#014365" stroke="none" stroke-width="0" />
<polygon points="803.5,607.5 802.8,608.2 801.5,607.6 801.8,606.8 803.1,606.2" fill="#014365" stroke="none" stroke-width="0" />
<polygon points="800.5,636.2 801.0,635.6 801.5,635.8 801.9,636.2 801.2,636.6" fill="#014365" stroke="none" stroke-width="0" />
<polygon points="804.4,572.1 804.0,571.7 803.8,571.0 803.8,570.3 804.6,570.1 804.8,570.8 804.9,571.5" fill="#014365" stroke="none" stroke-width="0" />
<polygon points="800.5,585.9 799.2,586.3 798.1,584.9 799.0,583.5 800.5,583.3 801.4,585.0" fill="#014365" stroke="none" stroke-width="0" />
<polygon points="802.1,566.4 800.2,566.2 800.7,564.2 802.1,564.4" fill="#014365" stroke="none" stroke-width="0" />
<polygon points="804.7,600.5 804.8,601.9 803.7,601.3 803.9,600.4" fill="#014365" stroke="none" stroke-width="0" />
<polygon points="796.0,590.4 797.0,590.1 797.2,591.2 796.2,591.0" fill="#014365" stroke="none" stroke-width="0" />
<polygon points="800.6,626.8 801.6,627.8 800.5,628.2 799.3,628.2 799.3,626.8" fill="#014365" stroke="none" stroke-width="0" />
<polygon points="799.5,595.1 799.1,594.6 799.7,594.1 800.1,594.1 800.4,594.8 799.9,595.5" fill="#014365" stroke="none" stroke-width="0" />
<polygon points="807.0,617.7 806.2,618.6 805.4,619.0 805.2,617.8 805.2,617.0 806.1,617.2" fill="#014365" stroke="none" stroke-width="0" />
<polygon points="800.8,636.4 800.8,637.1 799.8,637.1 799.8,636.1 800.6,636.0" fill="#014365" stroke="none" stroke-width="0" />
<polygon points="802.5,577.0 804.2,576.6 804.4,578.4 803.0,578.6 801.6,578.1" fill="#014365" stroke="none" stroke-width="0" />
<polygon points="804.3,599.9 804.8,599.9 805.4,600.3 804.8,600.7 804.4,600.8 804.3,600.3" fill="#014365" stroke="none" stroke-width="0" />
<polygon points="802.3,593.9 801.0,592.1 802.7,591.0 803.5,592.1 803.7,593.7" fill="#014365" stroke="none" stroke-width="0" />
<polygon points="801.4,585.3 800.8,586.0 799.5,585.5 799.1,584.3 799.8,583.4 801.2,582.7 801.9,583.9" fill="#014365" stroke="none" stroke-width="0" />
<polygon points="799.6,563.8 799.6,562.2 800.6,561.4 801.1,562.9 800.9,564.3" fill="#014365" stroke="none" stroke-width="0" />
<polygon points="804.8,592.8 805.7,592.8 805.8,593.6 806.0,594.5 805.3,594.9 804.7,594.5 804.6,593.7" fill="#014365" stroke="none" stroke-width="0" />
<polygon points="804.7,612.1 805.6,613.3 804.0,614.1 802.9,612.2" fill="#014365" stroke="none" stroke-width="0" />
<polygon points="796.4,625.0 797.7,624.7 798.5,625.3 799.0,626.6 797.8,627.2 796.4,626.4" fill="#014365" stroke="none" stroke-width="0" />
<polygon points="798.4,628.2 799.0,627.0 800.2,627.6 799.4,628.6" fill="#014365" stroke="none" stroke-width="0" />
<polygon points="798.6,560.9 798.8,561.7 798.1,562.2 797.6,561.9 797.6,561.0 798.0,560.7" fill="#014365" stroke="none" stroke-width="0" />
<polygon points="802.9,602.0 802.3,601.2 801.8,600.2 802.4,598.9 803.3,599.3 803.7,600.1 803.5,601.0" fill="#014365" stroke="none" stroke-width="0" />
<polygon points="805.8,624.0 807.3,624.9 806.9,626.3 805.6,626.7 804.4,625.1" fill="#014365" stroke="none" stroke-width="0" />
<polygon points="803.1,583.2 803.8,584.1 803.3,584.7 802.6,585.2 802.0,584.2 802.4,583.5" fill="#014365" stroke="none" stroke-width="0" />
<polygon points="800.3,586.8 800.1,587.7 799.4,588.6 798.6,588.1 798.0,586.9 798.9,585.6 800.1,586.4" fill="#014365" stroke="none" stroke-width="0" />
<polygon points="805.0,597.5 804.3,595.3 806.1,594.2 806.3,596.7" fill="#014365" stroke="none" stroke-width="0" />
<polygon points="805.5,565.9 804.7,566.3 804.4,565.6 805.0,564.9" fill="#014365" stroke="none" stroke-width="0" />
<polygon points="795.8,603.9 795.8,603.2 796.3,602.6 797.3,602.7 797.3,603.7 796.6,604.4" fill="#014365" stroke="none" stroke-width="0" />
<polygon points="802.8,561.2 803.9,561.6 803.2,562.4 802.2,563.3 801.4,562.0 802.0,560.8" fill="#014365" stroke="none" stroke-width="0" />
<polygon points="799.1,602.5 799.9,602.0 800.9,602.4 801.2,603.1 800.2,604.2 799.2,603.4 798.8,603.1" fill="#014365" stroke="none" stroke-width="0" />
<polygon points="797.3,578.4 797.0,580.0 796.8,580.6 795.2,580.6 795.1,579.9 795.9,578.8" fill="#014365" stroke="none" stroke-width="0" />
<polygon points="804.7,632.6 805.4,632.9 805.2,633.5 805.0,633.8 804.2,634.0 804.2,633.2" fill="#014365" stroke="none" stroke-width="0" />
<polygon points="798.1,621.1 796.7,620.7 797.1,619.6 798.2,619.5" fill="#014365" stroke="none" stroke-width="0" />
<polygon points="221.2,701.9 220.5,702.5 219.5,701.8 220.0,701.0 220.5,700.7 221.5,701.0" fill="#5d4f4b" stroke="#000" stroke-width="1" />
<polygon points="215.0,704.6 213.7,704.0 214.3,702.5 215.8,702.7 216.1,703.5 215.8,704.3" fill="#5d4f4b" stroke="#000" stroke-width="1" />
<polygon points="203.1,713.1 202.3,713.5 202.1,712.9 202.1,712.2 202.5,711.7 203.0,712.0 203.5,712.6" fill="#5d4f4b" stroke="#000" stroke-width="1" />
<polygon points="198.2,708.4 199.5,708.7 198.6,710.0 197.8,709.2" fill="#5d4f4b" stroke="#000" stroke-width="1" />
<polygon points="206.4,713.0 206.5,711.8 207.8,711.4 208.4,712.5 209.1,713.5 207.6,714.7 206.4,713.8" fill="#5d4f4b" stroke="#000" stroke-width="1" />
<polygon points="183.8,718.8 184.6,718.2 185.2,717.6 185.9,718.6 185.7,719.5 184.7,719.4" fill="#5d4f4b" stroke="#000" stroke-width="1" />
<polygon points="221.1,675.7 221.1,676.5 219.9,677.1 218.7,675.8 219.4,674.6 220.3,674.4 221.3,674.6" fill="#5d4f4b" stroke="#000" stroke-width="1" />
<polygon points="218.0,672.9 219.7,672.4 219.5,673.8 218.0,674.1" fill="#5d4f4b" stroke="#000" stroke-width="1" />
<polygon points="225.7,674.9 224.9,673.6 225.8,672.9 227.1,672.9 226.5,674.2" fill="#5d4f4b" stroke="#000" stroke-width="1" />
<polygon points="221.5,685.3 220.4,685.4 220.1,684.5 220.6,683.6 221.9,684.2" fill="#5d4f4b" stroke="#000" stroke-width="1" />
<polygon points="215.5,692.9 215.8,693.7 214.9,693.6 214.5,693.0" fill="#5d4f4b" stroke="#000" stroke-width="1" />
<polygon points="207.7,709.0 207.7,708.3 208.4,708.2 208.2,709.1" fill="#5d4f4b" stroke="#000" stroke-width="1" />
<polygon points="189.2,712.8 189.4,713.9 188.7,714.1 187.9,713.9 187.9,713.3 187.9,712.7 188.8,712.5" fill="#5d4f4b" stroke="#000" stroke-width="1" />
<polygon points="221.3,672.5 221.7,671.8 223.3,671.7 223.7,673.0 222.9,673.6 221.3,674.0" fill="#5d4f4b" stroke="#000" stroke-width="1" />
<polygon points="215.5,678.2 215.1,679.0 214.0,678.4 214.0,677.7 215.0,677.3" fill="#5d4f4b" stroke="#000" stroke-width="1" />
<polygon points="213.8,672.8 214.6,671.7 215.8,671.9 215.2,673.2" fill="#5d4f4b" stroke="#000" stroke-width="1" />
<polygon points="210.7,702.4 210.0,702.6 208.9,702.1 208.9,701.1 209.9,700.4 211.2,700.9 211.4,701.7" fill="#5d4f4b" stroke="#000" stroke-width="1" />
<polygon points="202.4,692.2 203.3,691.1 204.2,691.7 203.6,692.9" fill="#5d4f4b" stroke="#000" stroke-width="1" />
<polygon points="210.9,676.2 211.5,675.4 212.2,675.8 212.3,676.0 212.7,676.7 211.8,677.1 211.0,676.6" fill="#5d4f4b" stroke="#000" stroke-width="1" />
<polygon points="190.4,717.9 191.4,717.6 192.5,718.4 191.5,719.2 190.4,719.2" fill="#5d4f4b" stroke="#000" stroke-width="1" />
<polygon points="202.3,695.2 202.2,694.6 202.7,694.1 203.2,694.2 203.6,694.7 203.6,695.2 202.9,695.4" fill="#5d4f4b" stroke="#000" stroke-width="1" />
<polygon points="210.8,686.8 211.0,685.6 211.2,685.0 212.0,684.3 213.0,685.2 212.9,686.1 212.1,686.9" fill="#5d4f4b" stroke="#000" stroke-width="1" />
<polygon points="217.9,674.0 217.8,674.3 217.3,674.4 217.0,674.0 217.2,673.6 217.6,673.0 218.2,673.5" fill="#5d4f4b" stroke="#000" stroke-width="1" />
<polygon points="214.5,688.2 214.8,687.7 215.5,687.8 215.6,688.4 214.9,688.6" fill="#5d4f4b" stroke="#000" stroke-width="1" />
<polygon points="218.3,684.0 219.1,683.5 219.9,683.4 220.8,684.0 220.0,684.9 219.3,684.9" fill="#5d4f4b" stroke="#000" stroke-width="1" />
<polygon points="216.6,706.3 215.9,707.4 214.8,706.8 215.5,705.6" fill="#5d4f4b" stroke="#000" stroke-width="1" />
<polygon points="219.5,707.1 218.4,707.2 218.5,705.9 219.4,705.4 220.7,705.7 220.0,707.1" fill="#5d4f4b" stroke="#000" stroke-width="1" />
<polygon points="225.3,673.1 226.6,671.3 227.8,672.6 227.3,674.3" fill="#5d4f4b" stroke="#000" stroke-width="1" />
<polygon points="221.9,680.2 223.1,680.1 223.1,681.7 221.9,681.5" fill="#5d4f4b" stroke="#000" stroke-width="1" />
<polygon points="190.4,715.1 190.9,714.1 191.9,713.9 192.9,714.0 193.2,715.3 191.9,716.1" fill="#5d4f4b" stroke="#000" stroke-width="1" />
<polygon points="198.8,718.9 199.3,719.7 199.8,720.6 198.6,721.0 198.2,720.5 197.7,719.2" fill="#5d4f4b" stroke="#000" stroke-width="1" />
<polygon points="211.0,692.7 210.7,692.4 210.8,692.0 211.1,691.8 211.6,691.9 211.9,692.4 211.6,692.6" fill="#5d4f4b" stroke="#000" stroke-width="1" />
<polygon points="212.5,705.4 213.0,704.3 213.7,704.2 214.9,705.0 214.7,705.7 213.7,706.7 212.8,706.7" fill="#5d4f4b" stroke="#000" stroke-width="1" />
<polygon points="214.6,691.3 213.9,691.7 213.4,691.3 212.7,690.8 213.3,690.4 214.0,689.9 214.6,690.7" fill="#5d4f4b" stroke="#000" stroke-width="1" />
<polygon points="202.3,695.6 202.9,695.4 203.1,696.0 203.5,696.4 202.9,697.2 202.4,696.6 201.9,696.3" fill="#5d4f4b" stroke="#000" stroke-width="1" />
<polygon points="212.2,691.2 211.8,690.0 212.2,689.2 213.3,688.7 213.6,689.8 213.6,690.5 213.3,691.3" fill="#5d4f4b" stroke="#000" stroke-width="1" />
<polygon points="198.7,710.0 198.3,709.0 198.4,708.4 199.1,708.2 200.0,708.4 199.8,709.1 199.3,709.3" fill="#5d4f4b" stroke="#000" stroke-width="1" />
<polygon points="217.0,690.5 216.3,691.0 216.1,690.0 216.5,689.1 217.0,689.5" fill="#5d4f4b" stroke="#000" stroke-width="1" />
<polygon points="206.9,676.8 206.9,675.7 207.6,675.5 208.2,675.7 208.4,677.0 207.5,677.2" fill="#5d4f4b" stroke="#000" stroke-width="1" />
<polygon points="226.4,672.5 224.7,671.9 226.1,670.7 227.5,670.6 227.8,672.4" fill="#5d4f4b" stroke="#000" stroke-width="1" />
<polygon points="194.7,726.8 195.6,726.6 195.9,728.3 194.9,728.8 194.0,727.5" fill="#5d4f4b" stroke="#000" stroke-width="1" />
<polygon points="205.1,700.4 204.8,701.5 204.2,701.2 204.0,700.3" fill="#5d4f4b" stroke="#000" stroke-width="1" />
<polygon points="212.4,711.0 211.5,710.4 210.5,709.8 211.3,708.7 212.4,708.9 213.0,709.4 213.4,710.4" fill="#5d4f4b" stroke="#000" stroke-width="1" />
<polygon points="221.1,670.1 221.8,669.4 222.8,669.0 223.8,669.7 223.1,670.7 222.3,670.8" fill="#5d4f4b" stroke="#000" stroke-width="1" />
<polygon points="223.5,676.4 224.7,676.8 224.8,677.5 224.2,677.8 223.1,677.7" fill="#5d4f4b" stroke="#000" stroke-width="1" />
<polygon points="182.5,718.9 183.9,717.9 185.2,718.3 184.7,720.2" fill="#5d4f4b" stroke="#000" stroke-width="1" />
<polygon points="217.1,700.4 217.7,701.8 216.7,702.3 215.2,701.9 215.9,700.6" fill="#5d4f4b" stroke="#000" stroke-width="1" />
<polygon points="184.4,719.7 183.4,719.2 183.7,718.4 184.0,718.1 184.9,717.9 185.2,718.9" fill="#5d4f4b" stroke="#000" stroke-width="1" />
<polygon points="199.3,729.0 197.9,728.8 198.8,727.2 200.1,728.1" fill="#5d4f4b" stroke="#000" stroke-width="1" />
<polygon points="201.7,732.9 202.3,732.9 202.8,733.4 202.3,734.0 201.9,733.9 201.3,733.9 201.6,733.3" fill="#5d4f4b" stroke="#000" stroke-width="1" />
<polygon points="205.8,706.4 206.4,706.4 207.0,706.9 206.8,708.0 205.6,707.6 205.2,707.3 204.8,706.4" fill="#5d4f4b" stroke="#000" stroke-width="1" />
<polygon points="200.8,702.2 200.6,701.2 201.2,701.2 201.6,701.9" fill="#5d4f4b" stroke="#000" stroke-width="1" />
<polygon points="223.9,688.8 223.9,690.0 222.5,690.4 222.8,688.6" fill="#5d4f4b" stroke="#000" stroke-width="1" />
<polygon points="223.4,690.2 224.4,692.3 222.3,692.8 222.2,690.8" fill="#5d4f4b" stroke="#000" stroke-width="1" />
<polygon points="222.3,677.5 221.5,676.6 222.6,675.8 223.0,676.8" fill="#5d4f4b" stroke="#000" stroke-width="1" />
<polygon points="223.5,682.8 223.2,682.3 223.0,681.9 223.4,681.5 224.0,681.6 224.0,682.1 224.1,682.7" fill="#5d4f4b" stroke="#000" stroke-width="1" />
<polygon points="218.3,689.8 218.3,690.5 217.6,691.2 217.1,690.7 217.0,690.1 217.3,689.3" fill="#5d4f4b" stroke="#000" stroke-width="1" />
<polygon points="210.1,687.8 211.7,687.6 212.0,689.0 210.4,689.0" fill="#5d4f4b" stroke="#000" stroke-width="1" />
<polygon points="219.2,693.1 218.5,693.6 217.8,693.2 217.2,692.1 218.2,691.5 219.1,691.9 219.4,692.2" fill="#5d4f4b" stroke="#000" stroke-width="1" />
<polygon points="192.2,723.6 191.7,724.0 190.9,723.6 191.2,723.0 191.2,722.5 192.3,722.3 192.3,722.9" fill="#5d4f4b" stroke="#000" stroke-width="1" />
<polygon points="209.7,693.4 209.3,693.1 209.3,692.3 210.2,692.6 210.3,693.2" fill="#5d4f4b" stroke="#000" stroke-width="1" />
<polygon points="218.8,701.6 219.3,702.1 219.0,702.7 218.5,702.7 217.9,702.6 217.6,702.2 218.2,701.6" fill="#5d4f4b" stroke="#000" stroke-width="1" />
<polygon points="227.4,673.8 227.7,673.1 228.2,673.7 228.2,674.2 227.7,674.2" fill="#5d4f4b" stroke="#000" stroke-width="1" />
<polygon points="194.7,720.9 195.4,721.6 195.3,722.3 195.2,723.0 194.3,722.7 194.0,722.4 194.0,721.4" fill="#5d4f4b" stroke="#000" stroke-width="1" />
<polygon points="209.9,691.5 210.2,690.7 211.0,690.9 211.2,691.3 210.7,691.8" fill="#5d4f4b" stroke="#000" stroke-width="1" />
<polygon points="219.9,684.5 219.8,683.0 221.9,682.7 221.6,684.2" fill="#5d4f4b" stroke="#000" stroke-width="1" />
<polygon points="212.3,683.4 212.0,684.4 211.2,684.0 210.2,682.9 211.0,682.4 212.0,681.6 213.0,682.4" fill="#5d4f4b" stroke="#000" stroke-width="1" />
<polygon points="201.8,710.9 201.3,710.5 201.6,710.0 202.3,709.9 202.8,710.5 202.4,711.0" fill="#5d4f4b" stroke="#000" stroke-width="1" />
<polygon points="207.5,699.8 208.5,699.6 209.6,699.1 210.3,700.5 209.5,701.3 208.2,702.0 207.6,700.8" fill="#5d4f4b" stroke="#000" stroke-width="1" />
<polygon points="190.2,721.6 189.2,721.0 189.7,719.5 190.7,720.4" fill="#5d4f4b" stroke="#000" stroke-width="1" />
<polygon points="199.9,714.5 199.1,712.9 200.8,712.4 201.7,713.9" fill="#5d4f4b" stroke="#000" stroke-width="1" />
<polygon points="206.4,679.2 207.5,679.3 208.0,680.7 206.5,680.6" fill="#5d4f4b" stroke="#000" stroke-width="1" />
<polygon points="200.8,702.9 202.2,702.1 203.7,702.7 203.1,703.6 201.7,704.3" fill="#5d4f4b" stroke="#000" stroke-width="1" />
<polygon points="216.7,702.9 215.7,703.6 215.4,702.4 216.2,701.6" fill="#5d4f4b" stroke="#000" stroke-width="1" />
<polygon points="195.7,725.3 196.0,725.0 196.4,724.9 196.8,725.5 196.3,726.0 195.8,725.8" fill="#5d4f4b" stroke="#000" stroke-width="1" />
<polygon points="222.4,690.4 223.0,688.7 224.0,689.7 224.5,691.0 222.9,691.2" fill="#5d4f4b" stroke="#000" stroke-width="1" />
<polygon points="226.6,676.2 226.4,676.8 225.9,677.1 225.5,677.0 225.2,676.3 225.5,675.7 226.1,675.9" fill="#5d4f4b" stroke="#000" stroke-width="1" />
<polygon points="190.7,719.2 191.5,718.2 191.7,717.2 193.2,718.0 193.1,718.6 192.9,719.9 192.0,720.1" fill="#5d4f4b" stroke="#000" stroke-width="1" />
<polygon points="219.7,687.4 220.4,687.6 220.3,688.2 220.2,688.7 219.3,689.0 219.0,688.3 219.4,687.7" fill="#5d4f4b" stroke="#000" stroke-width="1" />
<polygon points="215.0,674.5 215.1,673.7 216.1,673.2 216.5,673.9 216.6,674.9 215.6,674.9" fill="#5d4f4b" stroke="#000" stroke-width="1" />
<polygon points="218.6,704.8 217.9,704.4 217.9,703.6 218.8,703.0 219.9,703.2 220.5,704.2 219.7,705.1" fill="#5d4f4b" stroke="#000" stroke-width="1" />
<polygon points="206.5,711.9 207.0,713.0 205.8,713.3 205.5,712.1" fill="#5d4f4b" stroke="#000" stroke-width="1" />
<polygon points="199.1,723.6 199.4,722.9 200.0,722.9 200.6,723.2 200.1,723.9" fill="#5d4f4b" stroke="#000" stroke-width="1" />
<polygon points="214.8,695.6 216.0,694.4 216.9,694.2 217.3,695.4 217.2,696.6 215.9,696.2" fill="#5d4f4b" stroke="#000" stroke-width="1" />
<polygon points="192.9,725.7 193.1,726.8 192.0,726.9 191.9,725.6" fill="#5d4f4b" stroke="#000" stroke-width="1" />
<polygon points="198.7,705.5 199.0,704.3 200.4,704.5 199.8,705.6" fill="#5d4f4b" stroke="#000" stroke-width="1" />
<polygon points="207.8,707.4 207.1,706.5 207.3,705.5 208.0,705.3 208.6,705.2 208.7,706.4 208.4,707.0" fill="#5d4f4b" stroke="#000" stroke-width="1" />
<polygon points="210.8,701.0 209.8,700.0 210.4,699.1 211.3,699.0 212.2,699.1 211.8,700.4 211.6,701.0" fill="#5d4f4b" stroke="#000" stroke-width="1" />
<polygon points="216.1,707.0 217.1,706.6 218.4,706.4 217.9,707.6 217.4,708.7 216.3,708.3" fill="#5d4f4b" stroke="#000" stroke-width="1" />
<polygon points="189.4,720.2 190.4,719.7 191.1,720.7 190.2,721.4 189.2,720.9" fill="#5d4f4b" stroke="#000" stroke-width="1" />
<polygon points="210.8,683.9 210.3,683.3 211.0,683.0 211.6,683.0 211.7,683.5 211.6,684.2" fill="#5d4f4b" stroke="#000" stroke-width="1" />
<polygon points="205.4,707.8 204.5,707.6 203.8,705.9 205.3,705.9 206.2,706.6" fill="#5d4f4b" stroke="#000" stroke-width="1" />
<polygon points="187.4,721.6 188.1,720.9 188.7,721.6 188.7,723.1 187.4,722.6" fill="#5d4f4b" stroke="#000" stroke-width="1" />
<polygon points="207.0,685.7 207.5,685.9 207.3,686.3 206.8,686.9 206.2,686.6 206.2,686.0 206.4,685.4" fill="#5d4f4b" stroke="#000" stroke-width="1" />
<polygon points="226.5,669.1 224.9,670.2 224.2,669.1 223.9,668.1 225.8,667.9" fill="#5d4f4b" stroke="#000" stroke-width="1" />
<polygon points="227.3,679.3 226.3,677.3 228.0,677.1 229.2,678.7" fill="#5d4f4b" stroke="#000" stroke-width="1" />
<polygon points="189.0,716.3 189.9,715.7 190.9,715.1 191.3,715.8 191.6,717.1 190.8,717.2 189.7,717.0" fill="#5d4f4b" stroke="#000" stroke-width="1" />
<polygon points="211.6,678.3 210.7,678.3 209.9,677.9 210.3,676.6 211.1,676.0 212.3,677.1" fill="#5d4f4b" stroke="#000" stroke-width="1" />
<polygon points="218.8,686.2 218.5,685.9 218.6,685.3 219.5,685.2 219.7,686.2" fill="#5d4f4b" stroke="#000" stroke-width="1" />
<polygon points="219.4,672.2 221.2,672.2 220.9,673.6 219.1,674.0 218.3,672.9" fill="#5d4f4b" stroke="#000" stroke-width="1" />
<polygon points="204.8,714.4 204.7,715.4 203.9,715.5 202.7,715.4 203.2,714.4 203.8,713.9" fill="#5d4f4b" stroke="#000" stroke-width="1" />
<polygon points="184.9,720.6 184.6,720.0 184.7,719.6 185.6,719.4 186.3,719.5 186.0,720.3 185.7,721.1" fill="#5d4f4b" stroke="#000" stroke-width="1" />
<polygon points="221.4,686.9 221.8,687.3 221.8,688.0 221.2,687.8 220.7,687.2" fill="#5d4f4b" stroke="#000" stroke-width="1" />
<polygon points="212.7,679.3 211.4,679.6 210.4,679.1 211.0,678.2 212.1,677.8" fill="#5d4f4b" stroke="#000" stroke-width="1" />
<polygon points="208.6,697.4 209.2,697.6 209.2,698.3 208.5,698.2" fill="#5d4f4b" stroke="#000" stroke-width="1" />
<polygon points="205.1,714.1 205.2,713.2 206.0,713.0 207.4,713.3 207.0,714.2 205.8,714.4" fill="#5d4f4b" stroke="#000" stroke-width="1" />
<polygon points="201.9,698.2 202.7,700.2 201.0,700.4 200.8,698.6" fill="#5d4f4b" stroke="#000" stroke-width="1" />
<polygon points="207.8,688.7 206.8,688.2 207.0,687.2 208.2,687.7" fill="#5d4f4b" stroke="#000" stroke-width="1" />
<polygon points="223.8,677.0 223.5,676.7 223.6,675.9 224.0,675.9 224.7,675.9 224.5,676.6 224.4,676.9" fill="#5d4f4b" stroke="#000" stroke-width="1" />
<polygon points="201.9,705.1 202.4,704.6 202.9,705.0 203.2,705.3 203.1,705.8 202.6,706.2 202.0,705.7" fill="#5d4f4b" stroke="#000" stroke-width="1" />
<polygon points="217.3,740.7 218.4,740.8 218.6,742.0 216.9,741.8" fill="#5d4f4b" stroke="#000" stroke-width="1" />
<polygon points="208.4,740.5 208.0,740.9 207.4,740.3 207.6,739.9 207.9,739.7 208.4,739.2 208.4,740.0" fill="#5d4f4b" stroke="#000" stroke-width="1" />
<polygon points="215.8,739.0 215.5,739.7 214.5,740.4 214.0,739.5 213.9,738.8 214.9,738.8" fill="#5d4f4b" stroke="#000" stroke-width="1" />
<polygon points="215.7,738.7 215.6,738.0 216.3,737.3 216.6,738.6" fill="#5d4f4b" stroke="#000" stroke-width="1" />
<polygon points="206.4,736.8 206.3,737.2 205.7,737.4 205.3,736.6 206.1,736.1" fill="#5d4f4b" stroke="#000" stroke-width="1" />
<polygon points="212.4,739.3 211.8,738.7 211.8,738.2 212.1,738.0 212.6,737.9 212.8,738.3 212.8,738.7" fill="#5d4f4b" stroke="#000" stroke-width="1" />
<polygon points="215.2,745.1 214.6,746.3 213.4,745.4 213.6,744.1 215.2,743.4" fill="#5d4f4b" stroke="#000" stroke-width="1" />
<polygon points="214.3,740.8 213.3,740.5 213.0,739.6 213.9,738.6 215.0,738.9 214.7,740.2" fill="#5d4f4b" stroke="#000" stroke-width="1" />
<polygon points="218.8,739.8 219.5,740.1 220.4,741.0 219.4,741.6 218.6,741.4 218.4,740.6" fill="#5d4f4b" stroke="#000" stroke-width="1" />
<polygon points="222.5,749.2 223.7,748.8 224.1,749.3 224.6,750.3 223.5,750.8 222.9,750.0" fill="#5d4f4b" stroke="#000" stroke-width="1" />
<polygon points="221.2,744.6 221.4,745.2 220.6,745.9 219.6,745.0 220.0,744.3 220.3,743.8 221.2,743.6" fill="#5d4f4b" stroke="#000" stroke-width="1" />
<polygon points="216.1,743.3 215.4,743.0 215.8,742.4 216.9,742.5 216.6,743.4" fill="#5d4f4b" stroke="#000" stroke-width="1" />
<polygon points="228.5,749.1 229.4,748.9 229.7,749.9 229.7,750.9 228.7,750.9 228.0,750.5 227.5,749.8" fill="#5d4f4b" stroke="#000" stroke-width="1" />
<polygon points="227.7,749.5 227.4,749.6 227.2,749.0 227.0,748.7 227.4,748.2 227.8,748.3 228.1,748.9" fill="#5d4f4b" stroke="#000" stroke-width="1" />
<polygon points="212.9,740.5 212.8,742.0 211.3,742.4 210.5,741.9 209.7,740.3 211.3,739.5" fill="#5d4f4b" stroke="#000" stroke-width="1" />
<polygon points="218.0,739.7 219.8,739.2 220.3,740.4 219.2,741.4" fill="#5d4f4b" stroke="#000" stroke-width="1" />
<polygon points="220.1,744.2 221.9,744.1 222.2,745.4 220.8,745.8" fill="#5d4f4b" stroke="#000" stroke-width="1" />
<polygon points="229.2,748.4 230.1,749.1 230.4,749.6 230.2,750.2 229.5,750.6 228.3,750.4 229.0,749.3" fill="#5d4f4b" stroke="#000" stroke-width="1" />
<polygon points="207.1,742.5 205.6,741.8 205.6,740.1 207.1,740.5" fill="#5d4f4b" stroke="#000" stroke-width="1" />
<polygon points="206.7,736.0 205.3,735.7 206.2,734.9 207.6,735.4" fill="#5d4f4b" stroke="#000" stroke-width="1" />
<polygon points="189.2,750.7 189.3,749.8 190.1,749.8 190.2,750.6" fill="#5d4f4b" stroke="#000" stroke-width="1" />
<polygon points="163.8,728.7 163.1,729.3 162.5,728.3 163.4,727.7" fill="#5d4f4b" stroke="#000" stroke-width="1" />
<polygon points="170.8,730.9 170.2,731.0 170.0,730.6 169.8,730.2 170.5,730.0 171.1,730.1 171.0,730.6" fill="#5d4f4b" stroke="#000" stroke-width="1" />
<polygon points="157.0,732.9 157.6,733.2 157.6,733.6 157.1,734.0 156.8,733.5" fill="#5d4f4b" stroke="#000" stroke-width="1" />
<polygon points="159.8,745.7 160.1,746.4 159.9,747.0 159.2,746.9 159.1,746.1" fill="#5d4f4b" stroke="#000" stroke-width="1" />
<polygon points="152.9,723.4 153.2,724.6 152.8,726.0 151.7,725.5 150.6,724.8 151.6,723.9" fill="#5d4f4b" stroke="#000" stroke-width="1" />
<polygon points="167.5,753.0 166.8,752.4 167.1,751.5 168.2,751.4 168.3,752.6" fill="#5d4f4b" stroke="#000" stroke-width="1" />
<polygon points="160.2,749.1 158.8,750.0 158.0,750.0 156.9,749.7 156.5,748.9 157.8,748.1 158.8,748.6" fill="#5d4f4b" stroke="#000" stroke-width="1" />
<polygon points="162.2,739.3 161.0,737.8 161.9,736.4 163.5,736.5 163.7,738.4" fill="#5d4f4b" stroke="#000" stroke-width="1" />
<polygon points="161.0,726.6 162.0,726.0 163.0,726.9 162.3,727.8 160.6,727.9" fill="#5d4f4b" stroke="#000" stroke-width="1" />
<polygon points="162.1,750.9 162.9,751.3 163.3,752.2 162.1,752.6 161.3,751.9" fill="#5d4f4b" stroke="#000" stroke-width="1" />
<polygon points="198.4,754.4 197.6,753.1 198.9,752.6 199.3,753.4" fill="#5d4f4b" stroke="#000" stroke-width="1" />
<polygon points="171.3,742.5 169.6,743.2 168.9,741.2 170.9,741.3" fill="#5d4f4b" stroke="#000" stroke-width="1" />
<polygon points="154.2,727.2 153.6,727.1 153.1,726.8 153.1,725.9 154.0,725.9 154.7,726.0" fill="#5d4f4b" stroke="#000" stroke-width="1" />
<polygon points="187.5,743.3 187.9,743.8 187.3,744.4 186.7,743.6" fill="#5d4f4b" stroke="#000" stroke-width="1" />
<polygon points="183.6,755.9 183.3,756.9 182.4,757.4 181.1,756.7 182.0,755.5" fill="#5d4f4b" stroke="#000" stroke-width="1" />
<polygon points="189.3,751.6 188.5,751.0 189.3,750.4 189.7,751.0" fill="#5d4f4b" stroke="#000" stroke-width="1" />
<polygon points="166.5,739.3 166.5,738.0 167.8,737.8 168.5,739.0 167.4,739.9" fill="#5d4f4b" stroke="#000" stroke-width="1" />
<polygon points="163.5,736.2 163.9,735.3 164.7,735.2 165.5,735.7 165.3,736.3 164.3,737.2" fill="#5d4f4b" stroke="#000" stroke-width="1" />
<polygon points="166.1,741.6 166.1,742.3 165.8,742.8 164.8,742.7 164.4,741.8 165.3,741.1" fill="#5d4f4b" stroke="#000" stroke-width="1" />
<polygon points="163.3,743.0 164.1,743.9 163.4,745.0 162.8,744.1" fill="#5d4f4b" stroke="#000" stroke-width="1" />
<polygon points="185.3,740.8 185.7,739.1 187.3,738.8 188.3,740.0 187.0,741.3" fill="#5d4f4b" stroke="#000" stroke-width="1" />
<polygon points="173.7,734.4 173.0,733.4 173.9,732.8 175.0,732.7 176.0,733.2 175.2,734.1 174.6,735.2" fill="#5d4f4b" stroke="#000" stroke-width="1" />
<polygon points="165.6,754.1 166.4,753.4 167.1,753.8 167.5,754.4 167.0,755.1 166.1,754.6" fill="#5d4f4b" stroke="#000" stroke-width="1" />
<polygon points="174.9,735.8 174.7,737.0 173.6,737.3 172.8,736.6 173.5,735.7" fill="#5d4f4b" stroke="#000" stroke-width="1" />
<polygon points="160.0,733.0 160.1,731.8 160.9,731.4 161.7,732.5 160.7,733.5" fill="#5d4f4b" stroke="#000" stroke-width="1" />
<polygon points="183.9,754.7 185.2,754.2 185.3,755.5 184.3,756.1" fill="#5d4f4b" stroke="#000" stroke-width="1" />
<polygon points="185.4,736.8 186.0,735.9 186.6,736.5 186.5,737.3 185.7,737.5" fill="#5d4f4b" stroke="#000" stroke-width="1" />
<polygon points="166.0,731.6 165.9,732.3 165.3,732.2 165.1,731.5" fill="#5d4f4b" stroke="#000" stroke-width="1" />
<polygon points="154.7,724.2 153.7,725.0 152.8,724.2 153.2,723.2 154.1,723.1" fill="#5d4f4b" stroke="#000" stroke-width="1" />
<polygon points="164.9,736.7 165.3,735.1 166.1,735.3 166.8,736.1 166.2,737.0" fill="#5d4f4b" stroke="#000" stroke-width="1" />
<polygon points="172.5,734.5 171.7,733.6 173.1,733.2 174.0,733.5 173.8,734.7 173.2,734.9" fill="#5d4f4b" stroke="#000" stroke-width="1" />
<polygon points="166.7,752.2 167.0,751.8 167.5,751.3 168.0,751.7 168.1,752.2 167.8,752.7 167.0,752.9" fill="#5d4f4b" stroke="#000" stroke-width="1" />
<polygon points="186.2,738.4 186.0,736.9 187.6,736.2 189.0,737.9 187.6,739.4" fill="#5d4f4b" stroke="#000" stroke-width="1" />
<polygon points="160.0,721.7 161.3,722.4 160.5,723.8 158.9,723.1 158.7,722.2" fill="#5d4f4b" stroke="#000" stroke-width="1" />
<polygon points="167.6,752.0 167.6,750.9 168.6,750.7 169.0,750.8 169.5,751.7 168.7,752.4" fill="#5d4f4b" stroke="#000" stroke-width="1" />
<polygon points="195.4,747.2 196.0,747.1 196.2,748.1 195.3,748.1" fill="#5d4f4b" stroke="#000" stroke-width="1" />
<polygon points="164.4,738.8 165.1,738.8 165.9,739.6 165.9,740.5 164.9,741.3 164.1,740.3 164.1,739.7" fill="#5d4f4b" stroke="#000" stroke-width="1" />
<polygon points="173.1,754.9 172.7,755.5 171.8,755.7 171.4,755.3 171.2,754.4 171.9,754.0 172.7,754.4" fill="#5d4f4b" stroke="#000" stroke-width="1" />
<polygon points="192.1,751.1 193.3,752.0 193.2,753.0 192.5,753.6 191.6,753.1 191.0,752.6 191.4,751.8" fill="#5d4f4b" stroke="#000" stroke-width="1" />
<polygon points="159.2,746.2 159.9,746.8 160.3,747.9 158.9,748.5 158.5,747.4" fill="#5d4f4b" stroke="#000" stroke-width="1" />
<polygon points="157.2,736.4 158.7,736.5 159.3,737.3 158.5,738.0 157.4,737.9" fill="#5d4f4b" stroke="#000" stroke-width="1" />
<polygon points="157.7,734.2 157.0,734.0 157.2,732.9 158.1,732.6 158.6,733.4 158.8,734.3" fill="#5d4f4b" stroke="#000" stroke-width="1" />
<polygon points="168.0,742.9 168.7,743.2 169.2,744.0 169.4,745.0 167.8,745.3 167.7,744.2" fill="#5d4f4b" stroke="#000" stroke-width="1" />
<polygon points="169.6,745.0 169.2,744.3 169.6,743.8 170.3,743.4 171.0,744.1 170.6,745.2" fill="#5d4f4b" stroke="#000" stroke-width="1" />
<polygon points="180.6,739.7 181.2,739.5 181.8,739.7 181.9,740.5 181.1,740.5 180.6,740.1" fill="#5d4f4b" stroke="#000" stroke-width="1" />
<polygon points="188.0,753.0 187.4,752.1 187.9,751.0 189.2,751.1 188.8,752.4" fill="#5d4f4b" stroke="#000" stroke-width="1" />
<polygon points="177.2,742.4 177.7,741.5 178.7,741.9 178.7,742.7 178.0,743.3" fill="#5d4f4b" stroke="#000" stroke-width="1" />
<polygon points="190.2,742.4 190.7,741.4 191.4,741.8 192.2,742.2 191.5,743.1 190.9,743.2" fill="#5d4f4b" stroke="#000" stroke-width="1" />
<polygon points="176.3,742.5 175.8,741.8 175.7,740.7 176.0,740.4 177.0,740.1 177.1,740.9 177.2,741.9" fill="#5d4f4b" stroke="#000" stroke-width="1" />
<polygon points="96.9,752.9 95.9,753.9 95.4,752.7 96.0,751.9" fill="#5d4f4b" stroke="#000" stroke-width="1" />
<polygon points="92.2,747.5 92.3,748.5 91.1,748.9 90.1,748.4 90.4,747.4 91.3,746.8" fill="#5d4f4b" stroke="#000" stroke-width="1" />
<polygon points="94.8,745.8 95.5,745.8 95.5,746.5 95.1,746.7 94.3,746.5" fill="#5d4f4b" stroke="#000" stroke-width="1" />
<polygon points="92.3,743.0 91.4,742.9 91.9,742.3 92.7,742.5" fill="#5d4f4b" stroke="#000" stroke-width="1" />
<polygon points="94.4,754.1 93.8,753.9 93.5,753.4 93.6,752.7 94.2,752.5 94.7,752.8 95.0,753.4" fill="#5d4f4b" stroke="#000" stroke-width="1" />
<polygon points="101.4,752.8 101.5,754.0 100.2,754.0 99.7,753.0 100.4,752.0" fill="#5d4f4b" stroke="#000" stroke-width="1" />
<polygon points="96.7,748.9 95.7,749.1 95.2,747.9 96.1,747.2 96.8,747.8" fill="#5d4f4b" stroke="#000" stroke-width="1" />
<polygon points="96.1,744.4 96.9,744.1 97.8,744.7 98.1,745.2 97.3,745.5 96.6,745.6 96.3,745.3" fill="#5d4f4b" stroke="#000" stroke-width="1" />
<polygon points="91.9,752.6 91.4,754.0 90.6,753.2 90.9,751.6" fill="#5d4f4b" stroke="#000" stroke-width="1" />
<polygon points="96.7,753.2 96.6,754.1 96.0,754.7 95.6,754.5 95.0,754.0 95.4,753.3 96.0,752.9" fill="#5d4f4b" stroke="#000" stroke-width="1" />
<polygon points="93.0,753.2 93.6,752.7 94.5,753.0 94.8,753.4 94.6,754.5 93.7,754.7 93.3,754.0" fill="#5d4f4b" stroke="#000" stroke-width="1" />
<polygon points="82.7,752.1 81.5,751.3 81.4,750.2 82.3,749.5 83.5,749.1 83.8,750.3 83.4,751.1" fill="#5d4f4b" stroke="#000" stroke-width="1" />
<polygon points="72.8,744.6 72.5,744.1 73.2,743.3 73.9,743.4 74.8,744.0 74.2,744.6 73.6,745.1" fill="#5d4f4b" stroke="#000" stroke-width="1" />
<polygon points="103.5,746.1 104.3,747.8 102.5,748.2 102.0,747.0" fill="#5d4f4b" stroke="#000" stroke-width="1" />
<polygon points="80.2,745.7 81.7,745.5 81.7,747.4 80.8,748.0 79.5,746.8" fill="#5d4f4b" stroke="#000" stroke-width="1" />
<polygon points="99.9,749.0 100.7,749.5 100.4,750.2 99.6,750.6 99.3,749.5" fill="#5d4f4b" stroke="#000" stroke-width="1" />
<polygon points="77.8,742.7 78.4,741.5 79.3,741.3 80.2,742.5 79.8,743.2 78.4,743.6" fill="#5d4f4b" stroke="#000" stroke-width="1" />
<polygon points="89.2,749.7 88.8,750.2 88.1,750.5 87.5,750.5 87.6,749.6 87.7,749.3 88.6,749.2" fill="#5d4f4b" stroke="#000" stroke-width="1" />
<polygon points="79.7,749.9 80.9,749.0 81.9,749.8 81.7,751.2 81.0,752.2 80.3,751.5" fill="#5d4f4b" stroke="#000" stroke-width="1" />
<polygon points="82.9,745.3 83.8,745.6 83.3,746.4 82.5,746.4 81.9,745.5" fill="#5d4f4b" stroke="#000" stroke-width="1" />
<polygon points="90.6,743.2 91.0,743.9 90.5,744.5 90.2,743.8" fill="#5d4f4b" stroke="#000" stroke-width="1" />
<polygon points="71.4,745.3 71.3,746.8 69.2,746.2 70.2,744.5" fill="#5d4f4b" stroke="#000" stroke-width="1" />
<polygon points="97.8,744.2 98.1,744.4 98.3,744.9 97.9,745.2 97.4,745.2 97.1,744.9 97.3,744.3" fill="#5d4f4b" stroke="#000" stroke-width="1" />
<polygon points="86.4,749.9 87.2,749.9 87.4,751.1 86.8,751.7 86.2,751.2" fill="#5d4f4b" stroke="#000" stroke-width="1" />
<polygon points="80.6,741.0 81.4,739.8 82.7,739.8 83.5,741.3 82.2,742.0 81.3,742.4" fill="#5d4f4b" stroke="#000" stroke-width="1" />
<polygon points="92.9,740.0 92.7,742.0 90.9,741.9 90.9,740.2" fill="#5d4f4b" stroke="#000" stroke-width="1" />
<polygon points="94.0,751.5 95.0,751.9 95.2,752.4 94.6,753.2 94.0,753.2 93.0,752.9 92.9,752.1" fill="#5d4f4b" stroke="#000" stroke-width="1" />
<polygon points="97.0,747.3 98.3,746.3 99.0,747.6 98.1,748.6" fill="#5d4f4b" stroke="#000" stroke-width="1" />
<polygon points="91.8,744.4 91.9,743.3 93.0,742.8 93.5,743.9 93.8,744.6 92.3,745.6" fill="#5d4f4b" stroke="#000" stroke-width="1" />
<polygon points="100.1,747.1 100.9,747.7 100.5,748.2 99.6,748.6 98.9,747.8 99.5,747.3" fill="#5d4f4b" stroke="#000" stroke-width="1" />
<polygon points="86.1,745.5 87.7,745.3 88.1,747.2 87.0,748.1 85.7,747.0" fill="#5d4f4b" stroke="#000" stroke-width="1" />
<polygon points="81.7,745.9 80.8,745.6 80.0,744.8 81.1,744.3 82.4,744.3 82.9,745.4" fill="#5d4f4b" stroke="#000" stroke-width="1" />
<polygon points="97.5,752.6 98.1,752.5 98.1,753.3 97.6,753.4 97.2,752.9" fill="#5d4f4b" stroke="#000" stroke-width="1" />
<polygon points="99.2,754.3 99.4,755.2 98.9,755.5 98.3,755.9 97.3,755.2 97.6,754.3 98.5,754.1" fill="#5d4f4b" stroke="#000" stroke-width="1" />
<polygon points="85.8,750.7 84.0,750.2 84.3,749.0 86.3,748.6" fill="#5d4f4b" stroke="#000" stroke-width="1" />
<polygon points="84.9,750.4 84.4,750.9 83.8,750.2 83.8,749.5 84.7,749.3 85.3,749.9" fill="#5d4f4b" stroke="#000" stroke-width="1" />
<polygon points="80.6,750.1 80.4,749.0 81.4,748.8 81.7,749.8 81.8,750.7 80.8,750.6" fill="#5d4f4b" stroke="#000" stroke-width="1" />
<polygon points="86.4,742.5 87.5,742.1 88.2,743.1 88.1,744.2 86.4,744.8 86.2,743.2" fill="#5d4f4b" stroke="#000" stroke-width="1" />
<polygon points="88.0,750.7 89.5,750.6 89.3,752.6 88.1,752.8 87.2,751.8" fill="#5d4f4b" stroke="#000" stroke-width="1" />
<polygon points="84.2,753.1 84.8,751.1 86.3,751.8 86.2,753.8" fill="#5d4f4b" stroke="#000" stroke-width="1" />
<polygon points="89.6,754.7 90.5,753.0 92.0,753.7 91.4,755.2" fill="#5d4f4b" stroke="#000" stroke-width="1" />
<polygon points="93.2,740.2 94.6,739.9 95.5,741.0 95.2,742.3 93.8,742.7 92.9,741.4" fill="#5d4f4b" stroke="#000" stroke-width="1" />
<polygon points="97.2,744.1 96.6,743.6 96.2,742.8 97.5,742.5 97.8,743.3" fill="#5d4f4b" stroke="#000" stroke-width="1" />
<polygon points="88.9,746.0 88.5,745.3 88.8,744.6 89.4,744.9 90.0,745.5 89.4,745.9" fill="#5d4f4b" stroke="#000" stroke-width="1" />
<polygon points="76.2,749.9 75.6,749.3 76.0,748.6 76.7,748.2 77.2,749.0 77.0,750.0" fill="#5d4f4b" stroke="#000" stroke-width="1" />
<polygon points="115.4,746.3 116.5,746.8 116.9,747.6 116.4,748.2 115.3,748.5 114.9,747.5" fill="#5d4f4b" stroke="#000" stroke-width="1" />
<polygon points="129.5,754.9 128.6,754.5 128.3,753.6 129.0,752.4 130.0,753.6" fill="#5d4f4b" stroke="#000" stroke-width="1" />
<polygon points="135.3,756.6 133.8,756.7 133.7,755.1 135.0,755.2" fill="#5d4f4b" stroke="#000" stroke-width="1" />
<polygon points="140.9,756.1 140.4,757.0 139.2,757.0 138.7,756.2 139.2,755.1 140.3,755.3" fill="#5d4f4b" stroke="#000" stroke-width="1" />
<polygon points="122.3,753.8 121.8,754.5 121.1,755.1 120.6,754.1 121.2,753.1" fill="#5d4f4b" stroke="#000" stroke-width="1" />
<polygon points="139.7,750.7 138.7,750.3 139.1,749.0 140.1,748.6 141.0,749.9" fill="#5d4f4b" stroke="#000" stroke-width="1" />
<polygon points="135.9,752.3 136.1,752.0 136.7,752.1 137.0,752.3 136.9,752.8 136.3,753.2 135.9,752.7" fill="#5d4f4b" stroke="#000" stroke-width="1" />
<polygon points="129.1,753.0 129.2,752.3 130.1,752.6 129.9,753.5" fill="#5d4f4b" stroke="#000" stroke-width="1" />
<polygon points="119.2,746.1 118.4,744.9 119.9,744.6 120.4,745.7" fill="#5d4f4b" stroke="#000" stroke-width="1" />
<polygon points="130.2,743.4 129.3,743.8 128.4,742.9 128.7,742.3 129.7,742.1 130.2,742.5" fill="#5d4f4b" stroke="#000" stroke-width="1" />
<polygon points="131.5,753.1 132.1,753.3 132.0,754.0 131.9,754.8 131.3,754.9 130.8,754.2 131.3,753.7" fill="#5d4f4b" stroke="#000" stroke-width="1" />
<polygon points="123.3,751.1 122.2,749.5 123.6,748.3 124.7,749.7" fill="#5d4f4b" stroke="#000" stroke-width="1" />
<polygon points="126.9,755.1 125.9,754.5 126.7,753.7 127.7,753.2 128.5,754.1 128.1,754.9" fill="#5d4f4b" stroke="#000" stroke-width="1" />
<polygon points="147.0,750.1 146.6,751.1 145.5,751.1 145.3,750.2 145.6,749.3 146.5,749.1" fill="#5d4f4b" stroke="#000" stroke-width="1" />
<polygon points="125.9,755.0 126.9,754.8 127.9,754.3 127.9,755.4 128.0,756.2 126.9,756.9 126.2,756.2" fill="#5d4f4b" stroke="#000" stroke-width="1" />
<polygon points="122.6,744.2 122.8,743.2 124.1,743.4 123.5,744.2" fill="#5d4f4b" stroke="#000" stroke-width="1" />
<polygon points="135.6,749.4 134.0,749.6 134.0,748.3 135.1,747.6 136.3,748.3" fill="#5d4f4b" stroke="#000" stroke-width="1" />
<polygon points="125.9,747.9 125.2,748.7 124.7,748.6 124.3,747.7 124.4,747.0 125.1,746.9 125.8,747.1" fill="#5d4f4b" stroke="#000" stroke-width="1" />
<polygon points="123.1,751.8 123.6,751.6 124.0,752.2 123.8,752.6 123.3,753.1 123.0,752.6 123.0,752.0" fill="#5d4f4b" stroke="#000" stroke-width="1" />
<polygon points="127.4,754.7 128.0,753.7 129.2,753.4 130.2,753.5 130.6,754.8 129.6,755.6 128.6,755.3" fill="#5d4f4b" stroke="#000" stroke-width="1" />
<polygon points="135.2,743.7 136.0,743.1 136.7,743.8 135.9,744.1" fill="#5d4f4b" stroke="#000" stroke-width="1" />
<polygon points="127.8,746.4 128.7,746.9 127.8,747.4 126.8,746.8" fill="#5d4f4b" stroke="#000" stroke-width="1" />
<polygon points="129.6,746.5 128.9,747.9 127.9,747.6 127.2,747.0 127.5,745.8 128.5,745.6" fill="#5d4f4b" stroke="#000" stroke-width="1" />
<polygon points="134.0,743.8 134.1,742.8 135.4,742.7 135.8,743.7 135.5,744.9 134.3,744.7" fill="#5d4f4b" stroke="#000" stroke-width="1" />
<polygon points="138.0,743.5 138.1,744.7 137.1,745.6 135.9,745.0 135.7,744.0 136.6,742.9" fill="#5d4f4b" stroke="#000" stroke-width="1" />
<polygon points="130.5,749.5 131.0,748.6 131.6,749.3 131.5,749.9 130.8,750.1" fill="#5d4f4b" stroke="#000" stroke-width="1" />
<polygon points="144.1,745.4 144.2,746.7 142.8,747.2 141.5,746.0 142.9,744.8" fill="#5d4f4b" stroke="#000" stroke-width="1" />
<polygon points="133.2,748.8 132.9,750.0 132.1,750.2 131.0,749.9 130.9,749.1 132.2,748.0" fill="#5d4f4b" stroke="#000" stroke-width="1" />
<polygon points="134.1,749.9 133.5,749.3 132.5,748.8 132.5,747.8 133.7,747.3 134.8,747.5 135.1,748.7" fill="#5d4f4b" stroke="#000" stroke-width="1" />
<polygon points="126.3,743.1 126.6,743.0 127.2,743.8 126.5,744.5 125.8,743.9 125.5,743.6 125.9,742.8" fill="#5d4f4b" stroke="#000" stroke-width="1" />
<polygon points="130.0,753.4 129.9,753.9 129.2,753.9 128.9,753.1 129.5,752.8 130.3,752.8" fill="#5d4f4b" stroke="#000" stroke-width="1" />
<polygon points="125.0,750.3 124.5,751.2 123.8,750.7 124.2,750.0" fill="#5d4f4b" stroke="#000" stroke-width="1" />
<polygon points="134.5,749.3 133.6,748.6 133.8,747.7 135.4,747.6 136.0,748.9" fill="#5d4f4b" stroke="#000" stroke-width="1" />
<polygon points="136.3,741.9 136.9,742.8 135.7,743.1 135.6,742.3" fill="#5d4f4b" stroke="#000" stroke-width="1" />
<polygon points="138.5,742.4 139.4,743.6 139.9,744.7 138.9,745.8 137.3,744.8 137.2,743.9" fill="#5d4f4b" stroke="#000" stroke-width="1" />
<polygon points="144.1,749.5 143.0,749.8 142.9,748.7 143.0,747.7 144.0,747.8 144.4,748.4" fill="#5d4f4b" stroke="#000" stroke-width="1" />
<polygon points="127.8,743.2 127.6,742.1 128.6,741.9 129.1,743.0 128.4,743.5" fill="#5d4f4b" stroke="#000" stroke-width="1" />
<polygon points="116.1,749.6 115.5,749.3 115.2,748.1 116.3,747.1 116.9,748.5 117.1,749.7" fill="#5d4f4b" stroke="#000" stroke-width="1" />
<polygon points="136.8,756.4 137.9,755.9 138.7,755.6 139.5,756.7 138.4,757.9 137.6,757.4" fill="#5d4f4b" stroke="#000" stroke-width="1" />
<polygon points="115.2,747.4 116.0,746.3 116.9,746.8 117.8,747.9 116.9,748.6 115.6,748.1" fill="#5d4f4b" stroke="#000" stroke-width="1" />
<polygon points="134.5,746.4 133.4,747.6 132.0,746.6 131.8,745.6 132.8,745.0 133.7,745.1 134.7,745.7" fill="#5d4f4b" stroke="#000" stroke-width="1" />
<polygon points="120.6,746.2 118.9,746.2 118.9,744.4 120.8,744.3" fill="#5d4f4b" stroke="#000" stroke-width="1" />
<polygon points="131.3,749.3 130.5,749.9 130.1,748.7 130.1,747.5 131.4,747.7 132.4,748.3" fill="#5d4f4b" stroke="#000" stroke-width="1" />
<polygon points="132.9,742.2 131.4,741.9 131.6,740.7 133.6,740.8" fill="#5d4f4b" stroke="#000" stroke-width="1" />
<polygon points="122.1,746.4 123.7,747.1 122.9,748.5 121.1,748.3 121.3,747.1" fill="#5d4f4b" stroke="#000" stroke-width="1" />
<polygon points="202.8,665.7 204.0,666.1 203.2,667.2 202.3,666.5" fill="#5d4f4b" stroke="#000" stroke-width="1" />
<polygon points="204.5,665.0 204.4,664.7 204.4,664.0 205.1,663.9 205.4,664.6 205.2,665.1" fill="#5d4f4b" stroke="#000" stroke-width="1" />
<polygon points="198.7,664.9 199.3,665.7 198.1,666.3 197.7,665.4 198.1,664.3" fill="#5d4f4b" stroke="#000" stroke-width="1" />
<polygon points="796.7,573.3 797.6,572.6 798.6,573.0 799.3,574.0 798.1,574.6 797.1,574.7 796.5,574.4" fill="#5d4f4b" stroke="#000" stroke-width="1" />
<polygon points="800.9,575.5 799.7,576.4 798.8,575.1 800.0,574.6" fill="#5d4f4b" stroke="#000" stroke-width="1" />
<polygon points="801.2,573.7 801.9,573.0 802.5,572.3 803.2,573.3 802.9,573.9 802.5,574.8 801.9,574.7" fill="#5d4f4b" stroke="#000" stroke-width="1" />
<polygon points="800.4,563.4 799.6,564.4 798.9,563.9 798.8,562.8 799.4,562.6 800.0,562.7" fill="#5d4f4b" stroke="#000" stroke-width="1" />
<polygon points="800.2,597.9 800.1,598.6 799.4,598.6 799.2,598.2 799.3,597.6 799.8,597.4" fill="#5d4f4b" stroke="#000" stroke-width="1" />
<polygon points="799.3,587.2 798.0,587.4 797.2,586.7 797.5,585.6 798.7,585.6" fill="#5d4f4b" stroke="#000" stroke-width="1" />
<polygon points="803.4,562.2 802.3,560.7 803.3,559.1 804.6,558.9 804.8,560.4 805.0,561.6" fill="#5d4f4b" stroke="#000" stroke-width="1" />
<polygon points="803.7,612.2 804.5,611.8 805.2,611.1 806.1,612.2 805.7,613.2 805.0,613.1 804.4,613.4" fill="#5d4f4b" stroke="#000" stroke-width="1" />
<polygon points="797.9,594.0 798.5,593.4 799.6,593.6 799.8,594.2 799.3,595.1 798.1,595.1" fill="#5d4f4b" stroke="#000" stroke-width="1" />
<polygon points="800.1,572.9 799.0,571.4 800.5,570.4 801.3,572.3" fill="#5d4f4b" stroke="#000" stroke-width="1" />
<polygon points="797.1,583.4 797.8,583.5 798.0,584.0 798.3,584.9 797.5,584.8 796.8,584.9 797.0,584.1" fill="#5d4f4b" stroke="#000" stroke-width="1" />
<polygon points="799.7,631.5 799.0,630.4 799.3,629.5 800.0,628.9 801.1,629.2 801.4,630.2 800.6,631.2" fill="#5d4f4b" stroke="#000" stroke-width="1" />
<polygon points="803.5,601.2 804.6,600.8 805.0,601.5 805.3,602.4 804.2,603.3 803.3,602.1" fill="#5d4f4b" stroke="#000" stroke-width="1" />
<polygon points="797.0,602.4 797.7,602.1 798.3,602.8 797.5,603.1 796.8,603.1" fill="#5d4f4b" stroke="#000" stroke-width="1" />
<polygon points="799.9,587.8 799.9,587.3 800.5,586.9 801.1,587.2 801.0,587.7 800.8,588.0 800.4,588.5" fill="#5d4f4b" stroke="#000" stroke-width="1" />
<polygon points="797.7,585.3 796.8,585.1 797.1,584.4 798.0,584.4 798.2,584.9" fill="#5d4f4b" stroke="#000" stroke-width="1" />
<polygon points="799.4,581.6 798.9,582.3 798.2,582.0 798.1,580.9 799.1,580.6" fill="#5d4f4b" stroke="#000" stroke-width="1" />
<polygon points="799.4,624.2 800.3,624.1 800.9,624.5 800.4,625.2 799.8,624.8" fill="#5d4f4b" stroke="#000" stroke-width="1" />
<polygon points="796.6,636.3 795.2,635.6 795.5,634.1 797.0,634.7" fill="#5d4f4b" stroke="#000" stroke-width="1" />
<polygon points="799.8,648.2 799.5,647.8 799.7,647.3 800.5,647.1 800.5,648.0" fill="#5d4f4b" stroke="#000" stroke-width="1" />
<polygon points="801.5,598.6 801.5,599.3 800.9,599.4 800.5,599.0 800.8,598.3 801.2,598.4" fill="#5d4f4b" stroke="#000" stroke-width="1" />
<polygon points="802.1,648.9 801.5,648.3 801.7,647.5 802.1,647.5 802.5,647.6 802.9,648.2" fill="#5d4f4b" stroke="#000" stroke-width="1" />
<polygon points="804.3,606.2 803.1,605.6 803.1,604.6 804.1,604.2 805.3,605.1" fill="#5d4f4b" stroke="#000" stroke-width="1" />
<polygon points="800.0,617.3 801.5,617.1 802.0,618.1 802.1,619.3 801.3,620.2 800.1,619.6 800.1,618.5" fill="#5d4f4b" stroke="#000" stroke-width="1" />
<polygon points="805.8,640.7 806.4,641.7 806.1,642.7 805.0,642.6 804.7,641.5" fill="#5d4f4b" stroke="#000" stroke-width="1" />
<polygon points="798.6,603.5 798.4,605.0 797.5,605.0 796.7,604.0 797.7,602.9" fill="#5d4f4b" stroke="#000" stroke-width="1" />
<polygon points="801.3,628.0 800.9,629.4 799.3,629.4 799.5,628.4" fill="#5d4f4b" stroke="#000" stroke-width="1" />
<polygon points="800.3,576.3 800.2,575.7 800.7,575.4 801.1,575.3 801.5,576.0 800.9,576.2" fill="#5d4f4b" stroke="#000" stroke-width="1" />
<polygon points="804.8,650.0 804.3,649.0 805.1,648.5 805.7,648.7 805.9,649.2 805.6,649.9" fill="#5d4f4b" stroke="#000" stroke-width="1" />
<polygon points="796.0,569.1 794.0,568.0 795.2,566.1 796.9,567.3" fill="#5d4f4b" stroke="#000" stroke-width="1" />
<polygon points="798.1,577.6 798.8,576.7 799.4,577.0 799.7,577.7 799.7,578.9 798.9,579.0 797.9,578.5" fill="#5d4f4b" stroke="#000" stroke-width="1" />
<polygon points="800.3,590.3 800.1,590.8 799.2,590.7 799.2,590.0 799.4,589.2 800.0,589.3 800.6,589.7" fill="#5d4f4b" stroke="#000" stroke-width="1" />
<polygon points="803.8,576.8 803.5,578.0 802.9,578.6 801.9,578.3 801.2,577.5 801.8,576.3 802.9,576.6" fill="#5d4f4b" stroke="#000" stroke-width="1" />
<polygon points="803.3,591.1 804.7,591.5 803.9,592.5 802.8,592.2" fill="#5d4f4b" stroke="#000" stroke-width="1" />
<polygon points="800.2,566.2 801.3,567.2 801.2,568.1 800.1,568.9 799.3,567.8 799.3,567.0" fill="#5d4f4b" stroke="#000" stroke-width="1" />
<polygon points="798.0,619.6 798.5,620.8 796.8,620.7 797.1,619.7" fill="#5d4f4b" stroke="#000" stroke-width="1" />
<polygon points="801.1,598.1 800.6,597.5 801.4,596.9 802.3,597.2 802.5,597.6 802.8,598.7 801.6,598.7" fill="#5d4f4b" stroke="#000" stroke-width="1" />
<polygon points="805.5,617.7 806.3,618.9 806.0,620.1 805.1,620.2 803.9,619.9 804.3,618.9 804.4,617.8" fill="#5d4f4b" stroke="#000" stroke-width="1" />
<polygon points="803.5,586.4 803.2,585.5 804.2,585.6 804.9,585.7 805.2,586.5 804.5,587.1 803.8,586.8" fill="#5d4f4b" stroke="#000" stroke-width="1" />
<polygon points="804.0,573.2 802.8,573.7 802.4,572.5 803.7,572.2" fill="#5d4f4b" stroke="#000" stroke-width="1" />
<polygon points="801.0,568.1 799.6,567.9 800.3,567.0 800.9,565.8 801.9,566.6 801.8,568.0" fill="#5d4f4b" stroke="#000" stroke-width="1" />
<polygon points="806.6,606.6 804.5,606.1 805.2,603.8 807.2,604.3" fill="#5d4f4b" stroke="#000" stroke-width="1" />
<polygon points="799.3,648.3 798.7,648.0 797.8,647.4 798.6,646.6 799.1,646.6 799.7,646.5 800.0,647.4" fill="#5d4f4b" stroke="#000" stroke-width="1" />
<polygon points="795.2,586.8 794.4,586.7 793.7,585.8 795.3,585.7" fill="#5d4f4b" stroke="#000" stroke-width="1" />
<polygon points="795.9,609.0 796.7,607.6 798.4,608.1 797.3,609.9" fill="#5d4f4b" stroke="#000" stroke-width="1" />
<polygon points="796.6,615.9 797.2,616.3 797.2,617.0 796.0,617.3 796.0,616.5" fill="#5d4f4b" stroke="#000" stroke-width="1" />
<polygon points="797.1,627.1 796.7,627.5 796.5,626.8 796.6,626.1 797.3,626.5" fill="#5d4f4b" stroke="#000" stroke-width="1" />
<polygon points="800.2,562.6 801.0,561.2 802.4,562.2 801.4,563.4" fill="#5d4f4b" stroke="#000" stroke-width="1" />
<polygon points="796.2,576.0 796.0,575.3 796.9,575.0 797.1,576.0" fill="#5d4f4b" stroke="#000" stroke-width="1" />
<polygon points="797.4,591.4 798.2,591.7 797.6,592.4 797.2,592.6 796.4,592.4 796.4,591.9 796.9,591.4" fill="#5d4f4b" stroke="#000" stroke-width="1" />
<polygon points="299.5,59.1 305.4,56.2 311.3,56.2 314.2,59.1 315.2,65.0 320.1,70.0 324.1,71.9 324.0,74.9 320.0,75.9 319.2,80.8 321.1,86.7 318.2,88.7 315.2,84.7 314.2,76.8 311.3,69.0 309.3,61.1 305.4,60.1 302.4,63.1 299.5,61.1" fill="#284767" stroke="none" stroke-width="1" />
<polygon points="368.0,259.0 372.0,257.5 377.0,259.0 382.0,262.0 388.0,265.0 393.0,270.0 396.0,275.0 394.0,276.5 389.0,272.0 384.0,268.0 379.0,265.0 374.0,263.0 369.0,261.5" fill="#284767" stroke="none" stroke-width="1" />
<polygon points="605.0,287.0 608.0,284.5 609.0,289.0 612.0,287.0 614.0,290.0 612.0,293.0 617.0,291.0 620.0,289.0 621.0,292.0 625.0,293.0 622.0,296.0 618.0,298.0 616.0,302.0 612.0,305.0 609.0,309.0 606.0,312.0 603.0,311.0 605.0,306.0 608.0,302.0 607.0,297.0 604.0,294.0" fill="#284767" stroke="none" stroke-width="1" />
<polygon points="423.5,413.0 425.5,413.0 426.0,418.0 427.5,422.0 429.0,426.0 431.5,428.5 431.5,433.0 429.5,434.5 428.0,431.0 426.0,428.0 424.5,423.0 424.0,418.0" fill="#284767" stroke="none" stroke-width="1" />
<polygon points="526.0,502.0 528.0,501.5 530.0,507.0 533.0,505.0 534.0,510.0 532.0,516.0 531.5,523.0 536.0,526.0 533.0,530.0 534.0,536.0 531.0,538.5 528.0,535.0 526.5,531.0 528.0,525.0 526.0,518.0 527.5,511.0" fill="#284767" stroke="none" stroke-width="1" />
<polygon points="540.0,600.0 542.0,600.0 543.0,606.0 547.0,610.0 552.0,606.0 553.0,603.0 555.0,604.0 554.0,610.0 560.0,609.0 563.5,610.0 563.0,613.0 557.0,614.0 553.0,617.0 549.0,620.0 544.0,619.0 541.0,616.0 541.5,611.0" fill="#284767" stroke="none" stroke-width="1" />
<polygon points="460.0,363.0 462.0,361.5 464.0,365.0 466.0,366.5 464.0,371.0 462.0,373.0 458.0,379.0 455.5,380.0 455.0,377.0 457.0,373.0 459.0,369.0" fill="#284767" stroke="none" stroke-width="1" />
<polygon points="42.0,681.0 46.0,680.0 50.0,684.0 51.0,689.0 47.0,690.0 43.0,687.0" fill="#284767" stroke="none" stroke-width="1" />
<polygon points="57.0,686.0 60.0,684.0 62.0,690.0 66.0,697.0 70.0,701.0 76.0,703.0 82.0,704.0 85.0,707.0 84.0,711.0 78.0,710.0 72.0,707.0 66.0,705.0 62.0,700.0 58.0,694.0" fill="#284767" stroke="none" stroke-width="1" />
<polygon points="122.0,659.0 126.0,653.0 131.0,652.0 135.0,656.0 136.0,662.0 132.0,667.0 126.0,668.0 122.0,664.0" fill="#284767" stroke="none" stroke-width="1" />
<polygon points="141.0,698.0 146.0,695.0 152.0,697.0 154.0,703.0 152.0,710.0 147.0,714.0 142.0,712.0 139.0,706.0" fill="#284767" stroke="none" stroke-width="1" />
<polygon points="784.5,733.0 789.0,735.0 793.0,741.0 796.0,746.0 795.0,752.0 791.0,755.0 787.0,750.0 785.0,742.0" fill="#284767" stroke="none" stroke-width="1" />
<polygon points="770.0,796.0 776.0,794.0 780.0,796.0 779.0,800.0 772.0,801.0" fill="#284767" stroke="none" stroke-width="1" />
<polyline points="181.2,6.0 191.0,17.7 198.0,33.5 200.0,43.3 200.5,69.0 200.0,86.7 198.0,96.5 193.0,106.4 187.0,116.0 184.0,128.0 178.3,141.9 174.3,151.7 172.4,160.0 166.0,172.0 160.0,180.0 153.0,192.0 150.0,197.0 152.0,208.0 157.0,218.0 163.0,225.0" fill="none" stroke="#86700f" stroke-width="1" />
<polyline points="240.3,6.0 232.5,13.8 228.5,21.7 228.1,39.4 226.6,51.2 224.6,59.1 216.7,67.0 201.9,70.9" fill="none" stroke="#86700f" stroke-width="1" />
<polyline points="240.3,6.0 248.2,17.7 256.1,27.6 262.0,37.4 264.0,49.3 267.9,55.2 277.8,60.1 289.6,61.1 297.5,55.2 303.4,53.2 315.2,57.1 323.1,61.1 330.5,66.5 338.0,74.0 350.0,86.0 365.0,100.0 380.0,112.0 395.0,122.0 408.0,132.0 417.0,140.0" fill="none" stroke="#86700f" stroke-width="1" />
<polyline points="6.0,257.0 37.0,256.0 60.0,251.0 84.0,245.6 111.0,234.5 135.5,224.6 152.7,223.4 162.6,224.6" fill="none" stroke="#86700f" stroke-width="1" />
<polyline points="163.0,222.0 166.0,221.5 171.0,221.5 174.0,224.0 175.0,228.0 173.0,231.0 168.0,231.0 163.0,231.0 162.0,226.0" fill="none" stroke="#86700f" stroke-width="1" />
<polyline points="174.0,224.0 185.0,215.0 200.0,205.0 214.8,197.0 224.6,184.7 249.3,174.9 273.9,167.5 298.5,163.8 318.2,160.0 338.0,157.6 352.7,147.8 362.6,145.3 377.3,152.0 395.0,150.0 411.4,144.7" fill="none" stroke="#86700f" stroke-width="1" />
<polyline points="167.0,231.0 168.0,245.0 170.0,262.0 172.0,280.0 173.0,300.0 173.0,320.0 175.0,340.0 177.0,360.0 180.0,380.0 182.0,395.0 177.0,406.0 172.0,416.0 166.0,428.0 162.0,440.0 160.0,455.0 157.0,468.0 151.0,476.0 143.0,485.0 138.0,497.0 134.0,515.0 131.0,535.0 130.0,560.0 129.0,585.0 128.0,600.0 130.0,620.0 131.0,640.0 130.0,648.0" fill="none" stroke="#86700f" stroke-width="1" />
<polyline points="6.0,460.0 30.0,463.0 55.0,466.0 75.0,472.0 90.0,476.0 105.0,474.0 125.0,473.0 140.0,475.0 151.0,476.0 165.0,480.0 180.0,478.0 200.0,475.0 215.0,474.0 235.0,475.0 255.0,475.0 262.0,470.0" fill="none" stroke="#86700f" stroke-width="1" />
<polyline points="262.0,470.0 275.0,468.0 285.0,465.0 293.0,455.0 300.0,446.6 321.7,423.6 340.6,404.6 367.7,399.2 389.4,385.7 404.3,380.0" fill="none" stroke="#86700f" stroke-width="1" />
<polyline points="262.0,470.0 255.0,480.0 250.0,495.0 243.0,510.0 237.0,520.0 229.0,535.0 222.0,545.0 217.0,560.0 215.0,580.0 214.0,600.0 210.0,615.0 205.0,630.0 197.0,640.0 190.0,648.0 183.0,655.0" fill="none" stroke="#86700f" stroke-width="1" />
<polyline points="411.4,144.7 403.6,160.0 398.4,175.8 395.8,191.3 395.8,210.0 396.0,240.0 396.2,280.0 397.5,307.0 401.6,342.3 404.3,372.0 404.3,388.4 408.4,407.3 416.5,423.6 424.6,442.6 432.8,461.5 439.5,471.0 435.5,483.2 430.0,500.0 422.0,518.0 410.0,535.0 398.0,550.0 385.0,562.0 370.0,572.0 357.0,581.0 344.0,590.0" fill="none" stroke="#86700f" stroke-width="1" />
<polyline points="473.4,6.5 468.2,44.0 452.7,54.3 433.3,60.7 428.2,77.5 421.7,100.8 430.7,108.6 435.9,118.9 437.2,131.8 432.0,144.7 425.6,157.7 417.0,152.0 411.4,144.7 412.0,135.0 417.0,128.0 424.0,124.0 431.0,122.0" fill="none" stroke="#86700f" stroke-width="1" />
<polyline points="437.2,131.8 457.9,132.3 486.3,137.0 509.6,134.4 525.0,142.0 545.0,150.0 565.0,153.0 585.0,152.0 600.0,147.8" fill="none" stroke="#86700f" stroke-width="1" />
<polyline points="425.6,157.7 434.6,175.8 447.5,191.3 460.5,204.2 475.0,216.0 490.0,225.0 505.0,232.0 520.0,236.0 535.0,238.0 548.0,236.0" fill="none" stroke="#86700f" stroke-width="1" />
<polyline points="413.8,364.0 430.0,347.7 451.7,331.5 468.0,307.0 487.0,280.0 500.0,265.0 515.0,252.0 530.0,242.0 545.0,238.0" fill="none" stroke="#86700f" stroke-width="1" />
<polyline points="413.8,366.7 435.5,362.6 462.6,364.0 489.7,362.6 510.0,360.0 530.0,356.0 550.0,352.0 570.0,352.0 586.0,352.0" fill="none" stroke="#86700f" stroke-width="1" />
<polyline points="439.5,471.0 462.6,472.4 489.7,458.8 520.0,437.0 532.0,420.0 542.2,408.6 548.8,390.8 564.3,370.9 582.0,357.6" fill="none" stroke="#86700f" stroke-width="1" />
<polyline points="589.0,348.0 593.0,335.4 606.5,324.3 626.4,317.7 653.0,313.0 675.0,291.0 694.0,276.0 712.0,262.0 730.0,248.0 748.0,238.0 765.0,230.0 785.0,226.0 806.0,224.0" fill="none" stroke="#86700f" stroke-width="1" />
<polyline points="548.0,238.0 553.0,255.0 558.0,272.0 564.0,290.0 572.0,308.0 580.0,325.0 585.0,340.0 587.0,350.0" fill="none" stroke="#86700f" stroke-width="1" />
<polyline points="581.0,347.0 587.0,344.0 593.0,347.0 594.0,354.0 589.0,359.0 582.0,357.0 580.0,352.0" fill="none" stroke="#86700f" stroke-width="1" />
<polyline points="593.0,353.0 619.8,362.0 653.0,366.5 700.0,368.7 723.0,369.9 747.7,372.3 760.0,366.0 772.3,357.6 787.0,352.6 806.0,345.0" fill="none" stroke="#86700f" stroke-width="1" />
<polyline points="586.5,357.6 593.0,368.7 602.0,382.0 608.7,399.7 619.8,413.0 627.0,422.0 632.0,430.0 630.0,445.0 629.5,460.0 630.0,480.0 633.0,500.0 638.0,520.0 645.0,540.0 650.0,552.0 655.0,565.0 660.0,580.0 664.0,600.0 668.0,612.0 676.0,628.0 684.0,640.0 693.0,655.0 702.0,668.0 712.0,682.0 722.0,697.0 732.0,712.0 740.0,730.0 746.0,750.0 750.0,770.0 753.0,790.0 755.0,806.0" fill="none" stroke="#86700f" stroke-width="1" />
<polyline points="627.0,422.0 633.0,427.0 640.0,433.0 650.0,441.0 662.0,449.0 680.0,456.0 700.0,462.0 720.0,467.0 740.0,471.0 760.0,476.0 780.0,484.0 795.0,490.0 806.0,494.0" fill="none" stroke="#86700f" stroke-width="1" />
<polyline points="627.0,422.0 632.0,425.0 637.5,430.7 636.0,436.0 632.0,438.0" fill="none" stroke="#86700f" stroke-width="1" />
<polyline points="6.0,661.0 15.0,660.0 23.0,657.5 35.0,654.0 50.0,649.0 65.0,646.0 80.0,643.0 92.0,642.0 105.0,644.0 115.0,648.0 122.0,655.0 128.0,662.0 133.0,668.0 140.0,672.0 150.0,674.0 160.0,675.0 170.0,678.0 178.0,680.0" fill="none" stroke="#86700f" stroke-width="1" />
<polyline points="6.0,632.0 10.0,640.0 12.0,650.0 14.0,658.0 15.0,660.0" fill="none" stroke="#86700f" stroke-width="1" />
<polyline points="92.0,642.0 100.0,641.0 112.0,641.0 120.0,640.0 130.0,641.0 135.0,648.0 137.0,657.0 134.0,667.0 130.0,672.0 140.0,672.0" fill="none" stroke="#86700f" stroke-width="1" />
<polyline points="130.0,641.0 140.0,643.0 152.0,648.0 165.0,653.0 178.0,655.0 185.8,656.8 200.0,652.0 214.0,648.0 228.0,645.0 243.8,642.7 260.0,643.0 275.5,642.7 293.0,637.5 300.0,633.0 305.3,627.8 312.0,623.0 321.0,624.3 333.0,626.0 345.7,627.8 359.8,633.0 369.0,638.6 382.0,637.0 390.0,631.0 398.0,626.0 416.0,620.0 440.0,616.0 455.0,618.0 470.0,620.0 485.0,618.0 500.0,617.0 515.0,618.0 530.0,618.0 540.0,624.0 555.0,628.0 570.0,635.0 585.0,640.0 600.0,641.0 615.0,642.0 630.0,644.0 645.0,646.0 660.0,650.0 675.0,653.0 690.0,656.0 700.0,660.0 712.0,659.0 725.0,660.0 740.0,658.0 755.0,656.0 770.0,655.0 782.0,654.0 790.0,652.0" fill="none" stroke="#86700f" stroke-width="1" />
<polyline points="305.3,627.8 306.0,618.0 307.0,607.6 311.0,603.0 316.0,600.5 330.0,596.0 344.0,590.0" fill="none" stroke="#86700f" stroke-width="1" />
<polyline points="806.0,548.0 803.0,565.0 800.0,585.0 797.0,605.0 792.0,625.0 789.0,640.0 788.0,652.0 792.0,664.0 797.0,680.0 802.0,700.0 806.0,715.0" fill="none" stroke="#86700f" stroke-width="1" />
<polyline points="782.0,640.0 790.0,638.0 795.0,645.0 794.0,656.0 787.0,660.0 781.0,654.0 782.0,640.0" fill="none" stroke="#86700f" stroke-width="1" />
<polyline points="806.0,72.6 792.0,78.8 772.4,85.0 752.7,91.0 737.9,98.5 723.0,108.4 708.4,118.0 693.6,128.0 683.7,134.0 671.4,138.0 661.6,142.8 649.3,146.5 632.0,147.8 614.8,150.0 600.0,147.8" fill="none" stroke="#86700f" stroke-width="1" />
<polyline points="671.4,138.0 671.4,152.7 674.0,172.4 686.0,184.7 698.5,189.6 723.0,187.0 747.8,182.3 772.4,177.3 787.0,172.4 806.0,174.8" fill="none" stroke="#86700f" stroke-width="1" />
<polyline points="686.0,184.7 695.0,200.0 708.0,215.0 722.0,228.0 735.0,240.0 750.0,255.0 765.0,270.0 777.3,268.9" fill="none" stroke="#86700f" stroke-width="1" />
<polyline points="762.5,200.0 767.4,224.6 769.9,249.0 777.3,268.9 789.6,281.0 805.6,308.0" fill="none" stroke="#86700f" stroke-width="1" />
<polyline points="600.0,143.0 590.0,150.0 575.0,160.0 560.0,172.0 550.0,185.0 545.0,200.0 546.0,220.0 548.0,238.0" fill="none" stroke="#86700f" stroke-width="1" />
<polyline points="151.0,476.0 150.0,490.0 148.0,505.0" fill="none" stroke="#86700f" stroke-width="1" />
<polyline points="92.0,642.0 95.0,650.0 100.0,658.0 112.0,664.0 122.0,668.0" fill="none" stroke="#86700f" stroke-width="1" />
<polyline points="6.0,105.4 154.6,105.4 156.6,112.3 160.5,114.3 160.5,122.2 154.6,130.0 147.7,136.0 141.8,143.8 137.9,149.4 187.1,149.4" fill="none" stroke="#000" stroke-width="1" />
<polyline points="203.1,5.6 202.7,6.6 202.9,7.8 203.4,9.0 203.4,10.1 203.0,11.1 202.2,11.6 202.3,12.8 202.3,14.0 202.7,15.0 203.5,15.7 204.5,16.3 205.6,16.9 206.4,17.7 206.9,18.6 207.1,19.7 207.1,20.9 207.0,21.7 206.9,22.8 207.3,24.0 207.9,25.1 208.5,26.2 208.7,27.3 208.4,28.5 207.8,29.6 206.6,29.6 205.4,29.8 204.5,30.4 203.8,31.4 203.1,32.4 202.7,32.5 202.8,33.5 202.4,34.5 201.9,35.5 201.5,37.1 202.4,37.9 203.6,38.4 205.0,38.5 206.6,39.2 207.1,40.1 207.2,41.1 207.1,42.3 206.9,43.5 206.9,44.6 207.3,45.6 208.3,46.4 209.1,47.2 209.8,48.0 210.2,49.1 210.3,50.3 210.4,51.4 210.8,52.5 211.6,53.3 212.5,54.1 213.1,54.8 214.0,55.6 214.7,56.7 215.4,57.8 216.8,58.6 217.7,58.2 218.6,57.6 219.5,57.0 220.5,56.6 221.6,57.1" fill="none" stroke="#000" stroke-width="1" />
<polyline points="221.6,57.1 224.6,53.2 230.5,47.3 238.4,40.4 244.3,39.4 250.2,42.4 262.0,47.3 271.9,53.2 277.8,54.8 282.7,51.2 282.7,43.3 277.8,37.4 276.8,29.6 281.7,23.6 291.6,19.7 303.4,17.7 309.3,15.8 308.3,9.9 304.4,5.9" fill="none" stroke="#000" stroke-width="1" />
<polyline points="221.0,58.8 221.9,59.2 223.4,58.2 224.7,57.7 225.9,57.5 227.2,58.2 227.5,59.4 227.8,60.8 228.3,61.9 229.2,62.5 230.5,62.5 232.1,63.0 232.7,64.0 232.6,65.0 231.9,66.0 231.0,67.0 230.4,68.0 230.6,68.3 230.7,69.8 230.8,71.3 230.1,72.2 228.7,72.5 227.3,72.6 226.4,73.4 226.3,75.0 228.4,74.7 228.8,75.8 227.8,77.9 227.9,79.2 229.8,79.1 231.8,80.8 230.6,81.3 228.4,80.8 227.2,81.2 227.9,83.1 228.5,85.0 227.1,84.6 225.2,86.1 226.0,87.2 228.4,88.0 228.5,89.2 226.8,90.3 225.5,90.9 226.6,92.5 227.8,94.2 226.7,94.9 224.4,95.1 223.6,95.9 224.6,97.7 223.9,99.4 222.8,98.8 221.4,97.0 220.3,96.7 219.5,98.6 217.6,98.8 217.7,97.2 218.6,95.1 217.8,94.3 215.5,94.8 214.1,94.5 214.5,92.5 212.6,92.5 213.2,94.5 213.9,96.5 212.5,96.8 210.2,97.0 209.7,98.0 211.1,99.6 211.9,101.1 210.4,101.6 208.2,101.9 207.9,102.9 209.6,105.0 209.3,106.3 206.7,105.9 204.4,105.8 207.9,107.7 205.6,107.4 203.3,107.1 202.8,106.2 204.4,104.5 206.2,102.8 205.4,101.6 202.4,102.0 200.6,101.7 201.8,99.7 203.3,97.4 199.5,96.2 200.6,98.6 201.1,100.6 199.4,100.4 197.0,100.8 196.5,101.9 198.2,102.5 201.1,102.8 200.0,103.9 197.5,106.4 198.6,107.0 202.2,106.5 202.6,107.5 200.0,110.0 199.1,109.4 201.1,111.1 202.2,112.6 202.6,113.9 201.7,114.7 200.1,115.2 199.1,114.9 198.0,115.2 197.6,116.8 197.5,118.9 197.0,120.3 196.6,119.2 195.3,120.2 193.9,121.2 193.0,122.2 194.4,124.7 195.9,123.8 197.4,122.7 198.7,122.5 199.4,123.4 199.8,124.9 198.1,124.2 197.0,124.6 196.6,126.2 196.5,128.3 195.3,130.0 194.0,129.5 192.4,127.0 191.3,127.7 190.4,129.2 190.2,128.7 189.7,129.9 188.7,131.2 189.0,132.2 190.2,132.8 191.6,132.6 192.1,133.7 192.2,135.3 192.9,136.1 194.3,135.8 195.7,135.5 196.6,137.5 195.0,137.3 193.8,137.5 193.6,138.8 193.7,140.2 193.3,141.3 192.2,141.6 190.6,141.6 189.5,142.3 189.6,143.7 190.0,145.3 189.6,146.4 188.4,146.9 187.1,147.6 186.5,148.5 186.9,149.6 187.5,150.3 188.6,150.6 189.0,151.7 188.9,153.2 189.2,154.3 190.1,154.8 191.6,154.8 192.7,157.4 191.6,157.5 190.0,156.4 188.5,155.3 187.4,155.6 186.9,157.5 187.4,159.6 186.6,160.5 184.5,160.2 182.5,160.0 181.6,162.8 184.6,162.4 186.2,162.8 184.2,165.4 183.3,167.3 185.6,166.5 186.0,168.7 185.6,169.9 183.9,169.6 182.0,168.8 180.8,169.1 181.0,171.0 183.8,170.7 183.2,172.4 181.0,175.1 181.7,176.0 184.4,176.7 184.6,178.8 182.9,178.1 180.4,176.2 179.2,176.2 179.7,178.8 180.2,181.5 179.7,179.4 178.1,181.1 176.9,182.6 176.7,183.8 178.0,184.4 180.2,184.8 181.0,187.9 180.0,188.5 178.3,187.7 176.4,186.4 174.9,185.8 174.2,186.9 174.0,189.0 174.6,191.2 174.1,192.3 172.4,192.2 170.1,191.5 168.7,191.2 167.8,191.8 167.8,193.4 168.1,195.5 168.1,197.2 167.8,197.4 166.2,197.4 164.2,197.1 162.5,197.1 161.7,197.8 162.5,199.6 162.8,201.5 162.3,202.8 161.0,202.6 161.0,204.3 161.2,205.8 162.1,205.4 162.1,206.6 162.2,207.9 162.1,209.1 161.5,209.9 160.5,210.4 159.2,210.7 158.0,211.0 157.2,211.7 156.9,212.7 156.9,214.0 158.2,214.3 159.2,214.9 159.6,215.8 159.7,217.0 159.6,217.7 158.5,218.1 157.9,218.9 157.7,220.0 157.8,221.4 157.8,222.6 157.4,223.5 157.0,224.5 155.2,224.4 153.4,224.3 153.4,223.8 152.5,224.6 151.9,226.3 151.4,228.2 150.6,229.3 149.5,229.3 148.1,228.2 146.0,227.0 144.6,227.2 144.2,228.4 144.6,230.4 145.0,232.4 145.3,231.6 144.9,232.7 143.6,234.0 142.1,235.2 141.4,236.4 141.9,237.3 143.7,238.3 145.5,237.7 146.8,237.6 147.4,238.5 147.4,240.1 146.1,240.3 144.8,240.9 145.4,242.3 147.3,244.2 148.8,246.0 147.3,248.5 145.4,247.4 143.3,245.6 141.7,244.8 141.0,246.1 141.1,248.8 140.9,251.3 140.1,252.1 138.5,251.1 136.6,249.1 134.9,247.9 136.1,248.7 134.1,250.2 132.0,251.9 131.5,250.4 131.3,249.1 130.0,249.7 129.2,250.6 129.4,251.8 129.9,253.2 129.6,253.2 130.2,254.0 130.5,255.4 130.8,256.6 131.5,257.4 132.5,256.6 132.6,258.0 132.6,259.2 132.2,260.1 131.1,260.6 130.2,260.7 129.5,259.5 128.5,259.0 127.1,259.3 126.7,259.3 126.7,260.5 126.8,261.6 125.1,262.1 123.2,262.5 122.4,265.6 123.6,266.0 125.4,265.8 127.4,265.4 128.8,265.6 129.5,269.1 127.9,269.2 126.1,269.0 124.0,268.7 124.4,270.3 126.3,272.4 127.3,273.9 125.3,274.3 122.2,274.4 121.1,275.2 122.9,276.8 125.1,277.7 125.7,278.6 123.6,280.0 121.2,281.3 121.1,282.4 123.6,283.0 126.2,283.7 126.0,286.0 122.9,285.7 120.5,285.8 121.3,287.4 123.5,289.8 123.9,291.2 121.2,291.4 119.1,289.3 118.1,289.6 118.2,292.7 117.7,294.5 116.5,293.7 114.4,292.5 113.3,292.7 113.6,294.8 113.9,296.9 113.1,295.1 112.0,297.3 111.6,298.8 113.2,298.8 115.6,298.3 115.8,301.4 113.6,299.9 112.0,299.5 112.0,301.9 112.0,304.1 110.3,303.7 108.3,302.1 107.3,302.6 107.4,305.3 107.8,305.9 105.6,306.1 103.3,306.1 103.6,307.5 103.8,310.2 102.6,310.7 102.0,308.7 101.4,306.6 100.3,306.8 99.9,308.4 100.2,309.9 98.0,310.0 95.7,310.1 96.4,312.6 98.9,311.7 99.7,312.5 98.8,315.0 98.8,316.6 101.0,315.9 100.9,313.7 102.7,314.2 102.4,314.3 102.6,315.3 104.8,315.9 106.6,316.6 105.9,317.8 104.4,318.4 102.9,318.5 103.0,320.2 103.5,322.3 103.0,323.4 100.9,323.1 100.7,321.1 99.6,320.7 97.8,321.8 98.6,321.6 97.7,322.5 95.7,322.8 94.2,323.3 94.4,324.6 95.6,325.6 97.0,325.7 97.1,326.9 96.4,328.7 96.0,330.2 97.5,329.0 97.3,331.2 96.8,332.6 95.3,332.1 93.5,330.9 92.2,331.0 92.1,332.8 90.6,333.3 89.4,333.2 88.6,332.4 88.0,331.0 86.7,331.6 85.9,332.5 86.0,333.7 86.5,335.0 86.7,335.2 87.7,335.6 88.2,336.7 88.4,338.1 88.7,339.5 89.3,340.4 90.4,339.6 90.8,341.2 90.9,342.6 90.2,343.6 88.8,344.1 87.6,344.4 86.4,344.6 85.7,345.2 85.3,346.4 85.1,347.8 83.3,349.1 82.4,348.2 81.9,346.9 80.4,345.8 79.5,346.5 79.1,347.6 79.4,348.8 80.3,350.3 79.6,350.0 80.0,351.7 80.4,353.2 81.6,353.5 83.3,352.9 83.4,352.9 84.7,352.8 87.1,355.2 88.0,354.6 88.8,351.7 91.1,351.9 89.9,353.6 89.3,354.9 88.8,356.3 89.2,355.7 88.5,356.7 88.0,358.3 87.6,359.8 86.7,360.6 84.7,360.8 84.1,359.4 83.4,358.1 82.5,357.5 81.0,358.3 81.0,358.7 80.5,359.6 79.1,359.8 77.3,359.8 76.4,360.3 76.7,362.3 78.5,361.8 79.6,362.2 79.7,363.7 79.6,365.5 80.3,366.4 81.9,365.9 81.6,367.6 80.6,368.1 78.9,367.3 77.4,366.7 76.5,367.5 76.3,369.1 77.2,370.3 76.7,371.2 75.2,372.0 73.8,372.7 74.4,374.9 76.3,374.1 77.8,373.9 78.3,375.3 78.1,377.9 80.3,378.9 81.0,376.6 81.7,374.6 82.8,375.1 84.2,377.3 85.4,378.3 85.2,376.2 87.2,376.8 88.8,377.5 89.0,378.5 86.7,380.0 86.2,379.7 85.9,381.4 85.7,383.4 84.3,383.3 82.3,382.3 81.3,383.6 82.3,385.6 81.7,386.6 79.5,386.6 78.5,387.3 79.3,388.7 80.8,388.8 80.6,390.6 80.4,392.4 81.9,392.5 82.7,391.8 83.7,391.6 85.1,393.0 86.4,393.7 86.8,391.9 87.9,393.5 87.0,394.3 84.9,394.6 84.2,395.5 85.3,397.3 85.3,398.8 83.7,398.7 81.8,398.3 82.0,400.0" fill="none" stroke="#000" stroke-width="1" />
<polyline points="81.0,401.4 81.6,402.2 83.3,401.6 85.2,400.7 86.5,400.7 86.6,403.2 85.4,403.9 84.4,404.7 83.8,405.6 83.9,406.8 84.2,408.3 83.5,409.5 82.5,410.0 81.1,410.0 79.6,409.8 78.0,410.6 77.9,411.7 78.2,413.0 78.5,414.3 79.8,416.0 77.8,415.2 76.6,418.0 76.6,419.6 78.6,419.2 81.5,417.9 80.4,417.2 81.7,418.3 83.2,420.7 84.5,422.1 85.4,421.3 86.3,419.0 88.5,420.0 88.6,421.0 86.6,422.0 84.1,423.0 83.1,424.0 85.4,424.0 85.9,427.2 85.4,428.6 83.4,427.4 80.9,425.6 78.2,427.5 79.7,428.8 82.1,430.2 83.3,431.5 82.1,432.3 79.5,432.9 78.0,436.0 79.4,436.2 82.2,435.0 84.4,434.4 84.5,435.9 83.8,438.7 84.1,440.9 85.3,440.8 87.1,438.8 88.8,436.9 89.8,437.3 90.2,439.9 88.7,441.5 88.0,442.9 88.7,443.8 90.5,444.3 92.8,444.6 93.6,448.0 92.8,448.8 91.2,448.4 88.3,446.5 87.6,447.3 88.7,450.4 89.0,450.7 86.1,450.8 84.1,451.3 85.7,452.9 87.8,454.7 86.3,455.3 83.8,457.5 84.9,457.9 87.6,456.2 88.7,456.5 88.1,458.9 87.5,461.4 89.3,462.0 91.3,459.5 92.9,458.0 93.5,459.4 93.6,462.6 94.1,464.4 95.2,462.5 98.5,461.8 99.3,462.7 97.3,465.3 96.0,467.5 97.3,467.3 100.3,467.8 102.2,468.5 101.1,469.7 98.4,471.2 97.0,472.5 99.2,472.2 99.8,474.4 100.1,476.3 98.6,476.4 96.1,475.5 96.5,474.7 95.3,475.1 94.0,476.6 92.8,477.3 91.8,477.3 91.6,476.2 90.2,476.9 89.2,477.6 88.9,478.6 89.2,479.9 89.6,480.4 90.6,481.0 91.0,482.2 91.0,483.8 91.4,485.0 91.8,483.8 92.3,485.9 92.7,487.9 92.1,488.9 90.4,488.8 88.4,488.0 86.9,487.7 86.2,488.9 86.2,491.1 86.0,493.1 86.1,492.3 84.8,493.2 82.9,493.9 81.5,494.7 81.3,495.7 82.4,496.9 84.1,498.6 84.3,500.2 83.0,500.7 80.8,500.7 78.8,500.9 78.2,502.1 79.1,503.8 80.3,505.6 80.5,507.0 79.3,507.6 77.1,507.8 75.6,507.6 74.8,508.4 75.0,510.2 75.6,512.4 75.4,513.8 73.7,514.2 71.7,513.1 69.9,512.4 69.0,513.2 68.9,515.3 69.5,516.6 69.7,517.8 68.5,518.5 66.4,518.8 64.0,519.1 63.5,522.5 65.5,522.6 68.3,522.3 70.3,522.5 70.6,523.7 68.8,525.7 71.2,527.1 72.7,527.2 70.0,524.5 72.3,525.0 74.6,525.5 75.7,526.3 73.4,528.7 71.1,527.1 69.5,526.8 69.5,529.0 69.9,531.8 67.5,533.9 66.6,533.1 66.1,529.9 65.4,527.9 64.2,529.2 62.7,531.9 64.2,530.9 61.2,530.8 58.8,531.0 59.8,532.6 62.2,534.7 61.5,536.5 58.6,535.2 56.6,534.8 57.4,537.2 58.5,539.9 57.6,539.5 54.4,539.6 52.9,540.2 54.7,541.9 56.9,543.7 56.1,544.6 52.9,545.2 52.0,546.4 53.1,547.2 54.9,547.9 56.2,548.7 55.8,549.8 54.2,550.5 53.5,551.5 54.1,553.2 55.6,555.5 55.0,556.4 52.7,556.9 50.5,555.7 48.7,555.0 47.8,555.4 47.9,557.2 48.7,559.1 50.3,560.5 50.6,561.6 49.2,562.4 46.8,562.9 45.7,566.2 46.5,567.1 48.4,566.3 50.5,565.0 51.7,565.3 51.8,566.8 53.4,566.8 54.3,566.2 54.2,564.9 53.7,563.3 56.4,562.7 55.8,563.9 54.6,565.2 54.2,566.3 55.2,567.1 56.5,568.6 56.1,569.8 54.7,569.8 52.9,569.3 51.5,569.2 51.4,570.7 50.6,573.1 49.3,573.4 48.7,571.9 48.4,569.7 47.7,568.6 45.1,569.9 46.8,571.2 47.6,572.3 46.7,573.2 44.8,573.9 43.3,574.7 43.6,576.5 45.7,576.9 47.4,577.4 47.5,578.5 46.1,580.1 45.6,581.3 46.4,582.6 48.3,582.3 49.4,582.8 48.8,585.0 48.2,587.2 50.5,585.6 52.3,588.2 51.6,588.9 48.5,587.8 46.3,587.5 46.8,589.2 48.3,591.5 49.0,593.3 47.7,593.7 45.1,593.3 45.0,594.5" fill="none" stroke="#000" stroke-width="1" />
<polyline points="208.8,104.4 308.3,105.4 309.3,88.7 319.0,89.0 415.0,90.8 500.0,93.5 600.0,96.0 700.0,97.0 806.0,98.5" fill="none" stroke="#000" stroke-width="1" />
<polyline points="144.0,238.0 299.8,238.0 493.0,238.5 600.0,239.0 629.5,239.4 655.0,239.0 676.0,238.0" fill="none" stroke="#000" stroke-width="1" />
<polyline points="299.8,238.0 303.0,243.0 307.0,246.8 291.6,400.0 279.3,513.0 280.5,560.0 282.5,600.0 284.0,649.0" fill="none" stroke="#000" stroke-width="1" />
<polyline points="493.0,238.5 499.8,281.0 513.0,357.6 519.5,400.0 525.6,429.5 529.0,440.0 533.0,451.7 537.0,458.0 539.0,464.0 537.5,470.0 538.0,476.0 545.0,482.5 540.0,487.0 534.0,493.6 533.0,503.0 531.0,520.0 533.0,538.0 534.0,552.7 531.0,562.0 529.0,572.0 532.0,580.0 535.5,587.0 539.0,600.0 541.0,612.0 548.0,619.6" fill="none" stroke="#000" stroke-width="1" />
<polyline points="536.7,594.5 344.0,594.5 344.0,597.0 343.0,600.0 341.7,605.0 345.0,611.0 349.6,615.7 353.0,620.0 356.0,623.5 358.7,631.0 356.0,641.8 357.4,649.6" fill="none" stroke="#000" stroke-width="1" />
<polyline points="6.0,415.0 77.6,415.0" fill="none" stroke="#000" stroke-width="1" />
<polyline points="45.0,594.5 186.0,594.5 184.0,600.0 181.0,606.0 180.0,613.0 178.0,619.0 178.0,625.0 181.0,632.0 183.0,640.0 186.0,645.0 188.0,650.0 190.0,655.0 192.0,660.0 194.0,665.0 195.0,670.0" fill="none" stroke="#000" stroke-width="1" />
<polyline points="548.0,619.6 650.0,626.0 744.0,632.6 745.0,641.0 746.6,649.6 752.0,651.5 757.0,651.0 759.0,643.0 759.7,634.0 758.0,624.0 757.0,615.7 760.0,612.0 765.0,610.4 775.0,613.0 785.8,617.0 796.0,618.0" fill="none" stroke="#000" stroke-width="1" />
<polyline points="635.7,96.0 643.0,93.5 653.0,90.0 665.0,86.5 676.0,82.5 679.0,78.0 681.0,74.0 688.0,71.0 696.0,69.0 697.0,64.0 698.5,60.0 703.0,57.0 707.0,54.0 707.5,51.0 708.0,48.0 718.0,43.5 728.0,39.4 737.0,36.0 745.0,32.0 754.0,23.0 762.5,14.8 757.0,12.0 750.0,10.0 748.0,6.0" fill="none" stroke="#000" stroke-width="1" />
<polyline points="762.5,14.8 765.0,20.0 770.0,27.0 775.0,32.0 780.0,37.0 784.0,40.5 787.0,42.0 792.0,41.0 797.0,39.0 802.0,37.0 806.0,34.5" fill="none" stroke="#000" stroke-width="1" />
<polyline points="787.7,95.0 785.0,99.0 783.5,103.5 782.0,110.0 781.0,116.0 782.0,119.5 777.0,118.0 772.4,118.0 768.0,123.0 763.8,128.0 761.0,133.0 759.0,138.0 756.0,139.5 752.7,139.0 749.0,137.0 745.0,135.5 739.0,137.0 734.0,139.0 729.0,144.0 725.6,148.0 723.0,150.5 720.7,151.5 717.0,148.0 715.0,145.0 713.0,143.6 710.0,144.5 707.0,146.5 704.0,150.0 701.0,152.7 697.0,154.0 693.6,155.0 692.0,159.0 691.0,162.5 686.0,165.0 681.0,167.5 677.0,169.0 674.0,170.0 669.0,173.5 664.0,177.0 658.0,181.0 653.0,184.7 646.8,189.6 640.0,194.0 633.0,198.0 626.0,203.0 620.0,208.0 616.0,214.0 612.0,220.0 610.0,228.0 611.0,234.0 612.0,239.0" fill="none" stroke="#000" stroke-width="1" />
<polyline points="676.0,238.0 686.0,235.5 693.7,232.7 704.0,231.0 706.0,231.5 709.8,227.8 718.0,224.6 724.0,222.5 730.5,221.0 734.0,222.0 741.0,221.3 747.8,221.0 770.0,221.8 806.0,223.4" fill="none" stroke="#000" stroke-width="1" />
<polyline points="677.0,239.0 677.0,242.0 672.0,246.5 666.5,251.7 662.0,256.0 660.0,261.6 661.0,266.0 664.0,269.0 669.0,272.0 674.0,275.0 679.0,279.0 683.7,283.7 689.0,284.5 694.8,284.0 697.0,288.0 698.5,293.6 702.0,300.0 706.0,308.0 711.0,316.0 715.8,325.6 724.0,333.0 733.0,340.0 740.0,350.0 747.8,360.0 754.0,364.0 760.0,367.5 764.0,372.0 767.5,377.0 765.5,381.0 765.0,384.7 769.0,388.0 772.4,392.0 776.0,395.0 779.8,398.0 783.0,403.0 787.0,407.0 792.0,410.0 797.0,413.5 798.5,417.0 799.5,421.0 802.0,426.0 804.4,432.0 806.0,440.0" fill="none" stroke="#000" stroke-width="1" />
<g filter="url(#halo)">
<g fill="#ff5a00">
<use href="#p" x="364" y="97"/>
<use href="#n" x="377" y="96"/>
<use href="#p" x="378" y="103"/>
<use href="#p" x="364" y="92"/>
<use href="#n" x="379" y="95"/>
<use href="#n" x="392" y="95"/>
<use href="#n" x="360" y="81"/>
<use href="#n" x="362" y="95"/>
<use href="#n" x="368" y="82"/>
<use href="#p" x="345" y="95"/>
<use href="#n" x="348" y="72"/>
<use href="#n" x="358" y="93"/>
<use href="#n" x="365" y="91"/>
<use href="#n" x="375" y="87"/>
<use href="#n" x="354" y="100"/>
<use href="#p" x="379" y="75"/>
<use href="#n" x="369" y="89"/>
<use href="#n" x="373" y="85"/>
<use href="#n" x="345" y="82"/>
<use href="#p" x="384" y="104"/>
<use href="#n" x="338" y="82"/>
<use href="#p" x="351" y="81"/>
<use href="#n" x="348" y="92"/>
<use href="#p" x="360" y="81"/>
<use href="#p" x="369" y="93"/>
<use href="#n" x="391" y="94"/>
<use href="#n" x="367" y="88"/>
<use href="#n" x="361" y="99"/>
<use href="#n" x="380" y="83"/>
<use href="#n" x="362" y="94"/>
<use href="#n" x="357" y="100"/>
<use href="#p" x="359" y="102"/>
<use href="#p" x="350" y="109"/>
<use href="#n" x="347" y="101"/>
<use href="#n" x="332" y="104"/>
<use href="#n" x="343" y="92"/>
<use href="#n" x="351" y="108"/>
<use href="#n" x="336" y="97"/>
<use href="#n" x="347" y="115"/>
<use href="#n" x="366" y="104"/>
<use href="#n" x="343" y="107"/>
<use href="#n" x="346" y="107"/>
<use href="#p" x="391" y="78"/>
<use href="#n" x="392" y="91"/>
<use href="#n" x="390" y="88"/>
<use href="#n" x="388" y="88"/>
<use href="#n" x="405" y="87"/>
<use href="#n" x="397" y="93"/>
<use href="#n" x="393" y="68"/>
<use href="#n" x="393" y="86"/>
<use href="#n" x="395" y="91"/>
<use href="#n" x="388" y="71"/>
<use href="#n" x="399" y="74"/>
<use href="#p" x="396" y="91"/>
<use href="#n" x="393" y="74"/>
<use href="#p" x="382" y="84"/>
<use href="#n" x="401" y="83"/>
<use href="#p" x="328" y="114"/>
<use href="#n" x="336" y="103"/>
<use href="#p" x="336" y="106"/>
<use href="#p" x="323" y="115"/>
<use href="#p" x="324" y="103"/>
<use href="#p" x="337" y="100"/>
<use href="#n" x="333" y="89"/>
<use href="#n" x="330" y="100"/>
<use href="#n" x="323" y="112"/>
<use href="#p" x="328" y="97"/>
<use href="#n" x="333" y="103"/>
<use href="#n" x="328" y="94"/>
<use href="#n" x="328" y="88"/>
<use href="#n" x="329" y="103"/>
<use href="#n" x="340" y="110"/>
<use href="#n" x="344" y="110"/>
<use href="#n" x="554" y="143"/>
<use href="#n" x="586" y="130"/>
<use href="#p" x="587" y="137"/>
<use href="#p" x="592" y="146"/>
<use href="#n" x="661" y="150"/>
<use href="#p" x="570" y="167"/>
<use href="#n" x="593" y="165"/>
<use href="#p" x="634" y="163"/>
<use href="#n" x="641" y="160"/>
<use href="#n" x="649" y="222"/>
<use href="#n" x="646" y="216"/>
<use href="#n" x="644" y="205"/>
<use href="#n" x="635" y="207"/>
<use href="#n" x="616" y="206"/>
<use href="#n" x="626" y="183"/>
<use href="#n" x="618" y="202"/>
<use href="#n" x="628" y="191"/>
<use href="#n" x="625" y="197"/>
<use href="#n" x="632" y="215"/>
<use href="#n" x="643" y="217"/>
<use href="#n" x="637" y="208"/>
<use href="#p" x="637" y="208"/>
<use href="#n" x="643" y="213"/>
<use href="#n" x="645" y="224"/>
<use href="#n" x="638" y="208"/>
<use href="#n" x="541" y="305"/>
<use href="#n" x="533" y="311"/>
<use href="#n" x="531" y="311"/>
<use href="#p" x="532" y="313"/>
<use href="#n" x="535" y="312"/>
<use href="#p" x="534" y="316"/>
<use href="#p" x="531" y="305"/>
<use href="#n" x="529" y="313"/>
<use href="#n" x="571" y="334"/>
<use href="#n" x="570" y="334"/>
<use href="#n" x="563" y="341"/>
<use href="#n" x="576" y="335"/>
<use href="#n" x="570" y="345"/>
<use href="#n" x="565" y="335"/>
<use href="#n" x="565" y="342"/>
<use href="#n" x="566" y="343"/>
<use href="#n" x="580" y="340"/>
<use href="#n" x="693" y="136"/>
<use href="#n" x="707" y="138"/>
<use href="#n" x="716" y="156"/>
<use href="#n" x="688" y="168"/>
</g>
<g fill="#ff7800">
<use href="#n" x="364" y="91"/>
<use href="#n" x="399" y="95"/>
<use href="#n" x="376" y="106"/>
<use href="#p" x="381" y="98"/>
<use href="#n" x="341" y="86"/>
<use href="#p" x="358" y="102"/>
<use href="#n" x="366" y="89"/>
<use href="#n" x="377" y="96"/>
<use href="#n" x="358" y="92"/>
<use href="#n" x="356" y="97"/>
<use href="#n" x="385" y="90"/>
<use href="#n" x="352" y="77"/>
<use href="#n" x="376" y="97"/>
<use href="#n" x="360" y="93"/>
<use href="#n" x="366" y="73"/>
<use href="#n" x="363" y="83"/>
<use href="#p" x="391" y="87"/>
<use href="#n" x="380" y="101"/>
<use href="#n" x="359" y="79"/>
<use href="#n" x="375" y="92"/>
<use href="#n" x="356" y="71"/>
<use href="#p" x="376" y="86"/>
<use href="#n" x="358" y="95"/>
<use href="#n" x="388" y="91"/>
<use href="#n" x="354" y="101"/>
<use href="#n" x="381" y="107"/>
<use href="#n" x="384" y="111"/>
<use href="#n" x="358" y="104"/>
<use href="#n" x="368" y="98"/>
<use href="#n" x="357" y="90"/>
<use href="#p" x="376" y="102"/>
<use href="#n" x="374" y="80"/>
<use href="#n" x="355" y="101"/>
<use href="#n" x="357" y="95"/>
<use href="#p" x="356" y="90"/>
<use href="#n" x="371" y="91"/>
<use href="#n" x="364" y="95"/>
<use href="#p" x="386" y="87"/>
<use href="#n" x="374" y="91"/>
<use href="#p" x="377" y="95"/>
<use href="#n" x="350" y="91"/>
<use href="#n" x="388" y="89"/>
<use href="#p" x="371" y="90"/>
<use href="#n" x="391" y="99"/>
<use href="#n" x="380" y="97"/>
<use href="#p" x="361" y="100"/>
<use href="#n" x="370" y="72"/>
<use href="#n" x="361" y="88"/>
<use href="#n" x="385" y="95"/>
<use href="#n" x="355" y="95"/>
<use href="#n" x="378" y="95"/>
<use href="#n" x="369" y="93"/>
<use href="#n" x="367" y="84"/>
<use href="#p" x="380" y="93"/>
<use href="#n" x="345" y="102"/>
<use href="#p" x="348" y="104"/>
<use href="#p" x="348" y="100"/>
<use href="#n" x="351" y="102"/>
<use href="#n" x="350" y="112"/>
<use href="#n" x="357" y="93"/>
<use href="#p" x="341" y="100"/>
<use href="#p" x="351" y="94"/>
<use href="#n" x="358" y="94"/>
<use href="#p" x="355" y="107"/>
<use href="#p" x="339" y="95"/>
<use href="#p" x="343" y="102"/>
<use href="#p" x="343" y="114"/>
<use href="#n" x="357" y="108"/>
<use href="#n" x="347" y="83"/>
<use href="#n" x="348" y="103"/>
<use href="#p" x="357" y="99"/>
<use href="#n" x="355" y="99"/>
<use href="#n" x="336" y="91"/>
<use href="#n" x="384" y="84"/>
<use href="#n" x="395" y="84"/>
<use href="#n" x="394" y="79"/>
<use href="#n" x="389" y="90"/>
<use href="#n" x="395" y="86"/>
<use href="#n" x="386" y="76"/>
<use href="#p" x="383" y="81"/>
<use href="#n" x="386" y="86"/>
<use href="#n" x="376" y="94"/>
<use href="#n" x="395" y="82"/>
<use href="#p" x="388" y="84"/>
<use href="#n" x="394" y="90"/>
<use href="#n" x="388" y="65"/>
<use href="#n" x="389" y="90"/>
<use href="#p" x="382" y="87"/>
<use href="#n" x="401" y="83"/>
<use href="#p" x="399" y="89"/>
<use href="#p" x="385" y="97"/>
<use href="#p" x="402" y="89"/>
<use href="#p" x="384" y="86"/>
<use href="#p" x="381" y="87"/>
<use href="#p" x="397" y="87"/>
<use href="#p" x="327" y="122"/>
<use href="#p" x="315" y="103"/>
<use href="#p" x="329" y="109"/>
<use href="#p" x="326" y="109"/>
<use href="#n" x="323" y="106"/>
<use href="#p" x="329" y="107"/>
<use href="#n" x="338" y="102"/>
<use href="#p" x="320" y="104"/>
<use href="#n" x="333" y="113"/>
<use href="#n" x="329" y="122"/>
<use href="#n" x="341" y="104"/>
<use href="#p" x="335" y="116"/>
<use href="#n" x="344" y="99"/>
<use href="#n" x="327" y="109"/>
<use href="#n" x="340" y="99"/>
<use href="#p" x="340" y="112"/>
<use href="#n" x="331" y="108"/>
<use href="#n" x="333" y="99"/>
<use href="#p" x="331" y="109"/>
<use href="#p" x="336" y="92"/>
<use href="#p" x="330" y="120"/>
<use href="#n" x="325" y="108"/>
<use href="#n" x="332" y="104"/>
<use href="#p" x="327" y="110"/>
<use href="#n" x="336" y="116"/>
<use href="#p" x="333" y="112"/>
<use href="#n" x="338" y="108"/>
<use href="#n" x="328" y="103"/>
<use href="#n" x="356" y="116"/>
<use href="#n" x="363" y="131"/>
<use href="#n" x="364" y="121"/>
<use href="#n" x="373" y="123"/>
<use href="#n" x="364" y="118"/>
<use href="#p" x="373" y="130"/>
<use href="#n" x="362" y="138"/>
<use href="#n" x="375" y="120"/>
<use href="#n" x="364" y="141"/>
<use href="#n" x="386" y="130"/>
<use href="#n" x="349" y="125"/>
<use href="#n" x="366" y="123"/>
<use href="#n" x="382" y="133"/>
<use href="#n" x="363" y="137"/>
<use href="#n" x="360" y="131"/>
<use href="#n" x="381" y="115"/>
<use href="#p" x="381" y="132"/>
<use href="#n" x="371" y="138"/>
<use href="#n" x="376" y="115"/>
<use href="#n" x="381" y="108"/>
<use href="#n" x="386" y="104"/>
<use href="#p" x="371" y="117"/>
<use href="#p" x="364" y="110"/>
<use href="#n" x="375" y="112"/>
<use href="#n" x="375" y="110"/>
<use href="#n" x="365" y="114"/>
<use href="#p" x="379" y="114"/>
<use href="#n" x="378" y="107"/>
<use href="#n" x="376" y="114"/>
<use href="#p" x="370" y="104"/>
<use href="#n" x="360" y="107"/>
<use href="#n" x="358" y="117"/>
<use href="#n" x="380" y="114"/>
<use href="#p" x="360" y="112"/>
<use href="#p" x="379" y="111"/>
<use href="#n" x="361" y="108"/>
<use href="#p" x="388" y="118"/>
<use href="#n" x="387" y="119"/>
<use href="#n" x="307" y="112"/>
<use href="#n" x="410" y="73"/>
<use href="#n" x="380" y="63"/>
<use href="#n" x="567" y="145"/>
<use href="#n" x="579" y="146"/>
<use href="#n" x="579" y="150"/>
<use href="#n" x="599" y="142"/>
<use href="#n" x="599" y="146"/>
<use href="#n" x="645" y="128"/>
<use href="#n" x="580" y="167"/>
<use href="#n" x="633" y="173"/>
<use href="#n" x="626" y="180"/>
<use href="#n" x="635" y="200"/>
<use href="#n" x="611" y="206"/>
<use href="#n" x="597" y="195"/>
<use href="#n" x="601" y="175"/>
<use href="#n" x="586" y="188"/>
<use href="#n" x="615" y="186"/>
<use href="#n" x="602" y="176"/>
<use href="#n" x="573" y="198"/>
<use href="#n" x="632" y="189"/>
<use href="#n" x="614" y="202"/>
<use href="#p" x="599" y="190"/>
<use href="#n" x="643" y="181"/>
<use href="#n" x="628" y="219"/>
<use href="#n" x="615" y="205"/>
<use href="#n" x="628" y="201"/>
<use href="#n" x="628" y="197"/>
<use href="#p" x="637" y="210"/>
<use href="#n" x="630" y="185"/>
<use href="#n" x="619" y="187"/>
<use href="#n" x="637" y="204"/>
<use href="#p" x="629" y="202"/>
<use href="#p" x="644" y="183"/>
<use href="#p" x="639" y="208"/>
<use href="#n" x="639" y="205"/>
<use href="#p" x="643" y="199"/>
<use href="#n" x="638" y="202"/>
<use href="#n" x="639" y="205"/>
<use href="#n" x="619" y="233"/>
<use href="#n" x="602" y="248"/>
<use href="#n" x="602" y="243"/>
<use href="#n" x="589" y="244"/>
<use href="#n" x="595" y="256"/>
<use href="#n" x="615" y="263"/>
<use href="#n" x="606" y="235"/>
<use href="#p" x="605" y="235"/>
<use href="#n" x="582" y="252"/>
<use href="#n" x="612" y="249"/>
<use href="#n" x="603" y="238"/>
<use href="#p" x="597" y="249"/>
<use href="#n" x="603" y="239"/>
<use href="#n" x="593" y="222"/>
<use href="#n" x="591" y="230"/>
<use href="#n" x="597" y="233"/>
<use href="#p" x="598" y="246"/>
<use href="#n" x="618" y="243"/>
<use href="#p" x="620" y="234"/>
<use href="#p" x="623" y="234"/>
<use href="#n" x="615" y="241"/>
<use href="#n" x="552" y="313"/>
<use href="#p" x="555" y="325"/>
<use href="#n" x="556" y="323"/>
<use href="#n" x="572" y="326"/>
<use href="#p" x="539" y="333"/>
<use href="#p" x="571" y="318"/>
<use href="#n" x="550" y="324"/>
<use href="#n" x="554" y="323"/>
<use href="#n" x="570" y="306"/>
<use href="#p" x="568" y="315"/>
<use href="#p" x="564" y="331"/>
<use href="#n" x="544" y="331"/>
<use href="#p" x="537" y="322"/>
<use href="#p" x="560" y="303"/>
<use href="#n" x="545" y="309"/>
<use href="#p" x="557" y="319"/>
<use href="#n" x="554" y="317"/>
<use href="#p" x="532" y="314"/>
<use href="#n" x="533" y="317"/>
<use href="#n" x="538" y="316"/>
<use href="#n" x="539" y="310"/>
<use href="#n" x="528" y="305"/>
<use href="#p" x="533" y="315"/>
<use href="#n" x="576" y="337"/>
<use href="#n" x="555" y="341"/>
<use href="#n" x="563" y="337"/>
<use href="#p" x="568" y="334"/>
<use href="#n" x="570" y="341"/>
<use href="#p" x="567" y="334"/>
<use href="#p" x="571" y="340"/>
<use href="#n" x="551" y="340"/>
<use href="#n" x="556" y="340"/>
<use href="#n" x="560" y="333"/>
<use href="#n" x="555" y="337"/>
<use href="#n" x="572" y="336"/>
<use href="#n" x="581" y="340"/>
<use href="#n" x="570" y="344"/>
<use href="#n" x="672" y="183"/>
<use href="#n" x="662" y="155"/>
<use href="#n" x="80" y="671"/>
</g>
<g fill="#ff9600">
<use href="#p" x="371" y="86"/>
<use href="#n" x="370" y="105"/>
<use href="#n" x="388" y="95"/>
<use href="#n" x="348" y="89"/>
<use href="#p" x="389" y="99"/>
<use href="#n" x="361" y="98"/>
<use href="#n" x="370" y="105"/>
<use href="#n" x="359" y="102"/>
<use href="#n" x="353" y="84"/>
<use href="#p" x="389" y="76"/>
<use href="#n" x="374" y="96"/>
<use href="#p" x="398" y="90"/>
<use href="#n" x="365" y="96"/>
<use href="#n" x="372" y="69"/>
<use href="#p" x="361" y="94"/>
<use href="#n" x="377" y="90"/>
<use href="#n" x="363" y="89"/>
<use href="#p" x="350" y="95"/>
<use href="#n" x="370" y="93"/>
<use href="#n" x="362" y="98"/>
<use href="#n" x="363" y="98"/>
<use href="#p" x="377" y="74"/>
<use href="#n" x="342" y="94"/>
<use href="#n" x="358" y="93"/>
<use href="#n" x="361" y="97"/>
<use href="#n" x="359" y="103"/>
<use href="#n" x="356" y="99"/>
<use href="#n" x="372" y="96"/>
<use href="#n" x="346" y="96"/>
<use href="#p" x="339" y="103"/>
<use href="#n" x="373" y="103"/>
<use href="#n" x="338" y="88"/>
<use href="#n" x="358" y="102"/>
<use href="#p" x="338" y="91"/>
<use href="#p" x="346" y="81"/>
<use href="#p" x="343" y="96"/>
<use href="#p" x="385" y="98"/>
<use href="#n" x="348" y="98"/>
<use href="#n" x="373" y="99"/>
<use href="#n" x="381" y="98"/>
<use href="#n" x="360" y="98"/>
<use href="#n" x="378" y="100"/>
<use href="#n" x="355" y="97"/>
<use href="#n" x="378" y="95"/>
<use href="#n" x="352" y="100"/>
<use href="#n" x="365" y="87"/>
<use href="#n" x="348" y="78"/>
<use href="#n" x="371" y="99"/>
<use href="#n" x="393" y="94"/>
<use href="#n" x="375" y="100"/>
<use href="#n" x="371" y="91"/>
<use href="#n" x="365" y="98"/>
<use href="#n" x="368" y="98"/>
<use href="#p" x="366" y="88"/>
<use href="#n" x="375" y="100"/>
<use href="#n" x="357" y="92"/>
<use href="#n" x="394" y="100"/>
<use href="#n" x="378" y="75"/>
<use href="#n" x="363" y="71"/>
<use href="#n" x="367" y="77"/>
<use href="#p" x="363" y="88"/>
<use href="#n" x="368" y="103"/>
<use href="#n" x="366" y="79"/>
<use href="#n" x="372" y="109"/>
<use href="#n" x="379" y="85"/>
<use href="#n" x="364" y="88"/>
<use href="#n" x="353" y="79"/>
<use href="#p" x="384" y="89"/>
<use href="#p" x="389" y="104"/>
<use href="#n" x="364" y="92"/>
<use href="#n" x="366" y="70"/>
<use href="#p" x="358" y="100"/>
<use href="#p" x="391" y="81"/>
<use href="#n" x="369" y="100"/>
<use href="#n" x="375" y="76"/>
<use href="#n" x="385" y="82"/>
<use href="#n" x="358" y="83"/>
<use href="#n" x="353" y="88"/>
<use href="#n" x="356" y="90"/>
<use href="#p" x="346" y="93"/>
<use href="#p" x="397" y="82"/>
<use href="#n" x="344" y="100"/>
<use href="#p" x="353" y="99"/>
<use href="#n" x="339" y="92"/>
<use href="#p" x="356" y="118"/>
<use href="#n" x="358" y="102"/>
<use href="#n" x="352" y="97"/>
<use href="#p" x="345" y="105"/>
<use href="#p" x="345" y="101"/>
<use href="#p" x="350" y="99"/>
<use href="#p" x="340" y="94"/>
<use href="#n" x="349" y="110"/>
<use href="#n" x="342" y="104"/>
<use href="#n" x="337" y="94"/>
<use href="#n" x="342" y="99"/>
<use href="#p" x="392" y="94"/>
<use href="#n" x="398" y="77"/>
<use href="#p" x="390" y="83"/>
<use href="#p" x="395" y="76"/>
<use href="#n" x="394" y="82"/>
<use href="#p" x="395" y="68"/>
<use href="#p" x="398" y="73"/>
<use href="#n" x="382" y="77"/>
<use href="#n" x="388" y="86"/>
<use href="#n" x="390" y="78"/>
<use href="#n" x="391" y="92"/>
<use href="#n" x="390" y="95"/>
<use href="#n" x="394" y="93"/>
<use href="#p" x="395" y="81"/>
<use href="#n" x="378" y="82"/>
<use href="#p" x="374" y="80"/>
<use href="#n" x="403" y="83"/>
<use href="#n" x="383" y="83"/>
<use href="#n" x="372" y="90"/>
<use href="#n" x="365" y="93"/>
<use href="#p" x="374" y="106"/>
<use href="#n" x="377" y="98"/>
<use href="#n" x="380" y="81"/>
<use href="#n" x="376" y="94"/>
<use href="#n" x="364" y="87"/>
<use href="#n" x="376" y="102"/>
<use href="#n" x="386" y="96"/>
<use href="#n" x="389" y="97"/>
<use href="#n" x="363" y="93"/>
<use href="#p" x="375" y="94"/>
<use href="#p" x="372" y="102"/>
<use href="#n" x="331" y="101"/>
<use href="#n" x="319" y="95"/>
<use href="#p" x="336" y="112"/>
<use href="#p" x="328" y="98"/>
<use href="#n" x="323" y="109"/>
<use href="#n" x="340" y="112"/>
<use href="#n" x="317" y="103"/>
<use href="#n" x="334" y="109"/>
<use href="#n" x="329" y="91"/>
<use href="#p" x="329" y="98"/>
<use href="#n" x="333" y="110"/>
<use href="#p" x="344" y="102"/>
<use href="#p" x="328" y="97"/>
<use href="#n" x="331" y="93"/>
<use href="#n" x="325" y="90"/>
<use href="#n" x="323" y="103"/>
<use href="#n" x="343" y="99"/>
<use href="#n" x="327" y="108"/>
<use href="#n" x="349" y="129"/>
<use href="#p" x="359" y="118"/>
<use href="#n" x="365" y="134"/>
<use href="#p" x="361" y="136"/>
<use href="#n" x="377" y="130"/>
<use href="#p" x="389" y="136"/>
<use href="#n" x="377" y="134"/>
<use href="#p" x="348" y="123"/>
<use href="#n" x="366" y="122"/>
<use href="#n" x="384" y="129"/>
<use href="#p" x="366" y="116"/>
<use href="#n" x="364" y="132"/>
<use href="#n" x="391" y="125"/>
<use href="#p" x="358" y="115"/>
<use href="#n" x="368" y="123"/>
<use href="#p" x="378" y="129"/>
<use href="#n" x="374" y="119"/>
<use href="#p" x="364" y="117"/>
<use href="#n" x="370" y="129"/>
<use href="#p" x="361" y="125"/>
<use href="#n" x="371" y="127"/>
<use href="#n" x="379" y="123"/>
<use href="#n" x="368" y="127"/>
<use href="#p" x="374" y="123"/>
<use href="#n" x="377" y="124"/>
<use href="#n" x="371" y="127"/>
<use href="#p" x="372" y="117"/>
<use href="#n" x="357" y="119"/>
<use href="#p" x="369" y="127"/>
<use href="#n" x="371" y="113"/>
<use href="#n" x="371" y="133"/>
<use href="#n" x="364" y="128"/>
<use href="#p" x="378" y="130"/>
<use href="#p" x="379" y="129"/>
<use href="#n" x="391" y="128"/>
<use href="#p" x="381" y="137"/>
<use href="#n" x="385" y="133"/>
<use href="#n" x="384" y="132"/>
<use href="#n" x="390" y="126"/>
<use href="#p" x="382" y="134"/>
<use href="#n" x="392" y="134"/>
<use href="#n" x="391" y="139"/>
<use href="#n" x="383" y="139"/>
<use href="#n" x="382" y="120"/>
<use href="#n" x="370" y="113"/>
<use href="#p" x="366" y="115"/>
<use href="#n" x="371" y="108"/>
<use href="#n" x="382" y="113"/>
<use href="#n" x="373" y="114"/>
<use href="#n" x="382" y="109"/>
<use href="#p" x="371" y="115"/>
<use href="#n" x="368" y="106"/>
<use href="#n" x="379" y="110"/>
<use href="#p" x="367" y="118"/>
<use href="#p" x="387" y="108"/>
<use href="#p" x="380" y="116"/>
<use href="#n" x="398" y="142"/>
<use href="#n" x="418" y="122"/>
<use href="#p" x="316" y="133"/>
<use href="#p" x="300" y="112"/>
<use href="#p" x="303" y="115"/>
<use href="#p" x="335" y="74"/>
<use href="#p" x="348" y="70"/>
<use href="#n" x="392" y="64"/>
<use href="#n" x="400" y="70"/>
<use href="#n" x="413" y="78"/>
<use href="#p" x="607" y="169"/>
<use href="#n" x="614" y="160"/>
<use href="#n" x="613" y="268"/>
<use href="#n" x="595" y="265"/>
<use href="#n" x="608" y="178"/>
<use href="#n" x="618" y="172"/>
<use href="#n" x="644" y="188"/>
<use href="#n" x="624" y="206"/>
<use href="#n" x="598" y="204"/>
<use href="#n" x="632" y="179"/>
<use href="#n" x="596" y="187"/>
<use href="#n" x="614" y="189"/>
<use href="#n" x="602" y="205"/>
<use href="#p" x="584" y="193"/>
<use href="#n" x="607" y="190"/>
<use href="#n" x="594" y="198"/>
<use href="#n" x="592" y="194"/>
<use href="#n" x="589" y="180"/>
<use href="#n" x="597" y="200"/>
<use href="#n" x="580" y="205"/>
<use href="#n" x="649" y="195"/>
<use href="#n" x="637" y="204"/>
<use href="#n" x="619" y="190"/>
<use href="#n" x="611" y="188"/>
<use href="#n" x="621" y="195"/>
<use href="#p" x="600" y="229"/>
<use href="#p" x="606" y="242"/>
<use href="#n" x="599" y="239"/>
<use href="#p" x="599" y="234"/>
<use href="#n" x="604" y="238"/>
<use href="#n" x="604" y="245"/>
<use href="#n" x="589" y="226"/>
<use href="#n" x="617" y="236"/>
<use href="#p" x="620" y="241"/>
<use href="#p" x="605" y="247"/>
<use href="#p" x="617" y="244"/>
<use href="#p" x="613" y="258"/>
<use href="#n" x="630" y="236"/>
<use href="#n" x="620" y="237"/>
<use href="#p" x="617" y="237"/>
<use href="#n" x="590" y="261"/>
<use href="#p" x="607" y="260"/>
<use href="#n" x="591" y="234"/>
<use href="#p" x="608" y="263"/>
<use href="#n" x="595" y="225"/>
<use href="#n" x="606" y="256"/>
<use href="#n" x="617" y="233"/>
<use href="#n" x="600" y="222"/>
<use href="#n" x="618" y="238"/>
<use href="#n" x="598" y="245"/>
<use href="#n" x="605" y="252"/>
<use href="#n" x="617" y="237"/>
<use href="#n" x="604" y="230"/>
<use href="#n" x="608" y="228"/>
<use href="#n" x="615" y="242"/>
<use href="#p" x="601" y="241"/>
<use href="#n" x="597" y="242"/>
<use href="#n" x="616" y="230"/>
<use href="#n" x="594" y="239"/>
<use href="#p" x="597" y="252"/>
<use href="#p" x="610" y="243"/>
<use href="#n" x="590" y="234"/>
<use href="#n" x="619" y="244"/>
<use href="#n" x="607" y="225"/>
<use href="#n" x="600" y="261"/>
<use href="#n" x="607" y="228"/>
<use href="#p" x="611" y="241"/>
<use href="#n" x="613" y="232"/>
<use href="#n" x="591" y="257"/>
<use href="#n" x="603" y="250"/>
<use href="#p" x="598" y="235"/>
<use href="#n" x="599" y="241"/>
<use href="#p" x="620" y="237"/>
<use href="#p" x="610" y="227"/>
<use href="#n" x="602" y="257"/>
<use href="#n" x="602" y="244"/>
<use href="#n" x="618" y="249"/>
<use href="#n" x="602" y="221"/>
<use href="#p" x="601" y="217"/>
<use href="#n" x="610" y="232"/>
<use href="#n" x="591" y="227"/>
<use href="#n" x="583" y="217"/>
<use href="#n" x="600" y="232"/>
<use href="#n" x="614" y="223"/>
<use href="#n" x="590" y="215"/>
<use href="#n" x="594" y="218"/>
<use href="#n" x="591" y="219"/>
<use href="#n" x="602" y="225"/>
<use href="#p" x="592" y="225"/>
<use href="#n" x="598" y="218"/>
<use href="#n" x="593" y="214"/>
<use href="#p" x="613" y="217"/>
<use href="#p" x="615" y="223"/>
<use href="#p" x="603" y="234"/>
<use href="#n" x="607" y="215"/>
<use href="#n" x="604" y="226"/>
<use href="#n" x="607" y="238"/>
<use href="#n" x="620" y="239"/>
<use href="#p" x="620" y="238"/>
<use href="#n" x="620" y="232"/>
<use href="#p" x="622" y="236"/>
<use href="#n" x="619" y="235"/>
<use href="#n" x="621" y="244"/>
<use href="#n" x="632" y="241"/>
<use href="#n" x="625" y="242"/>
<use href="#p" x="602" y="251"/>
<use href="#n" x="589" y="249"/>
<use href="#n" x="585" y="251"/>
<use href="#n" x="597" y="258"/>
<use href="#n" x="554" y="322"/>
<use href="#p" x="558" y="324"/>
<use href="#n" x="535" y="318"/>
<use href="#n" x="562" y="324"/>
<use href="#n" x="550" y="341"/>
<use href="#n" x="571" y="315"/>
<use href="#p" x="540" y="309"/>
<use href="#p" x="542" y="312"/>
<use href="#n" x="557" y="325"/>
<use href="#n" x="540" y="327"/>
<use href="#n" x="550" y="334"/>
<use href="#n" x="569" y="320"/>
<use href="#n" x="547" y="323"/>
<use href="#n" x="568" y="335"/>
<use href="#n" x="577" y="316"/>
<use href="#n" x="544" y="321"/>
<use href="#n" x="544" y="334"/>
<use href="#n" x="564" y="308"/>
<use href="#n" x="581" y="321"/>
<use href="#n" x="567" y="332"/>
<use href="#n" x="547" y="308"/>
<use href="#p" x="540" y="337"/>
<use href="#n" x="556" y="324"/>
<use href="#n" x="577" y="309"/>
<use href="#p" x="564" y="311"/>
<use href="#n" x="576" y="322"/>
<use href="#p" x="543" y="322"/>
<use href="#p" x="562" y="328"/>
<use href="#n" x="537" y="312"/>
<use href="#p" x="534" y="334"/>
<use href="#n" x="567" y="309"/>
<use href="#n" x="556" y="300"/>
<use href="#p" x="555" y="303"/>
<use href="#p" x="561" y="315"/>
<use href="#n" x="565" y="320"/>
<use href="#n" x="571" y="318"/>
<use href="#n" x="558" y="326"/>
<use href="#p" x="573" y="309"/>
<use href="#n" x="556" y="315"/>
<use href="#n" x="543" y="340"/>
<use href="#n" x="534" y="324"/>
<use href="#p" x="536" y="317"/>
<use href="#p" x="545" y="314"/>
<use href="#n" x="551" y="320"/>
<use href="#p" x="575" y="323"/>
<use href="#p" x="556" y="320"/>
<use href="#n" x="542" y="311"/>
<use href="#n" x="546" y="328"/>
<use href="#n" x="567" y="333"/>
<use href="#n" x="561" y="305"/>
<use href="#n" x="556" y="318"/>
<use href="#n" x="560" y="330"/>
<use href="#n" x="555" y="325"/>
<use href="#p" x="567" y="327"/>
<use href="#n" x="535" y="327"/>
<use href="#n" x="566" y="334"/>
<use href="#n" x="551" y="325"/>
<use href="#p" x="559" y="328"/>
<use href="#n" x="563" y="307"/>
<use href="#n" x="543" y="316"/>
<use href="#n" x="550" y="315"/>
<use href="#p" x="551" y="322"/>
<use href="#n" x="569" y="324"/>
<use href="#n" x="559" y="337"/>
<use href="#n" x="559" y="330"/>
<use href="#p" x="557" y="319"/>
<use href="#p" x="564" y="318"/>
<use href="#n" x="561" y="323"/>
<use href="#p" x="544" y="315"/>
<use href="#n" x="556" y="329"/>
<use href="#p" x="551" y="333"/>
<use href="#p" x="538" y="311"/>
<use href="#n" x="546" y="337"/>
<use href="#p" x="561" y="314"/>
<use href="#p" x="539" y="311"/>
<use href="#n" x="544" y="328"/>
<use href="#n" x="553" y="318"/>
<use href="#n" x="571" y="331"/>
<use href="#n" x="563" y="338"/>
<use href="#p" x="573" y="336"/>
<use href="#n" x="583" y="301"/>
<use href="#n" x="569" y="298"/>
<use href="#n" x="579" y="298"/>
<use href="#p" x="565" y="298"/>
<use href="#n" x="577" y="294"/>
<use href="#p" x="575" y="301"/>
<use href="#n" x="573" y="301"/>
<use href="#n" x="581" y="309"/>
<use href="#n" x="568" y="307"/>
<use href="#n" x="577" y="312"/>
<use href="#n" x="548" y="328"/>
<use href="#p" x="554" y="325"/>
<use href="#n" x="550" y="314"/>
<use href="#p" x="545" y="316"/>
<use href="#n" x="553" y="333"/>
<use href="#n" x="536" y="333"/>
<use href="#n" x="552" y="326"/>
<use href="#p" x="606" y="322"/>
<use href="#p" x="579" y="333"/>
<use href="#n" x="577" y="336"/>
<use href="#p" x="554" y="355"/>
<use href="#n" x="541" y="367"/>
<use href="#p" x="510" y="370"/>
<use href="#n" x="646" y="319"/>
<use href="#n" x="669" y="307"/>
<use href="#n" x="645" y="315"/>
<use href="#n" x="656" y="330"/>
<use href="#n" x="680" y="301"/>
<use href="#n" x="683" y="301"/>
<use href="#n" x="691" y="292"/>
<use href="#p" x="623" y="331"/>
<use href="#n" x="755" y="280"/>
<use href="#p" x="802" y="281"/>
</g>
<g fill="#ffb400">
<use href="#p" x="362" y="100"/>
<use href="#p" x="374" y="108"/>
<use href="#p" x="361" y="107"/>
<use href="#n" x="378" y="94"/>
<use href="#p" x="366" y="100"/>
<use href="#p" x="371" y="90"/>
<use href="#p" x="363" y="94"/>
<use href="#n" x="377" y="94"/>
<use href="#p" x="383" y="102"/>
<use href="#p" x="377" y="100"/>
<use href="#p" x="379" y="94"/>
<use href="#n" x="362" y="125"/>
<use href="#n" x="365" y="137"/>
<use href="#p" x="350" y="130"/>
<use href="#n" x="385" y="119"/>
<use href="#n" x="383" y="141"/>
<use href="#n" x="383" y="120"/>
<use href="#p" x="380" y="132"/>
<use href="#p" x="364" y="121"/>
<use href="#n" x="382" y="121"/>
<use href="#p" x="363" y="119"/>
<use href="#n" x="363" y="121"/>
<use href="#n" x="380" y="132"/>
<use href="#n" x="386" y="128"/>
<use href="#n" x="357" y="137"/>
<use href="#p" x="367" y="118"/>
<use href="#n" x="372" y="120"/>
<use href="#n" x="369" y="126"/>
<use href="#n" x="365" y="135"/>
<use href="#n" x="363" y="117"/>
<use href="#p" x="377" y="112"/>
<use href="#n" x="386" y="139"/>
<use href="#n" x="386" y="135"/>
<use href="#n" x="383" y="132"/>
<use href="#n" x="388" y="143"/>
<use href="#n" x="384" y="134"/>
<use href="#n" x="384" y="128"/>
<use href="#n" x="382" y="126"/>
<use href="#p" x="395" y="134"/>
<use href="#n" x="381" y="135"/>
<use href="#p" x="362" y="120"/>
<use href="#n" x="352" y="115"/>
<use href="#p" x="381" y="115"/>
<use href="#p" x="360" y="112"/>
<use href="#n" x="373" y="114"/>
<use href="#p" x="383" y="104"/>
<use href="#n" x="378" y="109"/>
<use href="#p" x="403" y="82"/>
<use href="#p" x="399" y="94"/>
<use href="#p" x="392" y="95"/>
<use href="#p" x="395" y="106"/>
<use href="#n" x="400" y="94"/>
<use href="#n" x="411" y="32"/>
<use href="#n" x="331" y="62"/>
<use href="#n" x="410" y="139"/>
<use href="#n" x="411" y="106"/>
<use href="#n" x="395" y="152"/>
<use href="#n" x="418" y="110"/>
<use href="#n" x="353" y="94"/>
<use href="#n" x="363" y="88"/>
<use href="#n" x="341" y="95"/>
<use href="#n" x="400" y="83"/>
<use href="#n" x="636" y="231"/>
<use href="#p" x="638" y="232"/>
<use href="#n" x="555" y="176"/>
<use href="#n" x="550" y="183"/>
<use href="#p" x="581" y="171"/>
<use href="#n" x="598" y="172"/>
<use href="#n" x="594" y="180"/>
<use href="#n" x="568" y="205"/>
<use href="#p" x="619" y="187"/>
<use href="#n" x="588" y="214"/>
<use href="#p" x="619" y="168"/>
<use href="#p" x="611" y="186"/>
<use href="#n" x="593" y="202"/>
<use href="#n" x="622" y="201"/>
<use href="#n" x="608" y="180"/>
<use href="#n" x="589" y="181"/>
<use href="#p" x="575" y="199"/>
<use href="#p" x="593" y="208"/>
<use href="#n" x="610" y="176"/>
<use href="#n" x="601" y="204"/>
<use href="#n" x="598" y="196"/>
<use href="#p" x="634" y="184"/>
<use href="#p" x="597" y="218"/>
<use href="#n" x="615" y="190"/>
<use href="#p" x="613" y="195"/>
<use href="#n" x="614" y="194"/>
<use href="#n" x="584" y="200"/>
<use href="#n" x="615" y="192"/>
<use href="#n" x="583" y="187"/>
<use href="#n" x="595" y="186"/>
<use href="#n" x="611" y="247"/>
<use href="#p" x="629" y="248"/>
<use href="#p" x="589" y="246"/>
<use href="#p" x="583" y="242"/>
<use href="#n" x="611" y="238"/>
<use href="#n" x="600" y="248"/>
<use href="#n" x="594" y="252"/>
<use href="#p" x="607" y="229"/>
<use href="#p" x="622" y="247"/>
<use href="#n" x="590" y="246"/>
<use href="#p" x="605" y="253"/>
<use href="#p" x="606" y="246"/>
<use href="#n" x="620" y="233"/>
<use href="#n" x="610" y="254"/>
<use href="#n" x="586" y="237"/>
<use href="#n" x="611" y="243"/>
<use href="#n" x="597" y="252"/>
<use href="#n" x="602" y="254"/>
<use href="#n" x="597" y="259"/>
<use href="#n" x="595" y="256"/>
<use href="#p" x="598" y="238"/>
<use href="#p" x="588" y="234"/>
<use href="#n" x="595" y="236"/>
<use href="#n" x="624" y="231"/>
<use href="#n" x="611" y="237"/>
<use href="#n" x="600" y="220"/>
<use href="#n" x="610" y="220"/>
<use href="#p" x="589" y="220"/>
<use href="#p" x="582" y="223"/>
<use href="#n" x="600" y="211"/>
<use href="#n" x="582" y="221"/>
<use href="#p" x="595" y="247"/>
<use href="#n" x="589" y="238"/>
<use href="#p" x="590" y="250"/>
<use href="#p" x="590" y="250"/>
<use href="#n" x="580" y="243"/>
<use href="#n" x="598" y="240"/>
<use href="#n" x="595" y="244"/>
<use href="#p" x="603" y="246"/>
<use href="#p" x="597" y="235"/>
<use href="#n" x="588" y="240"/>
<use href="#p" x="586" y="239"/>
<use href="#n" x="590" y="231"/>
<use href="#n" x="583" y="245"/>
<use href="#n" x="594" y="242"/>
<use href="#n" x="580" y="245"/>
<use href="#p" x="601" y="253"/>
<use href="#n" x="564" y="192"/>
<use href="#n" x="565" y="192"/>
<use href="#n" x="584" y="234"/>
<use href="#p" x="591" y="234"/>
<use href="#p" x="587" y="227"/>
<use href="#n" x="577" y="230"/>
<use href="#n" x="591" y="234"/>
<use href="#p" x="581" y="231"/>
<use href="#p" x="545" y="322"/>
<use href="#p" x="538" y="326"/>
<use href="#n" x="546" y="333"/>
<use href="#p" x="553" y="318"/>
<use href="#n" x="564" y="332"/>
<use href="#n" x="558" y="330"/>
<use href="#p" x="565" y="315"/>
<use href="#n" x="564" y="328"/>
<use href="#n" x="568" y="333"/>
<use href="#n" x="553" y="327"/>
<use href="#n" x="549" y="341"/>
<use href="#n" x="548" y="324"/>
<use href="#n" x="562" y="316"/>
<use href="#n" x="551" y="322"/>
<use href="#n" x="571" y="319"/>
<use href="#p" x="558" y="329"/>
<use href="#n" x="541" y="333"/>
<use href="#p" x="551" y="304"/>
<use href="#p" x="545" y="323"/>
<use href="#n" x="555" y="314"/>
<use href="#n" x="550" y="322"/>
<use href="#n" x="549" y="320"/>
<use href="#p" x="562" y="328"/>
<use href="#p" x="544" y="315"/>
<use href="#p" x="555" y="314"/>
<use href="#p" x="567" y="305"/>
<use href="#n" x="582" y="297"/>
<use href="#p" x="579" y="286"/>
<use href="#n" x="585" y="283"/>
<use href="#n" x="576" y="293"/>
<use href="#n" x="578" y="300"/>
<use href="#n" x="579" y="292"/>
<use href="#n" x="578" y="289"/>
<use href="#n" x="578" y="291"/>
<use href="#p" x="583" y="289"/>
<use href="#n" x="579" y="294"/>
<use href="#n" x="579" y="293"/>
<use href="#n" x="581" y="285"/>
<use href="#n" x="580" y="283"/>
<use href="#n" x="580" y="311"/>
<use href="#p" x="581" y="306"/>
<use href="#n" x="578" y="305"/>
<use href="#n" x="577" y="309"/>
<use href="#n" x="568" y="308"/>
<use href="#p" x="578" y="303"/>
<use href="#p" x="567" y="298"/>
<use href="#p" x="578" y="301"/>
<use href="#n" x="577" y="296"/>
<use href="#p" x="577" y="299"/>
<use href="#n" x="564" y="308"/>
<use href="#n" x="546" y="324"/>
<use href="#p" x="550" y="320"/>
<use href="#p" x="556" y="325"/>
<use href="#p" x="543" y="318"/>
<use href="#p" x="540" y="323"/>
<use href="#p" x="544" y="321"/>
<use href="#n" x="554" y="326"/>
<use href="#n" x="547" y="320"/>
<use href="#n" x="543" y="325"/>
<use href="#n" x="556" y="323"/>
<use href="#n" x="546" y="320"/>
<use href="#n" x="486" y="343"/>
<use href="#n" x="482" y="349"/>
<use href="#n" x="506" y="356"/>
<use href="#p" x="464" y="358"/>
<use href="#p" x="498" y="351"/>
<use href="#n" x="485" y="352"/>
<use href="#p" x="497" y="348"/>
<use href="#n" x="481" y="352"/>
<use href="#n" x="489" y="349"/>
<use href="#n" x="486" y="363"/>
<use href="#n" x="474" y="361"/>
<use href="#n" x="593" y="308"/>
<use href="#j" x="592" y="313"/>
<use href="#n" x="470" y="381"/>
<use href="#p" x="465" y="349"/>
<use href="#n" x="461" y="350"/>
<use href="#n" x="468" y="350"/>
<use href="#n" x="661" y="309"/>
<use href="#p" x="664" y="321"/>
<use href="#n" x="665" y="320"/>
<use href="#p" x="657" y="309"/>
<use href="#n" x="660" y="323"/>
<use href="#n" x="660" y="305"/>
<use href="#n" x="652" y="317"/>
<use href="#n" x="662" y="298"/>
<use href="#j" x="640" y="310"/>
<use href="#n" x="646" y="313"/>
<use href="#n" x="636" y="320"/>
<use href="#n" x="632" y="325"/>
<use href="#n" x="651" y="321"/>
<use href="#n" x="652" y="325"/>
<use href="#n" x="666" y="325"/>
<use href="#n" x="652" y="339"/>
<use href="#j" x="673" y="311"/>
<use href="#n" x="620" y="322"/>
</g>
<g fill="#ffdc00">
<use href="#n" x="367" y="143"/>
<use href="#n" x="364" y="139"/>
<use href="#p" x="355" y="143"/>
<use href="#p" x="361" y="143"/>
<use href="#n" x="395" y="92"/>
<use href="#n" x="386" y="95"/>
<use href="#n" x="397" y="107"/>
<use href="#p" x="392" y="90"/>
<use href="#n" x="327" y="75"/>
<use href="#p" x="413" y="90"/>
<use href="#n" x="405" y="100"/>
<use href="#n" x="404" y="93"/>
<use href="#n" x="370" y="94"/>
<use href="#n" x="575" y="176"/>
<use href="#n" x="588" y="180"/>
<use href="#n" x="618" y="188"/>
<use href="#n" x="590" y="197"/>
<use href="#n" x="595" y="192"/>
<use href="#n" x="591" y="186"/>
<use href="#n" x="578" y="185"/>
<use href="#n" x="590" y="188"/>
<use href="#n" x="573" y="176"/>
<use href="#n" x="564" y="187"/>
<use href="#n" x="589" y="198"/>
<use href="#n" x="583" y="179"/>
<use href="#n" x="591" y="186"/>
<use href="#n" x="580" y="195"/>
<use href="#n" x="568" y="189"/>
<use href="#n" x="568" y="187"/>
<use href="#n" x="572" y="204"/>
<use href="#n" x="579" y="199"/>
<use href="#p" x="578" y="183"/>
<use href="#n" x="548" y="226"/>
<use href="#n" x="555" y="230"/>
<use href="#p" x="559" y="223"/>
<use href="#n" x="552" y="244"/>
<use href="#n" x="551" y="234"/>
<use href="#n" x="568" y="237"/>
<use href="#n" x="567" y="240"/>
<use href="#n" x="543" y="235"/>
<use href="#n" x="551" y="241"/>
<use href="#n" x="566" y="238"/>
<use href="#n" x="552" y="254"/>
<use href="#n" x="557" y="218"/>
<use href="#p" x="565" y="218"/>
<use href="#p" x="557" y="237"/>
<use href="#p" x="549" y="231"/>
<use href="#p" x="556" y="241"/>
<use href="#p" x="563" y="206"/>
<use href="#n" x="564" y="206"/>
<use href="#n" x="558" y="200"/>
<use href="#p" x="573" y="204"/>
<use href="#n" x="568" y="199"/>
<use href="#p" x="556" y="197"/>
<use href="#p" x="556" y="197"/>
<use href="#p" x="556" y="199"/>
<use href="#p" x="555" y="199"/>
<use href="#n" x="559" y="195"/>
<use href="#p" x="559" y="198"/>
<use href="#n" x="567" y="231"/>
<use href="#p" x="576" y="218"/>
<use href="#p" x="577" y="223"/>
<use href="#n" x="572" y="223"/>
<use href="#n" x="573" y="221"/>
<use href="#n" x="578" y="226"/>
<use href="#n" x="577" y="226"/>
<use href="#n" x="581" y="235"/>
<use href="#n" x="586" y="227"/>
<use href="#n" x="590" y="227"/>
<use href="#n" x="591" y="231"/>
<use href="#p" x="587" y="228"/>
<use href="#n" x="551" y="319"/>
<use href="#n" x="549" y="309"/>
<use href="#p" x="540" y="321"/>
<use href="#n" x="554" y="328"/>
<use href="#n" x="535" y="324"/>
<use href="#n" x="549" y="311"/>
<use href="#p" x="554" y="327"/>
<use href="#n" x="559" y="327"/>
<use href="#n" x="557" y="319"/>
<use href="#n" x="555" y="318"/>
<use href="#n" x="542" y="318"/>
<use href="#n" x="546" y="322"/>
<use href="#n" x="474" y="362"/>
<use href="#n" x="479" y="360"/>
<use href="#n" x="490" y="354"/>
<use href="#n" x="487" y="346"/>
<use href="#n" x="487" y="348"/>
<use href="#n" x="488" y="349"/>
<use href="#n" x="496" y="349"/>
<use href="#n" x="489" y="348"/>
<use href="#n" x="489" y="352"/>
<use href="#n" x="494" y="352"/>
<use href="#n" x="505" y="355"/>
<use href="#n" x="473" y="352"/>
<use href="#n" x="472" y="361"/>
<use href="#n" x="496" y="356"/>
<use href="#n" x="477" y="356"/>
<use href="#p" x="473" y="348"/>
<use href="#p" x="488" y="356"/>
<use href="#p" x="488" y="342"/>
<use href="#n" x="474" y="354"/>
<use href="#n" x="487" y="356"/>
<use href="#n" x="497" y="350"/>
<use href="#n" x="496" y="347"/>
<use href="#p" x="483" y="356"/>
<use href="#n" x="481" y="349"/>
<use href="#n" x="490" y="349"/>
<use href="#n" x="480" y="341"/>
<use href="#n" x="472" y="355"/>
<use href="#n" x="480" y="352"/>
<use href="#n" x="473" y="349"/>
<use href="#n" x="526" y="335"/>
<use href="#n" x="523" y="341"/>
<use href="#n" x="513" y="341"/>
<use href="#n" x="513" y="326"/>
<use href="#n" x="527" y="337"/>
<use href="#n" x="530" y="325"/>
<use href="#n" x="513" y="338"/>
<use href="#n" x="526" y="327"/>
<use href="#n" x="512" y="342"/>
<use href="#n" x="513" y="325"/>
<use href="#n" x="516" y="346"/>
<use href="#n" x="523" y="320"/>
<use href="#n" x="514" y="327"/>
<use href="#n" x="507" y="338"/>
<use href="#n" x="521" y="323"/>
<use href="#p" x="514" y="320"/>
<use href="#n" x="515" y="327"/>
<use href="#n" x="508" y="325"/>
<use href="#n" x="513" y="333"/>
<use href="#n" x="517" y="333"/>
<use href="#p" x="532" y="329"/>
<use href="#p" x="529" y="337"/>
<use href="#p" x="528" y="340"/>
<use href="#n" x="534" y="325"/>
<use href="#n" x="541" y="338"/>
<use href="#n" x="531" y="329"/>
<use href="#n" x="529" y="324"/>
<use href="#n" x="529" y="327"/>
<use href="#n" x="545" y="329"/>
<use href="#p" x="535" y="330"/>
<use href="#n" x="532" y="337"/>
<use href="#n" x="536" y="329"/>
<use href="#n" x="527" y="338"/>
<use href="#n" x="525" y="326"/>
<use href="#n" x="535" y="338"/>
<use href="#n" x="507" y="309"/>
<use href="#n" x="514" y="317"/>
<use href="#p" x="514" y="317"/>
<use href="#n" x="515" y="315"/>
<use href="#p" x="518" y="314"/>
<use href="#p" x="515" y="314"/>
<use href="#p" x="559" y="328"/>
<use href="#n" x="559" y="331"/>
<use href="#p" x="556" y="331"/>
<use href="#n" x="555" y="331"/>
<use href="#n" x="553" y="335"/>
<use href="#n" x="558" y="329"/>
<use href="#n" x="562" y="329"/>
<use href="#n" x="601" y="314"/>
<use href="#n" x="592" y="322"/>
<use href="#p" x="646" y="304"/>
<use href="#n" x="650" y="326"/>
<use href="#p" x="668" y="310"/>
<use href="#n" x="659" y="289"/>
<use href="#n" x="669" y="300"/>
<use href="#p" x="653" y="307"/>
<use href="#n" x="801" y="250"/>
<use href="#n" x="772" y="275"/>
<use href="#i" x="793" y="290"/>
<use href="#p" x="711" y="298"/>
<use href="#n" x="702" y="304"/>
<use href="#n" x="705" y="89"/>
</g>
<g fill="#ffff00">
<use href="#p" x="364" y="139"/>
<use href="#n" x="363" y="143"/>
<use href="#n" x="366" y="138"/>
<use href="#p" x="365" y="139"/>
<use href="#p" x="358" y="141"/>
<use href="#n" x="359" y="141"/>
<use href="#n" x="375" y="158"/>
<use href="#n" x="372" y="148"/>
<use href="#p" x="369" y="143"/>
<use href="#n" x="418" y="195"/>
<use href="#n" x="527" y="216"/>
<use href="#n" x="529" y="240"/>
<use href="#p" x="533" y="252"/>
<use href="#n" x="563" y="261"/>
<use href="#n" x="546" y="244"/>
<use href="#n" x="567" y="239"/>
<use href="#n" x="537" y="229"/>
<use href="#n" x="561" y="245"/>
<use href="#n" x="553" y="237"/>
<use href="#p" x="545" y="231"/>
<use href="#n" x="551" y="244"/>
<use href="#p" x="537" y="235"/>
<use href="#n" x="560" y="241"/>
<use href="#p" x="537" y="229"/>
<use href="#n" x="557" y="246"/>
<use href="#p" x="549" y="245"/>
<use href="#n" x="556" y="243"/>
<use href="#n" x="548" y="227"/>
<use href="#n" x="551" y="222"/>
<use href="#n" x="543" y="217"/>
<use href="#n" x="543" y="237"/>
<use href="#n" x="552" y="221"/>
<use href="#n" x="558" y="237"/>
<use href="#n" x="564" y="233"/>
<use href="#n" x="566" y="238"/>
<use href="#n" x="559" y="241"/>
<use href="#p" x="558" y="240"/>
<use href="#n" x="542" y="229"/>
<use href="#p" x="550" y="234"/>
<use href="#n" x="546" y="240"/>
<use href="#n" x="557" y="238"/>
<use href="#n" x="545" y="218"/>
<use href="#n" x="555" y="225"/>
<use href="#p" x="556" y="232"/>
<use href="#n" x="555" y="244"/>
<use href="#p" x="552" y="225"/>
<use href="#p" x="541" y="238"/>
<use href="#n" x="563" y="225"/>
<use href="#n" x="547" y="217"/>
<use href="#n" x="548" y="231"/>
<use href="#n" x="547" y="234"/>
<use href="#n" x="542" y="240"/>
<use href="#n" x="544" y="236"/>
<use href="#n" x="554" y="246"/>
<use href="#n" x="552" y="223"/>
<use href="#n" x="556" y="227"/>
<use href="#p" x="562" y="234"/>
<use href="#n" x="555" y="227"/>
<use href="#n" x="563" y="227"/>
<use href="#p" x="569" y="234"/>
<use href="#p" x="552" y="241"/>
<use href="#n" x="538" y="235"/>
<use href="#n" x="549" y="246"/>
<use href="#n" x="551" y="229"/>
<use href="#p" x="545" y="233"/>
<use href="#n" x="555" y="223"/>
<use href="#n" x="539" y="237"/>
<use href="#p" x="545" y="225"/>
<use href="#n" x="545" y="227"/>
<use href="#n" x="555" y="228"/>
<use href="#n" x="564" y="204"/>
<use href="#p" x="572" y="201"/>
<use href="#n" x="570" y="210"/>
<use href="#n" x="568" y="214"/>
<use href="#n" x="575" y="201"/>
<use href="#n" x="554" y="208"/>
<use href="#n" x="568" y="219"/>
<use href="#p" x="573" y="207"/>
<use href="#p" x="568" y="205"/>
<use href="#n" x="556" y="200"/>
<use href="#p" x="572" y="210"/>
<use href="#p" x="569" y="200"/>
<use href="#p" x="567" y="203"/>
<use href="#n" x="564" y="210"/>
<use href="#n" x="562" y="197"/>
<use href="#p" x="565" y="209"/>
<use href="#n" x="563" y="198"/>
<use href="#n" x="572" y="239"/>
<use href="#p" x="583" y="227"/>
<use href="#n" x="577" y="227"/>
<use href="#n" x="568" y="231"/>
<use href="#n" x="576" y="232"/>
<use href="#n" x="578" y="238"/>
<use href="#p" x="592" y="231"/>
<use href="#n" x="585" y="234"/>
<use href="#n" x="588" y="236"/>
<use href="#p" x="584" y="228"/>
<use href="#n" x="581" y="228"/>
<use href="#p" x="515" y="343"/>
<use href="#n" x="520" y="336"/>
<use href="#n" x="512" y="337"/>
<use href="#n" x="506" y="320"/>
<use href="#n" x="520" y="321"/>
<use href="#n" x="512" y="331"/>
<use href="#n" x="503" y="332"/>
<use href="#p" x="529" y="339"/>
<use href="#n" x="521" y="344"/>
<use href="#p" x="508" y="329"/>
<use href="#p" x="505" y="330"/>
<use href="#p" x="518" y="329"/>
<use href="#n" x="516" y="351"/>
<use href="#p" x="516" y="337"/>
<use href="#p" x="518" y="328"/>
<use href="#n" x="514" y="337"/>
<use href="#n" x="516" y="337"/>
<use href="#p" x="520" y="331"/>
<use href="#p" x="527" y="331"/>
<use href="#n" x="523" y="336"/>
<use href="#p" x="533" y="326"/>
<use href="#n" x="527" y="317"/>
<use href="#n" x="516" y="321"/>
<use href="#n" x="524" y="321"/>
<use href="#n" x="512" y="335"/>
<use href="#n" x="512" y="334"/>
<use href="#n" x="530" y="340"/>
<use href="#n" x="513" y="348"/>
<use href="#n" x="527" y="322"/>
<use href="#n" x="527" y="344"/>
<use href="#n" x="512" y="328"/>
<use href="#p" x="501" y="342"/>
<use href="#n" x="514" y="321"/>
<use href="#n" x="536" y="334"/>
<use href="#p" x="530" y="335"/>
<use href="#p" x="511" y="329"/>
<use href="#n" x="508" y="324"/>
<use href="#p" x="538" y="330"/>
<use href="#n" x="529" y="327"/>
<use href="#n" x="523" y="314"/>
<use href="#p" x="530" y="330"/>
<use href="#n" x="526" y="343"/>
<use href="#n" x="522" y="336"/>
<use href="#p" x="519" y="326"/>
<use href="#p" x="526" y="324"/>
<use href="#n" x="522" y="327"/>
<use href="#n" x="511" y="342"/>
<use href="#p" x="511" y="335"/>
<use href="#n" x="512" y="333"/>
<use href="#n" x="530" y="338"/>
<use href="#n" x="509" y="334"/>
<use href="#n" x="510" y="339"/>
<use href="#n" x="523" y="328"/>
<use href="#n" x="510" y="332"/>
<use href="#n" x="507" y="332"/>
<use href="#n" x="526" y="341"/>
<use href="#n" x="520" y="337"/>
<use href="#p" x="532" y="326"/>
<use href="#n" x="522" y="331"/>
<use href="#p" x="510" y="324"/>
<use href="#p" x="522" y="337"/>
<use href="#n" x="524" y="327"/>
<use href="#n" x="515" y="326"/>
<use href="#n" x="519" y="331"/>
<use href="#n" x="494" y="331"/>
<use href="#p" x="507" y="330"/>
<use href="#n" x="499" y="330"/>
<use href="#p" x="499" y="323"/>
<use href="#p" x="497" y="329"/>
<use href="#n" x="498" y="326"/>
<use href="#p" x="503" y="332"/>
<use href="#n" x="504" y="329"/>
<use href="#n" x="497" y="327"/>
<use href="#n" x="498" y="333"/>
<use href="#n" x="499" y="326"/>
<use href="#p" x="499" y="325"/>
<use href="#n" x="501" y="319"/>
<use href="#p" x="496" y="328"/>
<use href="#n" x="501" y="327"/>
<use href="#n" x="500" y="324"/>
<use href="#n" x="499" y="322"/>
<use href="#n" x="500" y="324"/>
<use href="#n" x="493" y="332"/>
<use href="#n" x="499" y="324"/>
<use href="#n" x="496" y="331"/>
<use href="#n" x="501" y="333"/>
<use href="#n" x="500" y="324"/>
<use href="#n" x="499" y="334"/>
<use href="#p" x="496" y="330"/>
<use href="#p" x="496" y="321"/>
<use href="#p" x="504" y="324"/>
<use href="#n" x="501" y="322"/>
<use href="#n" x="496" y="330"/>
<use href="#n" x="498" y="330"/>
<use href="#n" x="503" y="331"/>
<use href="#n" x="498" y="325"/>
<use href="#p" x="497" y="326"/>
<use href="#p" x="501" y="335"/>
<use href="#n" x="495" y="325"/>
<use href="#n" x="502" y="331"/>
<use href="#p" x="501" y="328"/>
<use href="#p" x="503" y="328"/>
<use href="#n" x="496" y="325"/>
<use href="#n" x="496" y="327"/>
<use href="#n" x="539" y="335"/>
<use href="#n" x="537" y="340"/>
<use href="#n" x="523" y="339"/>
<use href="#n" x="534" y="324"/>
<use href="#p" x="540" y="327"/>
<use href="#n" x="539" y="336"/>
<use href="#p" x="525" y="333"/>
<use href="#n" x="528" y="332"/>
<use href="#n" x="540" y="339"/>
<use href="#n" x="528" y="337"/>
<use href="#n" x="536" y="339"/>
<use href="#p" x="534" y="343"/>
<use href="#p" x="544" y="328"/>
<use href="#n" x="529" y="325"/>
<use href="#n" x="536" y="326"/>
<use href="#n" x="530" y="339"/>
<use href="#n" x="533" y="330"/>
<use href="#n" x="537" y="327"/>
<use href="#n" x="529" y="332"/>
<use href="#n" x="541" y="338"/>
<use href="#p" x="530" y="327"/>
<use href="#n" x="529" y="330"/>
<use href="#p" x="530" y="327"/>
<use href="#p" x="538" y="330"/>
<use href="#p" x="544" y="334"/>
<use href="#n" x="521" y="337"/>
<use href="#p" x="535" y="333"/>
<use href="#n" x="524" y="331"/>
<use href="#n" x="526" y="332"/>
<use href="#n" x="538" y="332"/>
<use href="#n" x="536" y="334"/>
<use href="#n" x="521" y="347"/>
<use href="#p" x="516" y="346"/>
<use href="#n" x="517" y="350"/>
<use href="#n" x="515" y="347"/>
<use href="#n" x="521" y="346"/>
<use href="#n" x="512" y="345"/>
<use href="#n" x="522" y="353"/>
<use href="#p" x="511" y="350"/>
<use href="#n" x="522" y="350"/>
<use href="#p" x="515" y="345"/>
<use href="#p" x="521" y="353"/>
<use href="#n" x="515" y="347"/>
<use href="#n" x="518" y="349"/>
<use href="#n" x="520" y="355"/>
<use href="#n" x="520" y="351"/>
<use href="#p" x="525" y="350"/>
<use href="#p" x="510" y="346"/>
<use href="#p" x="519" y="351"/>
<use href="#p" x="523" y="350"/>
<use href="#n" x="521" y="347"/>
<use href="#n" x="518" y="346"/>
<use href="#n" x="524" y="352"/>
<use href="#n" x="518" y="349"/>
<use href="#n" x="523" y="346"/>
<use href="#p" x="518" y="342"/>
<use href="#n" x="519" y="346"/>
<use href="#n" x="512" y="349"/>
<use href="#n" x="515" y="348"/>
<use href="#n" x="517" y="348"/>
<use href="#n" x="515" y="348"/>
<use href="#n" x="521" y="351"/>
<use href="#n" x="523" y="349"/>
<use href="#n" x="518" y="349"/>
<use href="#n" x="516" y="355"/>
<use href="#n" x="517" y="346"/>
<use href="#n" x="520" y="314"/>
<use href="#n" x="516" y="316"/>
<use href="#n" x="510" y="314"/>
<use href="#n" x="505" y="317"/>
<use href="#n" x="506" y="310"/>
<use href="#p" x="515" y="317"/>
<use href="#n" x="511" y="321"/>
<use href="#n" x="511" y="314"/>
<use href="#n" x="515" y="304"/>
<use href="#p" x="514" y="309"/>
<use href="#n" x="506" y="315"/>
<use href="#n" x="520" y="315"/>
<use href="#n" x="558" y="329"/>
<use href="#n" x="561" y="332"/>
<use href="#p" x="559" y="334"/>
<use href="#p" x="560" y="337"/>
<use href="#p" x="558" y="330"/>
<use href="#i" x="549" y="374"/>
<use href="#n" x="526" y="300"/>
<use href="#n" x="656" y="335"/>
<use href="#p" x="693" y="299"/>
<use href="#n" x="746" y="228"/>
<use href="#n" x="740" y="249"/>
<use href="#n" x="744" y="261"/>
<use href="#n" x="718" y="259"/>
<use href="#n" x="711" y="264"/>
<use href="#n" x="722" y="278"/>
<use href="#n" x="698" y="282"/>
<use href="#p" x="735" y="288"/>
<use href="#n" x="772" y="248"/>
<use href="#p" x="783" y="244"/>
</g>
<g fill="#ff9600">
<use href="#p" x="524" y="336"/>
<use href="#p" x="529" y="328"/>
<use href="#p" x="533" y="321"/>
<use href="#n" x="538" y="328"/>
<use href="#n" x="531" y="325"/>
<use href="#n" x="533" y="333"/>
<use href="#p" x="532" y="337"/>
<use href="#p" x="528" y="317"/>
</g>
<g fill="#ffb400">
<use href="#n" x="558" y="214"/>
<use href="#p" x="564" y="214"/>
<use href="#n" x="567" y="208"/>
<use href="#p" x="539" y="320"/>
<use href="#p" x="538" y="331"/>
<use href="#n" x="517" y="331"/>
<use href="#p" x="526" y="326"/>
<use href="#n" x="524" y="340"/>
<use href="#p" x="521" y="333"/>
<use href="#n" x="515" y="317"/>
<use href="#n" x="533" y="339"/>
<use href="#n" x="543" y="326"/>
<use href="#p" x="521" y="315"/>
<use href="#p" x="538" y="333"/>
<use href="#p" x="523" y="330"/>
<use href="#p" x="518" y="339"/>
<use href="#p" x="538" y="327"/>
<use href="#n" x="518" y="327"/>
</g>
<g fill="#ffdc00">
<use href="#p" x="546" y="223"/>
<use href="#n" x="571" y="214"/>
<use href="#p" x="546" y="229"/>
<use href="#p" x="570" y="219"/>
<use href="#n" x="574" y="219"/>
<use href="#n" x="563" y="217"/>
<use href="#n" x="561" y="232"/>
<use href="#n" x="571" y="226"/>
<use href="#n" x="553" y="208"/>
<use href="#n" x="522" y="318"/>
<use href="#n" x="521" y="328"/>
<use href="#n" x="539" y="326"/>
</g>
<g fill="#00e6e6">
<use href="#n" x="563" y="246"/>
<use href="#n" x="536" y="257"/>
<use href="#n" x="535" y="294"/>
<use href="#p" x="534" y="320"/>
<use href="#n" x="542" y="332"/>
<use href="#p" x="543" y="330"/>
<use href="#n" x="505" y="335"/>
</g>
</g>
<circle cx="407.5" cy="407.5" r="160" fill="none" stroke="#c8c8c8"/>
<circle cx="407.5" cy="407.5" r="280" fill="none" stroke="#c8c8c8"/>
<circle cx="407.5" cy="407.5" r="400" fill="none" stroke="#c8c8c8"/>
<circle cx="407.5" cy="407.5" r="520" fill="none" stroke="#c8c8c8"/>
<circle cx="407.5" cy="407.5" r="39.5" fill="none" stroke="#f00000" stroke-width="1.2"/>
<g font-size="10.7" fill="#ffffb4" text-anchor="middle" shape-rendering="auto" style="font-family:'Liberation Mono',monospace">
<rect x="394.75" y="6" width="21.5" height="3" fill="#5d4f4b"/>
<text x="405.5" y="11" textLength="19.5" lengthAdjust="spacingAndGlyphs">313</text>
<rect x="394.75" y="126" width="21.5" height="3" fill="#5d4f4b"/>
<text x="405.5" y="131" textLength="19.5" lengthAdjust="spacingAndGlyphs">219</text>
<rect x="394.75" y="246" width="21.5" height="3" fill="#5d4f4b"/>
<text x="405.5" y="251" textLength="19.5" lengthAdjust="spacingAndGlyphs">125</text>
<rect x="398.0" y="366" width="15" height="3" fill="#5d4f4b"/>
<text x="405.5" y="371" textLength="13" lengthAdjust="spacingAndGlyphs">31</text>
</g>
<polygon points="735.5,285.0 754.0,301.0 735.5,323.0 715.8,303.4" fill="none" stroke="#00e000" stroke-dasharray="5,5"/>
<polygon points="551.0,207.0 573.0,226.0 553.0,250.0 533.0,231.0" fill="none" stroke="#00e000" stroke-dasharray="5,5"/>
<polygon points="543.0,295.0 563.0,313.0 546.0,333.0 524.0,313.0" fill="none" stroke="#00e000" stroke-dasharray="5,5"/>
<line x1="495" y1="172" x2="541" y2="220" stroke="#d8d8d8"/>
<text x="484.4" y="168.7" font-size="10.7" shape-rendering="auto" style="font-family:'Liberation Mono',monospace" textLength="45" lengthAdjust="spacingAndGlyphs"><tspan fill="#fff">G-975</tspan><tspan fill="#00e6e6">-</tspan><tspan fill="#fff">3</tspan></text>
<path d="M530 164.8l3.5 5.3l3.5 -5.3" stroke="#ffff00" fill="none" stroke-width="1.2" shape-rendering="auto"/>
<line x1="484" y1="257" x2="526" y2="299" stroke="#d8d8d8"/>
<text x="473.7" y="254" font-size="10.7" shape-rendering="auto" style="font-family:'Liberation Mono',monospace" textLength="51" lengthAdjust="spacingAndGlyphs"><tspan fill="#fff">P-4419</tspan><tspan fill="#00e6e6">-</tspan><tspan fill="#fff">5</tspan></text>
<path d="M524.8 251.5l3.4 -5.5" stroke="#ffff00" fill="none" stroke-width="1.2" shape-rendering="auto"/>
<line x1="677" y1="243" x2="720" y2="288" stroke="#d8d8d8"/>
<text x="665.2" y="240.8" font-size="10.7" shape-rendering="auto" style="font-family:'Liberation Mono',monospace" textLength="49" lengthAdjust="spacingAndGlyphs"><tspan fill="#fff">J-1549</tspan><tspan fill="#00e6e6">-</tspan><tspan fill="#fff">1</tspan></text>
<path d="M715 237.5h6" stroke="#ffff00" fill="none" stroke-width="1.2" shape-rendering="auto"/>
</g>
<rect x="8.5" y="758.5" width="244" height="45" fill="#000" stroke="#8c8c8c" shape-rendering="crispEdges"/>
<rect x="9.5" y="759.5" width="242" height="43" fill="none" stroke="#000" shape-rendering="crispEdges"/>
<text x="13.5" y="771.5" font-size="10.5" fill="#dcdcdc" textLength="35" lengthAdjust="spacingAndGlyphs" >Symbols</text>
<text x="53" y="771.5" font-size="10.5" fill="#dcdcdc" textLength="16" lengthAdjust="spacingAndGlyphs" >-CG</text>
<text x="78" y="771.5" font-size="10.5" fill="#dcdcdc" textLength="12.5" lengthAdjust="spacingAndGlyphs" >-IC</text>
<text x="99" y="771.5" font-size="10.5" fill="#dcdcdc" textLength="19.5" lengthAdjust="spacingAndGlyphs" >+CG</text>
<text x="124" y="771.5" font-size="10.5" fill="#dcdcdc" textLength="16.5" lengthAdjust="spacingAndGlyphs" >+IC</text>
<text x="153.5" y="771.5" font-size="10.5" fill="#dcdcdc" textLength="89" lengthAdjust="spacingAndGlyphs" >Strike age color codes</text>
<text x="13.5" y="784.5" font-size="10.5" fill="#dcdcdc" textLength="28" lengthAdjust="spacingAndGlyphs" >Recent</text>
<text x="13.5" y="797.5" font-size="10.5" fill="#dcdcdc" textLength="14" lengthAdjust="spacingAndGlyphs" >Old</text>
<g shape-rendering="crispEdges">
<g fill="#00e6e6"><use href="#n" x="60" y="780"/><use href="#i" x="85" y="780"/><use href="#p" x="110" y="780"/><use href="#j" x="135" y="780"/></g>
<g fill="#ffff00"><use href="#n" x="60" y="793"/><use href="#i" x="85" y="793"/><use href="#p" x="110" y="793"/><use href="#j" x="135" y="793"/></g>
</g>
<text x="154" y="784.5" font-size="10.5" fill="#ffdc00" textLength="16" lengthAdjust="spacingAndGlyphs" >15+</text>
<text x="188.5" y="784.5" font-size="10.5" fill="#ffb400" textLength="16" lengthAdjust="spacingAndGlyphs" >30+</text>
<text x="223" y="784.5" font-size="10.5" fill="#ff9a00" textLength="16" lengthAdjust="spacingAndGlyphs" >45+</text>
<text x="154" y="797.5" font-size="10.5" fill="#ff7d00" textLength="16" lengthAdjust="spacingAndGlyphs" >60+</text>
<text x="188.5" y="797.5" font-size="10.5" fill="#ff5a00" textLength="16" lengthAdjust="spacingAndGlyphs" >75+</text>
<text x="223" y="797.5" font-size="10.5" fill="#ff3200" textLength="16" lengthAdjust="spacingAndGlyphs" >90+</text>
<rect x="685" y="792" width="121" height="14" fill="#000"/>
<text x="689" y="802.5" font-size="10.5" fill="#f0f0f0" textLength="113" lengthAdjust="spacingAndGlyphs" >©2005 Astrogenic Systems</text>
<rect x="812.5" y="8.5" width="319" height="319.0" rx="4.5" ry="4.5" fill="#000" stroke="#c8c8c8"/>
<rect x="812.5" y="333.5" width="319" height="114.0" rx="4.5" ry="4.5" fill="#000" stroke="#c8c8c8"/>
<rect x="812.5" y="453.5" width="319" height="349.0" rx="4.5" ry="4.5" fill="#000" stroke="#c8c8c8"/>
<rect x="819" y="16" width="58" height="18" fill="#5a0000"/>
<path d="M819 33.5H876.5V16" fill="none" stroke="#a6a6a6" shape-rendering="crispEdges"/>
<path d="M819.5 34V16.5H877" fill="none" stroke="#f4f4f4" shape-rendering="crispEdges"/>
<text x="848.3" y="30" font-size="12" fill="#dcdcdc" text-anchor="middle" font-weight="bold" textLength="47.5" lengthAdjust="spacingAndGlyphs" >STRIKE</text>
<rect x="883" y="16" width="58" height="18" fill="#303030"/>
<path d="M883 33.5H940.5V16" fill="none" stroke="#a6a6a6" shape-rendering="crispEdges"/>
<path d="M883.5 34V16.5H941" fill="none" stroke="#f4f4f4" shape-rendering="crispEdges"/>
<text x="912" y="30" font-size="12" fill="#c8c8c8" text-anchor="middle" font-weight="bold" textLength="43" lengthAdjust="spacingAndGlyphs" >NOISE</text>
<rect x="994" y="16" width="128" height="18" fill="#303030"/>
<path d="M994 33.5H1121.5V16" fill="none" stroke="#a6a6a6" shape-rendering="crispEdges"/>
<path d="M994.5 34V16.5H1122" fill="none" stroke="#f4f4f4" shape-rendering="crispEdges"/>
<text x="998.5" y="30" font-size="12.3" fill="#fff" font-weight="bold" textLength="53" lengthAdjust="spacingAndGlyphs" >Bng 72°</text>
<text x="1118" y="30" font-size="12.2" fill="#00e000" text-anchor="end" font-weight="bold" textLength="43" lengthAdjust="spacingAndGlyphs" >403mi</text>
<rect x="821" y="64" width="82" height="16" fill="#606060"/>
<path d="M821 79.5H902.5V64" fill="none" stroke="#a6a6a6" shape-rendering="crispEdges"/>
<path d="M821.5 80V64.5H903" fill="none" stroke="#f4f4f4" shape-rendering="crispEdges"/>
<text x="862" y="76" font-size="11.4" fill="#fff" text-anchor="middle" textLength="66" lengthAdjust="spacingAndGlyphs" >Strikes/min</text>
<rect x="931" y="64" width="82" height="16" fill="#606060"/>
<path d="M931 79.5H1012.5V64" fill="none" stroke="#a6a6a6" shape-rendering="crispEdges"/>
<path d="M931.5 80V64.5H1013" fill="none" stroke="#f4f4f4" shape-rendering="crispEdges"/>
<text x="972" y="76" font-size="11.4" fill="#fff" text-anchor="middle" textLength="58" lengthAdjust="spacingAndGlyphs" >Close/min</text>
<rect x="1041" y="64" width="82" height="16" fill="#606060"/>
<path d="M1041 79.5H1122.5V64" fill="none" stroke="#a6a6a6" shape-rendering="crispEdges"/>
<path d="M1041.5 80V64.5H1123" fill="none" stroke="#f4f4f4" shape-rendering="crispEdges"/>
<text x="1082" y="76" font-size="11.4" fill="#fff" text-anchor="middle" textLength="63" lengthAdjust="spacingAndGlyphs" >Noises/min</text>
<text x="902" y="111.7" font-size="29" fill="#fff" text-anchor="end" font-weight="bold" textLength="17.5" lengthAdjust="spacingAndGlyphs" >9</text>
<text x="1012.5" y="111.7" font-size="29" fill="#fff" text-anchor="end" font-weight="bold" textLength="17.5" lengthAdjust="spacingAndGlyphs" >0</text>
<text x="1122.5" y="111.7" font-size="29" fill="#b4b4b4" text-anchor="end" font-weight="bold" textLength="17.5" lengthAdjust="spacingAndGlyphs" >0</text>
<text x="902.5" y="142.7" font-size="12.2" fill="#fff" text-anchor="end" textLength="76" lengthAdjust="spacingAndGlyphs" >Total Strikes</text>
<text x="1012.5" y="142.7" font-size="12.2" fill="#fff" text-anchor="end" textLength="69" lengthAdjust="spacingAndGlyphs" >Total Close</text>
<text x="1122.5" y="142.7" font-size="12.2" fill="#c8c8c8" text-anchor="end" textLength="75" lengthAdjust="spacingAndGlyphs" >Total Noises</text>
<text x="902.5" y="160.8" font-size="12.2" fill="#fff" text-anchor="end" textLength="30.5" lengthAdjust="spacingAndGlyphs" >5334</text>
<text x="1012.5" y="160.8" font-size="12.2" fill="#fff" text-anchor="end" textLength="7.5" lengthAdjust="spacingAndGlyphs" >0</text>
<text x="1122.5" y="160.8" font-size="12.2" fill="#fff" text-anchor="end" textLength="23" lengthAdjust="spacingAndGlyphs" >531</text>
<text x="821" y="214.5" font-size="12.2" fill="#b4b4b4" textLength="165" lengthAdjust="spacingAndGlyphs" >Lightning type distribution</text>
<rect x="821" y="217" width="303" height="1" fill="#909090"/>
<text x="821" y="236.5" font-size="12" fill="#fff" font-weight="bold" textLength="84.5" lengthAdjust="spacingAndGlyphs" >Cloud-ground</text>
<text x="913" y="236.5" font-size="12.2" fill="#dcdcdc" >+</text>
<rect x="925.5" y="227.5" width="50" height="10" rx="2" fill="#000" stroke="#8c8c8c"/>
<rect x="926" y="228" width="13" height="9" fill="#ff0000"/>
<text x="979.5" y="236.5" font-size="12" fill="#fff" font-weight="bold" textLength="29" lengthAdjust="spacingAndGlyphs" >27%</text>
<rect x="1016" y="230.5" width="6.5" height="2" fill="#dcdcdc"/>
<rect x="1028.5" y="227.5" width="50" height="10" rx="2" fill="#000" stroke="#8c8c8c"/>
<rect x="1029" y="228" width="32" height="9" fill="#8fcaff"/>
<text x="1082" y="236.5" font-size="12" fill="#fff" font-weight="bold" textLength="29" lengthAdjust="spacingAndGlyphs" >65%</text>
<text x="821" y="260.5" font-size="12" fill="#c8c8c8" font-weight="bold" textLength="38" lengthAdjust="spacingAndGlyphs" >Count</text>
<text x="925.5" y="260.5" font-size="12" fill="#fff" font-weight="bold" textLength="31" lengthAdjust="spacingAndGlyphs" >1464</text>
<text x="1028.5" y="260.5" font-size="12" fill="#fff" font-weight="bold" textLength="31" lengthAdjust="spacingAndGlyphs" >3455</text>
<text x="821" y="290.5" font-size="12" fill="#fff" font-weight="bold" textLength="64" lengthAdjust="spacingAndGlyphs" >Intracloud</text>
<text x="913" y="290.5" font-size="12.2" fill="#dcdcdc" >+</text>
<rect x="925.5" y="281.5" width="50" height="10" rx="2" fill="#000" stroke="#8c8c8c"/>
<rect x="926" y="282" width="2" height="9" fill="#ff69b4"/>
<text x="979.5" y="290.5" font-size="12" fill="#fff" font-weight="bold" textLength="21" lengthAdjust="spacingAndGlyphs" >5%</text>
<rect x="1016" y="284.5" width="6.5" height="2" fill="#dcdcdc"/>
<rect x="1028.5" y="281.5" width="50" height="10" rx="2" fill="#000" stroke="#8c8c8c"/>
<rect x="1029" y="282" width="1" height="9" fill="#00e000"/>
<text x="1082" y="290.5" font-size="12" fill="#fff" font-weight="bold" textLength="21" lengthAdjust="spacingAndGlyphs" >2%</text>
<text x="821" y="314.5" font-size="12" fill="#c8c8c8" font-weight="bold" textLength="38" lengthAdjust="spacingAndGlyphs" >Count</text>
<text x="925.5" y="314.5" font-size="12" fill="#fff" font-weight="bold" textLength="23" lengthAdjust="spacingAndGlyphs" >284</text>
<text x="1028.5" y="314.5" font-size="12" fill="#fff" font-weight="bold" textLength="23" lengthAdjust="spacingAndGlyphs" >131</text>
<text x="821.5" y="352.5" font-size="15.8" fill="#00e000" font-weight="bold" textLength="190.5" lengthAdjust="spacingAndGlyphs" >3/8/2026 7:50:00 AM</text>
<rect x="821" y="358" width="302" height="1" fill="#a0a0a0"/>
<text x="821.5" y="387.7" font-size="12.2" fill="#fff" textLength="48" lengthAdjust="spacingAndGlyphs" >Squelch</text>
<text x="909.5" y="387.7" font-size="12.2" fill="#fff" textLength="7.5" lengthAdjust="spacingAndGlyphs" >0</text>
<text x="981.5" y="387.7" font-size="12.2" fill="#fff" textLength="43" lengthAdjust="spacingAndGlyphs" >Upload</text>
<text x="1061" y="387.7" font-size="12.2" fill="#c8c8c8" textLength="53" lengthAdjust="spacingAndGlyphs" >Disabled</text>
<text x="821.5" y="407.7" font-size="12.2" fill="#fff" textLength="73" lengthAdjust="spacingAndGlyphs" >Persistence</text>
<text x="909.5" y="407.7" font-size="12.2" fill="#fff" textLength="41" lengthAdjust="spacingAndGlyphs" >90 min</text>
<text x="981.5" y="407.7" font-size="12.2" fill="#fff" textLength="50" lengthAdjust="spacingAndGlyphs" >Capture</text>
<text x="1061" y="407.7" font-size="12.2" fill="#00e000" textLength="36" lengthAdjust="spacingAndGlyphs" >Active</text>
<text x="821.5" y="427.5" font-size="12.2" fill="#fff" textLength="39" lengthAdjust="spacingAndGlyphs" >Range</text>
<text x="909.5" y="427.5" font-size="12.2" fill="#fff" textLength="41" lengthAdjust="spacingAndGlyphs" >313 mi</text>
<text x="981.5" y="427.5" font-size="12.2" fill="#fff" textLength="53" lengthAdjust="spacingAndGlyphs" >Receiver</text>
<text x="1061" y="427.5" font-size="12.2" fill="#00e000" textLength="50" lengthAdjust="spacingAndGlyphs" >Enabled</text>
<text x="821.5" y="475" font-size="12.2" fill="#c8c8c8" textLength="44" lengthAdjust="spacingAndGlyphs" >Uptime</text>
<text x="910.5" y="475" font-size="12.2" fill="#fff" textLength="51" lengthAdjust="spacingAndGlyphs" >1315:35</text>
<text x="981.5" y="475" font-size="12.2" fill="#c8c8c8" textLength="61" lengthAdjust="spacingAndGlyphs" >Peak time</text>
<text x="1061.5" y="475" font-size="12.2" fill="#c8c8c8" textLength="24" lengthAdjust="spacingAndGlyphs" >Plot</text>
<text x="821.5" y="497.8" font-size="12.2" fill="#c8c8c8" textLength="60" lengthAdjust="spacingAndGlyphs" >Peak rate</text>
<text x="910" y="497.8" font-size="12.2" fill="#fff" textLength="42" lengthAdjust="spacingAndGlyphs" >41/min</text>
<text x="981.5" y="497.8" font-size="12.2" fill="#fff" textLength="51" lengthAdjust="spacingAndGlyphs" >6:27 AM</text>
<text x="1061.5" y="497.8" font-size="12.2" fill="#fff" textLength="35" lengthAdjust="spacingAndGlyphs" >Strike</text>
<text x="822.5" y="527.8" font-size="12.2" fill="#c8c8c8" textLength="75.5" lengthAdjust="spacingAndGlyphs" >Trend graph</text>
<text x="908.5" y="527.8" font-size="12.2" fill="#fff" textLength="41" lengthAdjust="spacingAndGlyphs" >60 min</text>
<polyline points="822.5,763.0 823.0,777.0 827.5,774.0 830.0,770.0 832.0,777.0 849.5,777.0 852.0,771.0 855.5,774.0 859.0,777.0 861.5,765.0 864.0,762.0 866.5,768.0 870.5,774.0 873.0,777.0 906.0,777.0 908.5,771.0 912.0,771.0 914.5,777.0 921.0,777.0 923.5,771.0 926.0,777.0 943.0,777.0 945.5,770.0 950.0,770.0 950.0,770.0 952.0,777.0 965.0,777.0 967.0,770.0 970.0,770.0 971.5,777.0 989.5,777.0 991.5,770.0 994.0,777.0 1000.5,777.0 1002.0,763.0 1005.5,763.0 1008.0,777.0 1032.5,777.0 1035.0,770.0 1037.5,777.0 1053.5,777.0 1056.0,770.0 1059.5,770.0 1061.5,777.0 1088.5,777.0" fill="none" stroke="#00e600" stroke-width="1" shape-rendering="crispEdges" stroke-linejoin="miter"/>
<polyline points="822.5,773.0 825.5,758.0 828.5,767.0 831.0,767.0 833.5,777.0 839.5,777.0 842.0,768.0 846.0,767.0 848.0,762.0 852.0,762.0 854.5,768.0 858.0,777.0 864.0,777.0 868.0,769.0 874.0,769.0 876.5,774.0 882.5,774.0 885.0,777.0 892.5,777.0 895.0,770.0 898.5,770.0 901.0,777.0 913.5,777.0 917.0,763.0 919.5,770.0 922.0,777.0 930.5,777.0 933.0,770.0 935.5,777.0 943.0,777.0 948.0,770.0 950.0,777.0 950.0,770.0 952.5,777.0 956.0,777.0 958.5,754.0 962.0,754.0 963.5,777.0 967.0,777.0 971.0,767.0 974.5,769.0 982.0,769.0 987.0,763.0 989.5,770.0 992.0,777.0 1024.0,777.0 1026.5,770.0 1030.0,777.0 1035.0,770.0 1038.5,777.0 1043.5,770.0 1047.0,777.0 1058.5,777.0 1062.0,770.0 1065.5,777.0 1088.5,777.0" fill="none" stroke="#ff69b4" stroke-width="1" shape-rendering="crispEdges" stroke-linejoin="miter"/>
<polyline points="822.5,743.0 822.5,758.0 824.5,725.0 826.0,748.0 828.5,738.0 830.5,751.0 832.5,741.0 835.0,753.0 837.0,741.0 839.5,738.0 841.5,753.0 844.0,768.0 847.0,763.0 849.5,753.0 852.0,741.0 854.0,753.0 856.5,765.0 859.5,773.0 863.0,763.0 865.5,753.0 868.0,760.0 870.5,738.0 873.0,753.0 875.5,768.0 878.5,758.0 881.5,747.0 884.0,758.0 886.5,762.0 889.0,755.0 892.0,768.0 895.0,776.0 900.0,776.0 903.5,763.0 908.0,747.0 911.0,760.0 913.5,755.0 916.0,748.0 918.5,763.0 921.5,776.0 927.0,776.0 930.5,773.0 934.5,776.0 938.0,763.0 940.5,753.0 943.0,768.0 945.5,776.0 950.0,776.0 950.0,773.0 953.5,763.0 956.0,758.0 959.5,747.0 962.0,763.0 965.0,776.0 967.0,763.0 969.5,768.0 971.5,762.0 974.5,776.0 979.5,773.0 983.0,753.0 987.0,763.0 989.5,748.0 991.5,733.0 994.0,743.0 995.5,763.0 998.0,776.0 1000.5,763.0 1003.0,748.0 1005.5,731.0 1008.0,748.0 1010.5,773.0 1013.0,776.0 1015.0,763.0 1017.5,753.0 1020.0,763.0 1022.0,776.0 1029.0,776.0 1032.5,768.0 1035.0,763.0 1037.5,753.0 1040.5,747.0 1043.0,758.0 1046.0,768.0 1048.5,748.0 1051.0,753.0 1053.5,768.0 1056.0,776.0 1062.0,776.0 1065.0,763.0 1068.0,768.0 1072.0,763.0 1075.5,753.0 1078.0,760.0 1080.5,768.0 1083.0,763.0 1085.5,753.0 1088.0,773.0 1088.5,776.0" fill="none" stroke="#ff0000" stroke-width="1" shape-rendering="crispEdges" stroke-linejoin="miter"/>
<polyline points="822.5,691.0 823.0,731.0 825.0,723.0 826.0,748.0 828.0,743.0 829.5,723.0 831.0,709.0 832.5,701.0 834.5,719.0 836.5,748.0 838.5,753.0 839.5,728.0 841.5,714.0 843.5,706.0 845.0,719.0 847.0,738.0 849.0,758.0 850.5,743.0 852.0,719.0 853.5,699.0 855.0,704.0 856.5,672.0 858.0,689.0 860.0,677.0 862.0,667.0 863.5,689.0 865.5,706.0 867.0,723.0 868.5,655.0 870.5,672.0 872.0,682.0 874.0,664.0 876.0,694.0 878.0,706.0 879.5,672.0 881.0,647.0 882.5,664.0 884.5,696.0 886.5,719.0 888.5,723.0 890.0,746.0 892.0,738.0 894.0,728.0 896.0,706.0 898.5,728.0 900.5,738.0 903.0,731.0 905.5,723.0 908.0,723.0 910.5,723.0 912.0,738.0 914.5,753.0 916.5,733.0 918.5,719.0 920.5,738.0 922.5,728.0 924.0,738.0 926.0,758.0 928.0,768.0 930.0,748.0 932.5,738.0 935.0,728.0 937.5,709.0 939.5,728.0 941.5,743.0 943.5,760.0 945.5,758.0 948.0,743.0 950.0,728.0 950.0,731.0 952.0,748.0 953.5,738.0 956.0,731.0 958.5,733.0 961.0,738.0 963.5,728.0 965.5,743.0 967.0,723.0 969.0,684.0 970.5,664.0 971.5,642.0 973.0,657.0 974.5,679.0 976.5,709.0 978.0,733.0 979.5,760.0 981.5,738.0 983.0,699.0 984.5,682.0 986.0,704.0 987.5,723.0 989.5,714.0 991.0,689.0 992.5,672.0 994.5,694.0 996.5,723.0 998.5,748.0 1000.0,768.0 1001.5,738.0 1003.5,706.0 1005.5,684.0 1007.0,694.0 1009.0,719.0 1011.0,731.0 1013.0,723.0 1014.5,738.0 1016.5,738.0 1018.0,704.0 1019.0,689.0 1020.5,699.0 1022.0,719.0 1024.0,748.0 1025.5,728.0 1027.5,719.0 1029.5,731.0 1031.0,728.0 1033.0,709.0 1035.0,689.0 1036.5,679.0 1038.5,689.0 1040.5,709.0 1042.5,728.0 1044.0,738.0 1046.0,748.0 1048.0,758.0 1049.5,768.0 1051.0,738.0 1052.5,704.0 1054.5,699.0 1056.5,714.0 1058.5,723.0 1061.0,723.0 1063.0,733.0 1065.5,738.0 1067.5,748.0 1069.5,768.0 1071.0,719.0 1072.5,694.0 1073.5,677.0 1075.0,689.0 1077.0,709.0 1078.5,738.0 1080.5,753.0 1083.0,758.0 1085.0,748.0 1086.5,758.0 1088.0,738.0 1088.5,773.0" fill="none" stroke="#9ad0ff" stroke-width="1" shape-rendering="crispEdges" stroke-linejoin="miter"/>
<polyline points="822.5,646.0 823.0,691.0 824.5,661.0 826.0,684.0 827.5,661.0 829.0,677.0 831.0,660.0 833.5,660.0 834.5,675.0 836.5,696.0 838.5,711.0 839.5,689.0 841.5,668.0 843.5,685.0 846.0,696.0 847.5,719.0 849.5,728.0 851.5,696.0 852.5,652.0 854.0,636.0 855.5,659.0 857.5,648.0 859.0,637.0 860.5,652.0 863.0,652.0 865.5,636.0 867.0,650.0 869.0,621.0 871.0,627.0 872.0,621.0 874.0,640.0 876.5,662.0 878.5,650.0 879.5,636.0 880.5,605.0 882.0,623.0 883.5,655.0 885.0,679.0 887.0,699.0 889.0,694.0 890.0,723.0 892.0,733.0 894.0,714.0 896.5,684.0 898.5,704.0 901.0,738.0 903.5,723.0 906.0,699.0 908.5,684.0 911.0,699.0 913.5,719.0 916.0,699.0 918.0,691.0 919.5,706.0 921.5,728.0 923.5,709.0 925.0,728.0 927.0,748.0 928.5,768.0 930.5,738.0 933.0,728.0 935.5,706.0 938.0,675.0 940.0,709.0 942.0,728.0 943.5,751.0 945.5,748.0 948.0,728.0 950.0,715.0 950.0,719.0 952.0,738.0 953.5,723.0 956.0,706.0 958.0,696.0 959.5,675.0 962.0,684.0 963.5,714.0 965.5,733.0 967.0,714.0 969.0,669.0 970.0,652.0 971.5,629.0 972.5,645.0 974.0,664.0 976.0,699.0 977.5,723.0 979.5,753.0 981.5,728.0 983.0,684.0 984.5,653.0 986.0,689.0 987.5,714.0 989.5,699.0 990.5,657.0 992.5,653.0 994.5,672.0 996.5,714.0 998.0,738.0 1000.0,763.0 1001.5,728.0 1003.5,689.0 1005.5,661.0 1007.0,672.0 1009.0,709.0 1011.0,723.0 1013.0,709.0 1014.5,723.0 1016.5,738.0 1017.5,689.0 1018.5,661.0 1020.0,684.0 1022.0,706.0 1024.0,746.0 1025.5,719.0 1027.0,707.0 1029.0,721.0 1030.5,716.0 1032.5,694.0 1035.0,677.0 1036.5,659.0 1038.5,672.0 1040.5,696.0 1042.5,719.0 1044.0,728.0 1046.0,738.0 1048.0,753.0 1049.5,763.0 1051.0,728.0 1052.5,689.0 1054.5,684.0 1056.5,701.0 1058.5,709.0 1061.0,715.0 1065.5,715.0 1067.5,728.0 1069.5,763.0 1071.0,699.0 1072.5,672.0 1073.5,653.0 1075.0,672.0 1077.0,699.0 1078.5,728.0 1080.5,746.0 1083.0,746.0 1085.0,731.0 1086.5,748.0 1088.0,715.0 1088.5,773.0" fill="none" stroke="#ffffff" stroke-width="1" shape-rendering="crispEdges" stroke-linejoin="miter"/>
<g stroke="#c8c8c8" shape-rendering="crispEdges" fill="none">
<path d="M822.5 777.5H1089.5M1088.5 542V778"/>
<path d="M1084 542.5H1089"/>
<path d="M1084 620.5H1089"/>
<path d="M1084 699.5H1089"/>
<path d="M1086 581.5H1089"/>
<path d="M1086 660.5H1089"/>
<path d="M1086 738.5H1089"/>
<path d="M822.5 776V779"/>
<path d="M866.5 776V779"/>
<path d="M911.5 776V779"/>
<path d="M955.5 776V779"/>
<path d="M1000.5 776V779"/>
<path d="M1044.5 776V779"/>
<path d="M1089.5 776V779"/>
</g>
<text x="1093" y="546.6" font-size="12" fill="#c8c8c8" textLength="13" lengthAdjust="spacingAndGlyphs" >30</text>
<text x="1093" y="624.9" font-size="12" fill="#c8c8c8" textLength="13" lengthAdjust="spacingAndGlyphs" >20</text>
<text x="1093" y="703.2" font-size="12" fill="#c8c8c8" textLength="13" lengthAdjust="spacingAndGlyphs" >10</text>
<text x="826.6" y="793.5" font-size="12" fill="#c8c8c8" text-anchor="middle" textLength="13.5" lengthAdjust="spacingAndGlyphs" >60</text>
<text x="871.0" y="793.5" font-size="12" fill="#c8c8c8" text-anchor="middle" textLength="13.5" lengthAdjust="spacingAndGlyphs" >50</text>
<text x="915.4" y="793.5" font-size="12" fill="#c8c8c8" text-anchor="middle" textLength="13.5" lengthAdjust="spacingAndGlyphs" >40</text>
<text x="959.8" y="793.5" font-size="12" fill="#c8c8c8" text-anchor="middle" textLength="13.5" lengthAdjust="spacingAndGlyphs" >30</text>
<text x="1004.2" y="793.5" font-size="12" fill="#c8c8c8" text-anchor="middle" textLength="13.5" lengthAdjust="spacingAndGlyphs" >20</text>
<text x="1048.6" y="793.5" font-size="12" fill="#c8c8c8" text-anchor="middle" textLength="13.5" lengthAdjust="spacingAndGlyphs" >10</text>
<text x="1090" y="793.5" font-size="12" fill="#c8c8c8" text-anchor="middle" textLength="7" lengthAdjust="spacingAndGlyphs" >0</text>
<text x="1100" y="793.5" font-size="12" fill="#c8c8c8" textLength="19" lengthAdjust="spacingAndGlyphs" >min</text>
</svg></body></html>
